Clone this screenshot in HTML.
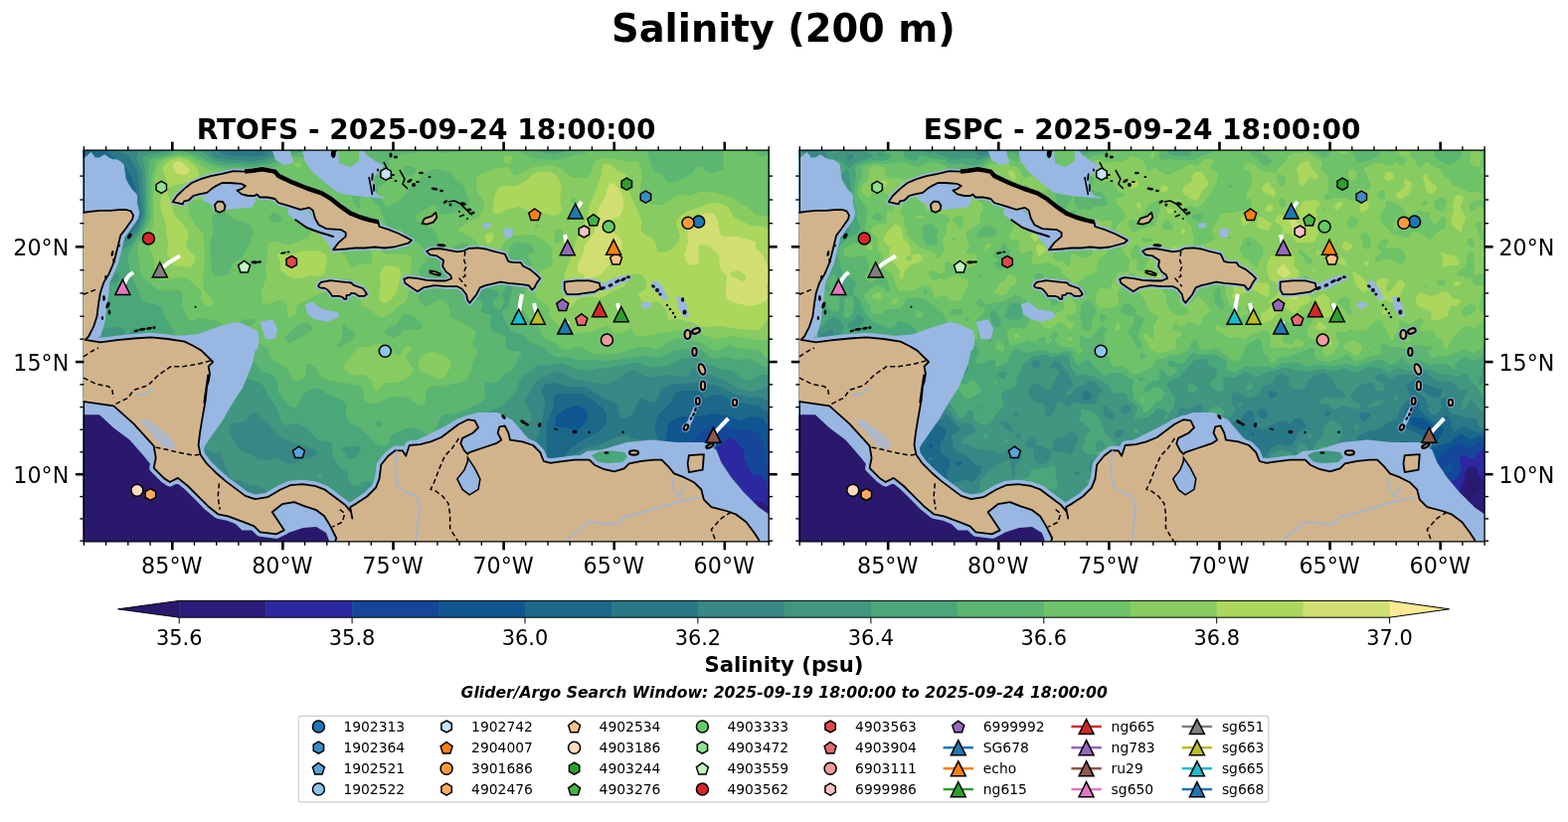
<!DOCTYPE html><html><head><meta charset="utf-8"><title>Salinity (200 m)</title><style>html,body{margin:0;padding:0;background:#fff;}svg{display:block;}</style></head><body>
<svg width="1577" height="827" viewBox="0 0 1577 827" font-family="DejaVu Sans, Liberation Sans, sans-serif">
<rect width="1577" height="827" fill="#fff"/>
<text x="787.9" y="41.8" text-anchor="middle" font-size="38.4" font-weight="bold">Salinity (200 m)</text>
<text x="428.6" y="139.5" text-anchor="middle" font-size="28.0" font-weight="bold">RTOFS - 2025-09-24 18:00:00</text>
<text x="1148.6" y="139.5" text-anchor="middle" font-size="28.0" font-weight="bold">ESPC - 2025-09-24 18:00:00</text>
<clipPath id="cl"><rect x="83.6" y="151.2" width="689.6" height="393.6"/></clipPath>
<g clip-path="url(#cl)">
<rect x="84.4" y="151.2" width="688.8" height="393.6" fill="#98b7e2"/>
<rect x="80.4" y="147.2" width="698.0" height="402.0" fill="#2a186c"/>
<path fill="#2b1c7a" d="M82 147l696 0 0 374-6 1-2 1-2 4-1 6 2 8-2 8-668 0-3-4-4-2-12 1 0-397z"/>
<path fill="#2b28a0" d="M82 147l696 0 0 365-12-7-6-1-2 1-2 3-1 11-2 2-3 1-4-2-2-2-4-11-4-3-4 0-14 6-7 11-1 4 1 4 1 1 6-3 4-1 6 4 3 3 1 8 4 8-630 0-2-9-2-4-2-3-4-1-4 1-12 3 0-389zM707 535l-3 2-1 4 0 2 1 2 4-4 1-2-1-5z"/>
<path fill="#15469a" d="M82 147l696 0 0 354-4-2-2-3-2-11-4-5-2-2-8-1-1-2-6-12-1-10-10-11-4-2-10 9-8 4-1 2 6 12 7 6 4 4 1 4 0 4-4 4-7 4-4 1-8 0-4 2-2 3-2 8-7 10-3 14-8 10 0 8-526 0-1-20-3-4-8-7-8-3-6-6-8-5-4-1-2 0-12 12-6 1-8 4-4 0-8-3 0-370z"/>
<path fill="#0f5690" d="M82 147l696 0 0 337-4-5-2-5-1-5-1-14-5-16-3-4-6-2-12 0-14-4-12-1-10 4-8 7-4 6 0 6 4 16 3 6 0 4-4 8-5 16-8 10-1 14-4 4-13 5-6 3-7 12-455 0-1-8-1-2-2-1-8 4-16-5-1-4-1-8-5-8 1-12-4-5-4-2-9-3-9-5-8-3-4-1-6 1-14 8-12 11-6 2-4-1-2-2-1-2 0-6-1-2-2-1 0-347zM101 477l0 2 1 2 2 1 2-2 1-1-1-2-4 0z"/>
<path fill="#1b6889" d="M82 147l696 0 0 299-2-3 1-8-1-2-9-12-5-2-8 1-10 3-12-5-16-2-14 3-16 0-5 2-7 4-2 2-2 12 0 6 2 4 4 5 10 4 2 4-1 15-3 16-4 5-9 3-2 8-3 4-10 4-2-1-2-3-2 0-1 0-1 2-1 8-2 10-9 12-1 4-396 0-2-8-5-4-4-1-10 0-6-7-10-5-10-2-2-2-1-3-2-10-4-6-2-8-1-2-12-3-10-1-4-2-10-8-10-5-14 1-14-6-10-5-8 1-8-2 0-314zM576 409l-8 3-8 6-1 3-1 4 2 4 2 1 8 0 8 4 3-1 3-3 6-7 1-4 0-2-2-4-5-4-4-1-4 1z"/>
<path fill="#297887" d="M104 147l674 0 0 272-14-10-26-5-14-7-5 0-11 4-3-6-5-2-14 0-6 2-2 2-3 8-13 12-3 8 0 8 3 8 2 10 4 10 1 8 4 8 0 6-3 3-10 3-8 8-6 3-12 15-3 10-3 4-6 4-6 3-6 1-14 0-12 4-20 0-4 1-8 5-9 0-3 2-251 0-3-8-4-3-20-2-7-3-3-4-2-14-2-4-8-4-16-2-10-5-4-4-6-11-10-7-10-3-12-7-4-1-10 0-22-9-6 0-8 4-6 0-4-2-4-7-4-2-14-8-10-3 0-275 14 4 4 3 8 11-2 10 2 3 8 4 10 3 4 3 2 5-4 10 1 4 2 2 3 1 2-2 4-7 2-6-4-24-4-12-8-13-12-7-6-6-2-4zM559 397l-2 4-1 10-6 16 0 32-2 4-7 10 1 4 2 4 4-2 16-14 10-14 12-8 10-5 10-7 2-3 2-5 0-6-3-6-9-7-11-7-7-1-8 1-8-1-4 0z"/>
<path fill="#388785" d="M112 147l666 0 0 260-8-5-4-2-10 0-18-4-16-8-20-3-22 1-8 2-6 3-2 2-2 8-4 3-4 1-6-3-4-1-3 4-5 12-4 3-4 1-4-2-1-2-2-8-3-4-12-5-16-10-6-1-14 0-12-4-8 1-4 3-1 2 0 4 3 8 0 6-6 28-2 4-6 6-2 4 5 8 0 2-9 12 0 4 3 8 0 4-3 8-6 8-1 6 0 4 1 2 2-1 7-11 17-14 28-32 12-8 14-3 10-5 14-5 4 0 8 4 14 2 3 1 2 4 0 10-10 22-4 2-11 0-12 4-9 4-4 4 1 4 10 10 0 2-2 4-4 4-4 2-10 0-10 5-6 2-2-1-8-5-6 0-5 3-4 6-5 4-4 2-8 1-4 1-11 10-217 0-2-4-4-4-4-6-6-4-8-5-10-1-8-3-4-5-3-8-3-3-34-17-2-4-2-10-4-5-8-1-6-4-4-1-8 1-4 0-18-9-12-1-8-7-4-2-4 0-10 0-12-7-10 0-8-3-18-3 0-241 6 3 6 10 1 4-2 8 1 4 4 4 8 3 6 7 2 1 14 0 6-1 6-7 5-13-1-9-4-35-10-15-12-4-3-3-1-2zM245 151l-17 0-6 2 2 2 8 2 10 0 12 1 8-1 5-2 1-2-6-2-16 0zM82 175l6 4 1 4-3 2-6 1 0-11z"/>
<path fill="#40967f" d="M122 147l95 0-5 4 0 2 1 2 3 3 14 3 12 0 12 1 12-2 10-5 2-2 1-2-3-4 502 0 0 240-18 6-6 1-14-4-10-7-34-13-1 1-2 6-3 2-4 0-16-2-12 2-8 0-4-2-6-4-4-1-7 3-7 6-4 3-12 3-32-7-12-6-4 1-10 3-8 5-11 18-1 4 4 7 2 7 0 4-2 3-24 11-2 0-6-5-4-1-8-1-8 4-2 3-2 4-1 10-3 6 1 4 1 2 7 6 6 8 11 8 6 1 10-2 2 1 2 2-1 4-4 8 0 10-1 4-13 18-3 4-10 6-4 1-14-7-2 3-1 11-48 0 0-8-3-1-10 3-4 0-4-1-8-6-24-1-9-10 0-4 2-6-1-1-2 0-6 3-2 2 0 2 4 4 1 2-1 4 1 2 9 5 1 3-4 8-7 0-4-8 0-8-1-2-11-4-8-5-11-5-13-3-4-5-6-3-4 0-2 1-8 5-4-1-2-4-3-12-3-3-4-2-13-3-7-4-6 0-4-2-8-18-2-8-8 0-10-5-18 1-3-2-5-7-2-1-8-1-6-4-1-3 1-2 4-12 2-2 4-1 4 2 4 3 2 6 2 2 2 0 4-3 9-9 2-6-1-4-4-6-8-7-4-1-2 0-11 8-7 3-9 3-11 5-6 15-4 4-6 2-4 0-5-2-15-9-4-1-10 1-10-4 0-44 4-1 3-2 1-4-4-12-4-3 0-49 5-2 2-2 0-2-3-2-4-1 0-62 10 3 17 8 5 1 12 0 6-3 8-8 4-8 3-8 0-8-3-38-5-12 2-6 0-2-7-3-8 0-3-1zM255 415l-3 2-5 6-3 2-8 0-4 2-1 2-1 2 1 4 7 14 2 3 10 4 10 6 6 1 12-2 12 6 6-1 12-5 6-1 4-2 1-3-1-2-4-2-14-4-16-6-6-4-8-10-8-6-4-5-2-1zM470 519l-2 2 0 2 2 3 2-3 1-2-3-2zM618 449l12-1 10 2 5 3-1 6-4 6-12 9-6 2-10 0-16 11-16 18-10 4-28 16-8 2-4-1 0-1 1-4 6-12 21-20 13-16 7-8 6-4 8-4 14-3 12-5zM384 546l4 1 1 2-7 0 0-2z"/>
<path fill="#4aa77a" d="M148 147l60 0-4 4 0 2 5 4 7 4 12 3 14 0 12 1 12-2 10-4 10-6 1-2-2-4 493 0 0 230-14 0-3 2-5 4-4 0-6-2-9-8-13-2-10-3-5-3-7-5-4-1-13 2-9 5-6 2-16 2-11-5-7 0-22 5-14 1-8 2-14-2-12-5-6 0-10 2-8-1-2 0-6 6-6 3-3 3-3 5-3 11-9 8-5 6-9 3-8 5-20 5-14 7-2 2-1 8 2 20 1 3 7 7 1 12 0 2-2 3-10 1-4 2-4 5-2 0-2-3-1-8-3-6 0-10-2-4-4-2-10-2-6 2-6 5-10 1-4 2-14 17-12-2-6 4-6 0-3-3-2-10-2-2-7-4-4-8-2-6 0-8-1-2-3-1-8-1-4-2-8-8-8-6-4-1-10 2-4-2-2-3-4-14-9-12-3-8-4-3-10-4-14-2-2 1-6 8-10 8-4 1-6-1-8-5-4-4-6-10-6-2-6-1-10 2-10-1-2 1-6 9-4 1-3-2-3-4-2-6 5-8 9-6 3-4-1-4-6-4-3-10-3-4-6-5-2 0-3 1-3 4-2 8-2 3-2 1-2-1 0-3 4-10-1-2-3-1-6-1-12 2-4-2-10-9 0-3 0-2 8-3 2-3 2-20 2-4 2-1 8 1 4-2 2-2 0-4-2-2-10-3-2-2-1-9-5-8 1-2 3-1 18 1 4-1 4-3 10-14 5-10 2-10-1-30 0-12-2-12 1-2 3-1 16-3 2-2-4-1-10 0-5-3zM166 355l-1 4 1 4 2 1 4-1 1-2-1-4-2-2-2-1-2 1zM352 449l-6 1-2 1 2 4 4 6 2 1 2 0 4-3 4-4 1-2 0-2-3-2-6 0zM106 368l4 0 3 1 2 4 6 2 2 2 0 8-4 8-11 11-6 3-8 3-4 0-10-5 0-22 10-1 15-13zM622 456l4 0 3 1 0 2-1 2-4 1-4-3 1-2zM584 469l4 0 1 2-1 6-3 6-7 5-6 2-1-1 1-4 4-8 4-6 3-2zM320 477l4 2 0 2-4 1-1-3zM556 501l4-1 0 3-5 4-5 1 1-3 4-4zM452 548l2 1-2 0z"/>
<path fill="#5cb571" d="M172 147l19 0-6 4 3 2 14 5 10 5 8 3 8 1 14 0 12 1 18-3 18-9 18-4 10 2 10 0 10 1 12 1 6-1 3-2-1-2-9-4 207 0-6 3-5 1-1 2 14 2 8-2 1-2-3-4 214 0 0 221-6 1-4 0-12-7-4-1-12 1-10-3-10 2-4-1-10-7-8-2-22 2-10 6-4 1-14-2-40 5-12-1-12 1-10-3-16-1-3-2-9-8-12-4-9-8-11-4-8-14-1-4 0-2 6-4 3-12 1-10 3-4 4-2 3-4-1-3-2-2-6-2-5 3-3 6 1 8-1 4-3 4 2 8-3 8-2 1-2-1-4-6 0-2 6-6 0-2-4-3-16-4-5 3-3 4 0 3 2 2 9 3 1 2-2 6 0 3 8 2 2 1-1 8 1 6 2 2 10 4 2 2 1 2 0 8 1 2 4 2 8 0 2 2 0 2-8 14-2 2-8 5-6 7-4 1-6-2-2 2-1 3 2 10-5 6-24 11-12 1-4 2-2 4-4 9-4 4-6 1-6-5-4-2-10 1-14 6-3 8-1 2-4 2-6-1-2-1-6-7-9-9-3-2-6-2-4-3-2-5 0-12-2-3-2-1-12-5-11-7-5 0-6 2-4 2-3 4-4 10-3 1-2 0-4-2-10-13-1-10-3-6-2-2-10-3-8-9-10-8-12-4-10-6-2 0-6 2-8 0-4 0-8 6-2 0-10-5-3-3-3-4-3-10-8-12-5-12-4-2-12-3-4-3-1-2-3-10-6-10-4-20 8-16 8-12 4-10 1-8-1-30 2-22 2-2 14-3 8-3 2-2-5-4zM380 423l-3 2 0 2 5 2 2-1 0-3-4-2zM296 147l35 0-3 1-10 0-10 3-8-1-4-3z"/>
<path fill="#6ec268" d="M464 147l67 0-6 4-1 2 2 2 14 5 18 1 6-1 16-5 8 0 2-2-10-2-4-4 78 0-3 6 4 14 3 5 8 3 4 7 4 2 8-2 14-7 4-7 2-1 4 1 6 5 4 1 11-3 1-2-1-6 1-6-4-10 20 0 2 3 3-1 1-2 11 0-3 4 1 2 5 4 4 0 10-4 0 46-1 2 1 3 0 154-6 2-2 0-4-6-4-2-18-1-10-4-4 2-8 4-4 0-12-8-22-5-10 3-12 8-4 0-6-2-10 0-18 6-22 2-8-2-10-6-4 0-8 3-6 0-6-6-11-5-4-4-3-10-4-4-6-2-2-2-3-6-2-6 2-12 7-16 0-16 0-2-4-4 2-2 5 0 0-4-2-4-3-2-8-1-4-1-4 2-3 4-2 10-5 8-6 5-4 2-4-1-6-3-7-7-2-4-3-9-4-4-6-2-12 8-2 0-2 0-7-9-3-10-4-3-14-7-2-2 0-2 2-4 16-9 2 0 4 9 4 1 6-1 12-3 4-2 3-3 1-4-6-16-4-4-5-4-3-4-2-2-12-3-4 0-4 1-6 4-5 6-5 4-12 15-12 8-4-1-7-10-1-4 0-4 8-6 2-4 1-12 0-6 11-5 28-4 12 2 20-1 4-2-3-4zM407 167l-1 2 0 2 2 5 4 1 5-2 1-2 0-2-1-2-4-2-5 0zM180 155l12 2 24 11 14 3 12-1 12 1 20-2 6-2 10-8 6-1 16 0 30 4 9 13 1 4-2 8 4 8 1 8 5 6 3 0-2-6 1-4 4-2 6 2 10 10 6 16 4 6 4 1 6-2 7 7 11 7 4 3 6 12-1 4-5 4-2 4 0 4 3 6 1 4-5 14 2 6 2 2 3 1 4-1 10-6 4 1 4 4 2 3 1 10 13 6 12 8 1 2-3 8-1 4 5 6 0 2-4 8-3 12-3 6-6 4-8 1-8 3-12-1-3 1-3 2-2 4 0 9-2 3-2 1-4-1-10-7-12-1-8 1-12 6-6 0-4-2-2-3-1-10-3-3-34-6-4-3-6-8-6-5-2 0-2 1-1 10-2 4-5 2-4 0-2-1-5-11-13-8-5-4-1-8-20-12-2-2 0-4 0-2 9-8-3-2-8 0-8 5-8 3-4-2-6-3-14-4-6 0-6 3-4-1-7-13 0-4 1-8-2-4-4-1-16 0-4-1-4-3-10-9-3-4-1-12-2-8 0-4 1-6 8-14 4-10 1-6 0-34 3-16 1-3 4-2 19-5zM309 189l-1 6 2 3 5-1 3-2 3-4-3-2-8-1zM219 213l-4 4-2 4 2 10-4 16 2 26 2 4 3 1 8-1 4-2 4-11 6-3 4-3 7-13 4-12-1-4-6-5-4-1-8-2-10-8-4-1-2 0zM273 215l-2 4 0 2 1 1 4 2 6-1 2-2-2-4-4-3-4 0zM329 313l0 2 1 0 2-2-2 0zM405 317l-5 8-2 2-6 2-5 4 0 2 2 2 7 3 4-2 6-6 8-1 6 1 4-1 1-2 0-2-9-9-4-2-6 0zM303 325l-8 6-8 8 0 2 3 4 2 0 21-12 1-2 0-2-4-4-2-1-4 1zM345 327l-1 2 0 12-2 3-3 3 0 2 1 1 4-1 6-4 5-4 3-4-1-2-8-6-3-3z"/>
<path fill="#88cc61" d="M508 147l11 0-3 3-4 1-2-1-3-3zM600 147l43 0-5 5-8 1-6 0-8-3-12 0-5-3zM180 157l10 2 18 11 13 5 2 2 2 4 0 4-2 4-11 12-2 1-8-1-8 1-4-2-1 3 1 10 2 6 5 8 6 6 2 4 1 24-2 20 1 10 1 2 6 6 2 4 0 2-1 2-3 1-3-1-3-2-2-4 1-6-1-2-12-12-6-2-4 0-14 3-4-1-4-4-3-6 0-10-6-16 0-6 5-12 1-8-1-18 1-18 2-12 3-6 5-4 5-2 8-2zM508 157l4-1 3 1 1 2-1 2-3 4-2 0-2-1-2-3 0-2 2-2zM604 159l6 0 10 1 10 3 10-1 2 1 2 3 2 9 0 4-2 8 0 6 5 8 3 3 4 2 6 0 4 0 18-11 10 2 10-4 12 0 22 6 6 5 9 5 7 7 18 3 0 110-2 2-2 8-2 2-4 1-6 0-26-4-6 1-10 2-20-7-18-2-32 6-6 1-6-2-1-2-1-4-2-1-8 5-6 1-4-3-3-4-3-1-4 1-10 5-8 0-12 2-7-1-3-2-11-12-2-4-1-8-4-4-8-5-2-5 0-8 4-12 2-2 8-4 4-4 0-4-2-14-8-5-8-6-22 1-6 4-14 19-4 1-4-2-6-12-5-6-7-5-8-3-2-2 10-7 10-4 2-2 4-7 1-4-1-5-6-9-1-6 0-8 4-4 15-5 12-3 6 8 4 2 4-2 8-5 4-2 16-2 11 3 13 10 12 0 4-2 2-3 4-11 2-2 4-2zM575 199l-1 2 0 2 2 2 2 1 2-3 0-2-4-2zM538 227l0 3 2 0 3-3-3-1-2 1zM559 231l-1 4-1 8 1 2 2 0 5-2 1-3 1-5-2-4-3-1-2 1zM296 165l4-2 2 1 2 1 0 2-4 2-4-2 0-2zM776 175l2-2 0 12-3-2-2-2 1-4 2-2zM256 177l6-1 3 1 0 2-3 4-6 1-3-3 0-2 2-2zM242 178l2 1-2 2-1-2zM274 194l2 0 6 3 9 6 0 2-3 0-4-2-10-8zM328 211l2 0 2 2-1 2-3 0-1-2 0-2zM372 224l4 1 3 4 2 20 3 4 6 3 10-1 10 1 3 1 1 2-1 28-4 14-1 2-8 6-8 7-6 3-5 0-9-8-8-3-7-23-5-4-4-1-6 1-16 13-10 4-16 8-2 3 0 6-1 2-3 2-4 0-1-2 0-10-5-5-4 0-10 4-6-1-1-2 0-10 5-14-1-10 2-10 0-10 1-3 2-2 4-1 12 3 4 0 18-7 4-6 2-2 8-2 8 1 4 1 2 2 1 2-1 10 2 6 8 8 4 9 2 1 8-3 8 0 3-1 2-4-2-8 3-6-1-4-7-6-1-4 1-4 3-4zM378 347l4-1 4 1 8 8 6 3 3-1 3-6 2-2 2-1 3 1 1 2-1 2-5 6 2 4 6 8 0 2-3 4-7 5-6 3-10 0-4 1-4 5-4 2-2-2-2-8-6-5-4-1-6 1-4-1-3-2-5-4-1-2 1-2 13-16 3-2 10 0 5-2zM430 355l6-1 4 1 9 4 4 4 0 2 0 4-4 8-3 3-4 1-4-1-6-4-8-2-3-3 0-4 1-6 4-4 3-2z"/>
<path fill="#abd75d" d="M180 159l8 2 8 6 3 4 2 6-2 4-3 1-23 5-4 2 0 2 0 6 4 8 1 10 8 8 7 10 1 4-3 8 0 4 7 7 3 3-1 4-2 3-2 2-4 1-13-2-2-2-1-2-4-8 1-10-3-22-5-14 1-12 2-7 3-3 1-2-1-6-3-6 0-4 4-6 4-2 7-2zM610 165l6 2 6 6 6 2 2 2 1 8 2 8 12 28 0 12 2 2 7 4 4 2 4 13 4 0 6-1 6-5 4-4 2-7-4-12 1-4 4-4 5-4 12-4 12-5 8 0 8 3 3 2 5 9 6 4 12 5 12 1 10 5 0 13-3 3-1 4 2 8 2 4 0 48-2 2-10 15-2 1-4 1-18-1-16-3-14 1-8-1-8-4-14-3-10 1-2-11-6-6-4-2-8 3-2 0-4-3-3-4-1-2 1-2 6-4 1-2 0-4-2-6-4-3-4-1-4 1-2 1-6 11-10 4-12 7-4 1-8-2-8 1-5 2-7 8-2 1-2-1-2-4-1-6 5-6 0-2-4-8-1-6 9-22 3-12 12-26 2-12 6-12 6-18 1-8 2-2zM542 173l10 0 4 1 4 3 4 8 1 4-2 10 2 12-3 5-6 1-10-3-12 0-12-6-13 3-7 4-4 0-2-2 0-4 2-14 3-6 5-2 10 0 4 0 10-6 6-6 5-2zM490 235l4-1 3 3-2 6-3 2-2 0-2-4 0-4 2-2zM302 253l12-1 8 1 5 2 1 2 1 4-3 14-4 3-10-1-10 3-6 0-6-2-6-5-2-2 0-8-3-6 0-2 3 0 4 2 4 0 12-4zM386 268l6-1 6 1 4 3 2 4-4 15-3 7-5 5-6 3-4-2-1-8 2-12-1-8 2-4 1-2z"/>
<path fill="#d1df72" d="M176 163l4-1 4 2 7 7-1 3-2 2-4 0-6-1-4-8 0-2 2-2zM614 184l4 1 4 4 4 8 1 6 0 6-3 7-2 2-8 3-2 2-1 4 1 3 8 6 5 5 1 4-3 12-3 4-8 6-6 8-6 3-6 2-3 5-3 0-1-2-1-2 2-4-6-3-1-3 0-4 5-10 2-10 10-14 4-24 6-10 4-12 1-2zM708 215l6-1 2 0 4 3 2 6 2 11 2 3 2 1 8 0 6 0 18 5 0 7 6 5 2 3 6 15-1 6-2 10 1 10-2 4-2 1-4 2-10 2-18-4-4-3-1-2-1-4 1-18-5-4-2-4-1-12-1-2-10-8-6-1-3 1-1 2 1 12-1 4-2 1-6 1-4-4-2-6 4-12-1-20 2-4 3-2 11-4zM737 273l-3 2 1 2 9 5 4 1 2-2 0-4-4-3-4-2-4 1z"/>
<path fill="#98b7e2" d="M78 400 L114.3 405 L136 424 L157 446 L160 470 L172 482 L190 487 L210 505 L230 515 L256 524 L270 512 L282 502 L300 499 L320 504 L335 518 L345 552 L78 552Z"/>
<path fill="#2a186c" d="M78 417.3 L100.1 417.3 L114.3 430.5 L130.4 442.6 L144.6 458.7 L152.6 468.8 L160.7 476.9 L168.8 480.9 L178.9 485 L193 495.1 L203.1 505.1 L213.2 515.2 L225.3 521.3 L237.4 527.4 L243.5 533.4 L255.6 533.4 L265.7 535.4 L277.8 539.5 L290 536 L305 531 L318 530 L328 536 L334 552 L78 552Z"/>
<path fill="#2a186c" d="M305 510 L312 508 L318 512 L312 515 L306 514Z"/>
<path fill="#98b7e2" d="M78 159.3 L85.3 158.4 L91.5 153.1 L94.6 156.6 L95.5 158.4 L100 158.4 L105.3 155.3 L109.7 158.4 L113.3 160.2 L117.7 160.2 L122.2 162.9 L124.8 165.5 L125.7 172.6 L126.6 179.7 L129.3 185.1 L132.8 190.4 L136.4 193.9 L138.2 197.5 L137.8 203.6 L140.3 213.6 L139.1 219.8 L135.3 224.8 L130 232 L78 232Z"/>
<path fill="#98b7e2" d="M134 216 L133 221 L127 231 L122.5 237 L120.4 250.5 L117 264 L113.5 276 L110 285 L109.4 294.5 L108 305 L106.5 315 L106 321.6 L104 330 L101 338 L95 342 L88 341 L94.2 328.3 L97.5 318.2 L99.2 304.6 L100.9 294.5 L104.3 284.3 L109.4 275.9 L114.5 264 L117.9 250.5 L121.2 236.9 L126.3 230.2Z"/>
<path fill="#98b7e2" d="M100.5 331.7 L103 341.9 L115.7 340 L134.8 339.4 L153.8 336.8 L160.2 338.1 L172.9 338.1 L185.6 337.5 L198.3 336.2 L211 331.7 L223.7 327.3 L236.4 324.1 L244 325.4 L251.6 329.2 L259.2 333 L260.5 340.6 L259.2 350.8 L252.9 355.9 L249.1 359.7 L246.5 367.3 L242.7 376.2 L238.9 386.3 L236.4 396.5 L233.8 406.7 L205.9 406.7 L198.3 363.5 L160.2 350.8 L103 350.8Z"/>
<path fill="#98b7e2" d="M259.2 337.5 L254.2 365 L244.2 390.1 L234.2 405.1 L224.2 422.6 L206.7 447.6 L201.6 457.6 L194.1 415.1 L199.1 337.5Z"/>
<path fill="#98b7e2" d="M202.7 200.8 L212.6 190.1 L223.3 184.8 L246.1 187.1 L253.7 195.4 L257.5 200.8 L253.7 208.4 L230.9 210.7 L215.7 213.5 L212.6 206.1Z"/>
<path fill="#98b7e2" d="M289.7 208.9 L309 211.8 L316.8 220.5 L320.6 227.2 L338 231.1 L347.7 235 L342.9 242.7 L335.1 251.4 L323.5 236.9 L309 229.2 L296.4 221.4 L289.7 215.6Z"/>
<path fill="#98b7e2" d="M303.7 149 L363 149 L369 156 L377.7 162.2 L386 166.5 L383 170.5 L376 178.5 L375 186 L377.7 193 L382 197.7 L389 198 L385 199.5 L376 198.7 L367 198 L357.4 197 L347 195.6 L338.6 192.9 L326 183.1 L314.9 173.3 L306.5 162.2Z"/>
<path fill="#98b7e2" d="M273.9 151.8 L292 151.8 L295.3 164.2 L285.4 165.8 L277.2 160.9Z"/>
<path fill="#98b7e2" d="M306.8 306.2 L314.3 303.7 L324.3 311.2 L339.3 313.7 L341.8 318.7 L329.3 323.7 L316.8 321.2 L309.3 316.2Z"/>
<path fill="#98b7e2" d="M261.7 323.7 L274.2 321.2 L279.2 331.2 L276.7 341.2 L266.7 341.2Z"/>
<path fill="#98b7e2" d="M380 468.9 L390 455.6 L405 450.1 L430.1 437.6 L450.1 427.6 L460.1 421.4 L480.1 415.1 L500.2 415.1 L515.2 422.6 L530.2 440.1 L542.7 450.1 L550.2 462.7 L580.3 460.2 L590.3 453.9 L605.3 452.6 L630.3 445.1 L655.3 442.6 L680.4 445.1 L707.9 445.1 L720.4 452.6 L725.4 465.2 L735.4 480.2 L748 495.2 L763 510.2 L775.5 519 L775.5 552 L380 552Z"/>
<path fill="#98b7e2" d="M507 230 L516 230 L515 238 L510 240.5 L507 236Z"/>
<path fill="#98b7e2" d="M605 286 L615 281 L625 277.5 L634.5 276.5 L635 281 L626 285 L616 290 L607 293Z"/>
<path fill="#98b7e2" d="M655.7 283 L661 282.5 L667 290 L671.8 300 L668 303 L662 296 L656 290Z"/>
<path fill="#98b7e2" d="M680 299 L686 298.5 L690 305 L693 318 L688 319.5 L683 312Z"/>
<path fill="#98b7e2" d="M645 305 L652 303 L656 307 L650 311 L645 309Z"/>
<path fill="#98b7e2" d="M698 409 L702 410 L697 422 L692 433 L688 432 L692 422Z"/>
<path fill="#98b7e2" d="M485 225 L494 224 L493 229 L486 229.5Z"/>
<path fill="#6ec268" d="M340 151 L361 151 L361 162 L352 168 L341 164Z"/>
<path fill="#4aa77a" d="M595 458 L602 454.5 L615 453.5 L628 455 L631 460 L626 465 L612 466 L600 465Z"/>
<path fill="#98b7e2" stroke="#98b7e2" stroke-width="5" stroke-linejoin="round" d="M173.8 203.1 L178 197 L185.2 190.1 L192.8 184 L202 180.2 L211.9 177.2 L223.3 174.9 L234.7 172.2 L246.1 172.6 L253.7 171.8 L263.6 170.3 L276.5 172.6 L280 176.9 L294.5 183.7 L309 189.5 L323.5 194.3 L333.2 200.2 L342.9 207.9 L352.6 214.7 L362.2 218.5 L371.9 221.4 L380.6 223.4 L381.5 228 L391.3 231.1 L400.9 235 L408.7 238.9 L414 241.8 L410.6 244.7 L396.1 248.5 L386.4 249.5 L376.7 248.5 L367.1 249.5 L357.4 249.5 L347.7 250.5 L335.1 251.4 L340 244.7 L347.7 237.9 L347.7 234 L342.9 231.1 L328.4 230.1 L320.6 226.3 L316.8 219.5 L314.8 211.8 L311 208.9 L302.3 210.8 L289.7 206.9 L280 204 L276.5 200 L268.9 198.5 L261.3 198.5 L258.3 195.4 L256 197 L249.9 197 L243 195.4 L238.5 191.6 L243 190.1 L246.9 187.1 L242.3 184.8 L230.9 184 L223.3 184 L217.2 187.1 L212.6 190.1 L208.1 193.9 L200.4 195.4 L194.4 197 L189.8 201.5 L185.2 202.3 L183.7 205.3Z"/>
<path fill="#98b7e2" stroke="#98b7e2" stroke-width="5" stroke-linejoin="round" d="M429.1 252.8 L433.6 250.5 L441.6 250 L450.8 251.7 L459.9 253.4 L466.7 252.3 L471.3 250 L480.4 249.4 L488.4 250.5 L496.4 252.8 L503.3 254.5 L507.8 255.7 L511.3 263.1 L517 264.2 L523.8 264.2 L526.1 267.7 L533 271.1 L538.7 275.7 L543.2 280.2 L539.8 284.8 L537.5 289.4 L535.2 291.6 L531.8 287.1 L522.7 285.9 L511.3 284.8 L503.3 283.6 L494.1 285.9 L488.4 287.1 L482.7 289.4 L479.3 296.2 L474.7 301.9 L472.5 304.8 L470.2 301.9 L469 296.2 L464.5 290.5 L459.9 288.2 L448.5 288.2 L437.1 287.1 L425.7 289.4 L420 293.3 L414.2 289.4 L407.4 284.8 L406.3 280.8 L410.8 279.1 L420 280.2 L429.1 281.9 L440.5 282.5 L448.5 282.5 L454.2 280.2 L453.1 276.8 L448.5 273.4 L445.1 267.7 L446.2 262 L439.4 257.4 L432.5 256.3Z"/>
<path fill="#98b7e2" stroke="#98b7e2" stroke-width="5" stroke-linejoin="round" d="M320.6 286.3 L323 283.9 L330.2 282.7 L331.4 282.1 L336.3 282.7 L342.3 283.3 L347.2 283.9 L353.2 284.5 L355.6 286.9 L360.5 288.7 L364.7 290 L367.1 293 L368.9 296 L366.5 297.8 L360.5 297.8 L357.4 295.4 L353.2 294.8 L352 296.6 L348.4 297.2 L348.4 300.8 L345.9 300.8 L344.7 299 L341.1 297.8 L333.9 297.8 L332.6 295.4 L329 291.2 L326.6 290 L321.8 289.3 L320.3 288.1Z"/>
<path fill="#98b7e2" stroke="#98b7e2" stroke-width="5" stroke-linejoin="round" d="M567.7 283.7 L580.3 282.4 L592.8 282.4 L602.8 284.9 L604 289.9 L597.8 293.7 L580.3 296.2 L570.2 296.2 L567.7 291.2Z"/>
<path fill="#98b7e2" stroke="#98b7e2" stroke-width="5" stroke-linejoin="round" d="M692.9 458.1 L707.9 457.1 L706.7 472.7 L692.9 475.2 L691.6 466.4Z"/>
<path fill="#98b7e2" stroke="#98b7e2" stroke-width="9" stroke-linejoin="round" d="M78 214.8 L90.4 212.8 L100.8 211.8 L111.4 211.8 L121.5 210.9 L127 211 L131.5 212.3 L134.1 216.6 L133.1 220.5 L126.3 230.2 L121.2 236.9 L117.9 250.5 L114.5 264 L109.4 275.9 L104.3 284.3 L100.9 294.5 L99.2 304.6 L97.5 318.2 L94.2 328.3 L89.1 338.5 L85.7 341.9 L100.9 344.4 L117.9 342.2 L134.8 340.5 L151.7 339.3 L168.6 341 L185.6 343.6 L194.5 348 L202.5 352.6 L211 361 L214.2 364.1 L209.7 368.6 L211 376.2 L209.7 383.8 L207.2 391.4 L205.9 400.3 L205.3 405 L209.2 377.5 L206.7 402.6 L203.6 420.1 L201.1 435.1 L199.6 447.6 L201.6 457.6 L207.9 466.4 L216.7 475.2 L226.7 483.9 L236.7 491.4 L246.7 498.9 L256.7 502.2 L269.2 500.2 L281.7 492.7 L291.8 488.2 L304.3 487.2 L316.8 488.9 L326.8 492.7 L336.8 500.2 L346.8 507.7 L353.1 515.2 L354.3 521.5 L352.2 510.2 L358.4 506.6 L369.1 499.5 L378 490.6 L381.5 481.8 L383.3 467.5 L390.4 458.7 L397.5 453.3 L404.7 453.3 L408.2 458.7 L411.8 448 L422.4 447.1 L433.1 444.4 L443.8 440 L454.4 432 L461.5 426.7 L470.4 422.2 L477.5 423.1 L481.1 430.2 L475.8 435.5 L465.1 440.9 L463.3 446.2 L466.9 453.3 L470.4 456.9 L472.2 455.1 L482.9 451.5 L498.9 446.2 L504.2 442.7 L500.6 435.5 L502.4 429.3 L507.7 428.4 L511.3 435.5 L513.1 442.7 L525.5 444.4 L536.2 448 L543.3 455.1 L546.8 464 L553.9 465.8 L560 464.9 L577.7 462.7 L592.8 462.7 L597.8 467.7 L607.8 472.2 L617.8 474.4 L627.8 471.4 L632.8 466.4 L645.3 463.9 L657.8 462.7 L665.4 462.7 L667.9 465.2 L672.9 470.2 L677.9 476.4 L687.9 480.2 L697.9 485.2 L705.4 492.7 L707.9 502.7 L715.4 510.2 L730.4 514 L740.5 517.7 L750.5 525.2 L758 535.2 L763 542.8 L765.5 552 L334.3 552 L338.3 541.5 L332.3 529.4 L326.2 519.3 L318.2 513.2 L306 509.2 L295.9 505.1 L283.8 507.2 L273.7 515.2 L277.8 521.3 L285.9 533.4 L277.8 537.4 L261.6 535.4 L255.6 529.4 L245.5 525.3 L229.3 519.3 L219.2 517.3 L209.2 509.2 L201.1 501.1 L189 489 L178.9 480.9 L170.8 485 L164.7 480.9 L154.7 470.8 L156.7 460.7 L154.7 448.6 L134.5 426.4 L114.3 408.3 L78 403.2 L78 403Z"/>
<line x1="84.4" y1="151.2" x2="84.4" y2="544.8" stroke="#000" stroke-width="1.3"/>
<g fill="#d2b48c" stroke="#000" stroke-width="1.8" stroke-linejoin="round">
<path d="M78 214.8 L90.4 212.8 L100.8 211.8 L111.4 211.8 L121.5 210.9 L127 211 L131.5 212.3 L134.1 216.6 L133.1 220.5 L126.3 230.2 L121.2 236.9 L117.9 250.5 L114.5 264 L109.4 275.9 L104.3 284.3 L100.9 294.5 L99.2 304.6 L97.5 318.2 L94.2 328.3 L89.1 338.5 L85.7 341.9 L100.9 344.4 L117.9 342.2 L134.8 340.5 L151.7 339.3 L168.6 341 L185.6 343.6 L194.5 348 L202.5 352.6 L211 361 L214.2 364.1 L209.7 368.6 L211 376.2 L209.7 383.8 L207.2 391.4 L205.9 400.3 L205.3 405 L209.2 377.5 L206.7 402.6 L203.6 420.1 L201.1 435.1 L199.6 447.6 L201.6 457.6 L207.9 466.4 L216.7 475.2 L226.7 483.9 L236.7 491.4 L246.7 498.9 L256.7 502.2 L269.2 500.2 L281.7 492.7 L291.8 488.2 L304.3 487.2 L316.8 488.9 L326.8 492.7 L336.8 500.2 L346.8 507.7 L353.1 515.2 L354.3 521.5 L352.2 510.2 L358.4 506.6 L369.1 499.5 L378 490.6 L381.5 481.8 L383.3 467.5 L390.4 458.7 L397.5 453.3 L404.7 453.3 L408.2 458.7 L411.8 448 L422.4 447.1 L433.1 444.4 L443.8 440 L454.4 432 L461.5 426.7 L470.4 422.2 L477.5 423.1 L481.1 430.2 L475.8 435.5 L465.1 440.9 L463.3 446.2 L466.9 453.3 L470.4 456.9 L472.2 455.1 L482.9 451.5 L498.9 446.2 L504.2 442.7 L500.6 435.5 L502.4 429.3 L507.7 428.4 L511.3 435.5 L513.1 442.7 L525.5 444.4 L536.2 448 L543.3 455.1 L546.8 464 L553.9 465.8 L560 464.9 L577.7 462.7 L592.8 462.7 L597.8 467.7 L607.8 472.2 L617.8 474.4 L627.8 471.4 L632.8 466.4 L645.3 463.9 L657.8 462.7 L665.4 462.7 L667.9 465.2 L672.9 470.2 L677.9 476.4 L687.9 480.2 L697.9 485.2 L705.4 492.7 L707.9 502.7 L715.4 510.2 L730.4 514 L740.5 517.7 L750.5 525.2 L758 535.2 L763 542.8 L765.5 552 L334.3 552 L338.3 541.5 L332.3 529.4 L326.2 519.3 L318.2 513.2 L306 509.2 L295.9 505.1 L283.8 507.2 L273.7 515.2 L277.8 521.3 L285.9 533.4 L277.8 537.4 L261.6 535.4 L255.6 529.4 L245.5 525.3 L229.3 519.3 L219.2 517.3 L209.2 509.2 L201.1 501.1 L189 489 L178.9 480.9 L170.8 485 L164.7 480.9 L154.7 470.8 L156.7 460.7 L154.7 448.6 L134.5 426.4 L114.3 408.3 L78 403.2 L78 403Z"/>
<path d="M173.8 203.1 L178 197 L185.2 190.1 L192.8 184 L202 180.2 L211.9 177.2 L223.3 174.9 L234.7 172.2 L246.1 172.6 L253.7 171.8 L263.6 170.3 L276.5 172.6 L280 176.9 L294.5 183.7 L309 189.5 L323.5 194.3 L333.2 200.2 L342.9 207.9 L352.6 214.7 L362.2 218.5 L371.9 221.4 L380.6 223.4 L381.5 228 L391.3 231.1 L400.9 235 L408.7 238.9 L414 241.8 L410.6 244.7 L396.1 248.5 L386.4 249.5 L376.7 248.5 L367.1 249.5 L357.4 249.5 L347.7 250.5 L335.1 251.4 L340 244.7 L347.7 237.9 L347.7 234 L342.9 231.1 L328.4 230.1 L320.6 226.3 L316.8 219.5 L314.8 211.8 L311 208.9 L302.3 210.8 L289.7 206.9 L280 204 L276.5 200 L268.9 198.5 L261.3 198.5 L258.3 195.4 L256 197 L249.9 197 L243 195.4 L238.5 191.6 L243 190.1 L246.9 187.1 L242.3 184.8 L230.9 184 L223.3 184 L217.2 187.1 L212.6 190.1 L208.1 193.9 L200.4 195.4 L194.4 197 L189.8 201.5 L185.2 202.3 L183.7 205.3Z"/>
<path d="M429.1 252.8 L433.6 250.5 L441.6 250 L450.8 251.7 L459.9 253.4 L466.7 252.3 L471.3 250 L480.4 249.4 L488.4 250.5 L496.4 252.8 L503.3 254.5 L507.8 255.7 L511.3 263.1 L517 264.2 L523.8 264.2 L526.1 267.7 L533 271.1 L538.7 275.7 L543.2 280.2 L539.8 284.8 L537.5 289.4 L535.2 291.6 L531.8 287.1 L522.7 285.9 L511.3 284.8 L503.3 283.6 L494.1 285.9 L488.4 287.1 L482.7 289.4 L479.3 296.2 L474.7 301.9 L472.5 304.8 L470.2 301.9 L469 296.2 L464.5 290.5 L459.9 288.2 L448.5 288.2 L437.1 287.1 L425.7 289.4 L420 293.3 L414.2 289.4 L407.4 284.8 L406.3 280.8 L410.8 279.1 L420 280.2 L429.1 281.9 L440.5 282.5 L448.5 282.5 L454.2 280.2 L453.1 276.8 L448.5 273.4 L445.1 267.7 L446.2 262 L439.4 257.4 L432.5 256.3Z"/>
<path d="M320.6 286.3 L323 283.9 L330.2 282.7 L331.4 282.1 L336.3 282.7 L342.3 283.3 L347.2 283.9 L353.2 284.5 L355.6 286.9 L360.5 288.7 L364.7 290 L367.1 293 L368.9 296 L366.5 297.8 L360.5 297.8 L357.4 295.4 L353.2 294.8 L352 296.6 L348.4 297.2 L348.4 300.8 L345.9 300.8 L344.7 299 L341.1 297.8 L333.9 297.8 L332.6 295.4 L329 291.2 L326.6 290 L321.8 289.3 L320.3 288.1Z"/>
<path d="M567.7 283.7 L580.3 282.4 L592.8 282.4 L602.8 284.9 L604 289.9 L597.8 293.7 L580.3 296.2 L570.2 296.2 L567.7 291.2Z"/>
<path d="M692.9 458.1 L707.9 457.1 L706.7 472.7 L692.9 475.2 L691.6 466.4Z"/>
<path d="M216 206 L219 202.6 L224 203 L226.5 207 L225.5 211.5 L221 213.8 L217 212Z"/>
<path d="M424.4 224.8 L426.9 219.8 L434.4 217.3 L438.2 213.6 L439.4 218.6 L435.7 223.6 L429.4 225.6Z"/>
<path d="M432.5 272.5 L437.5 273.2 L443 275.5 L442.5 277 L437 276 L432.5 274.3Z"/>
</g>
<path fill="none" stroke="#000" stroke-width="4.5" stroke-linejoin="round" d="M246.1 172.6 L253.7 171.8 L263.6 170.3 L276.5 172.6 L280 176.9 L294.5 183.7 L309 189.5 L323.5 194.3 L333.2 200.2 L342.9 207.9 L352.6 214.7 L362.2 218.5 L371.9 221.4 L380.6 223.4"/>
<path fill="none" stroke="#000" stroke-width="2" stroke-linejoin="round" d="M296.7 220.8 L302 224.5 L308 228.7 L315 231.5 L322 234 L329 236 L335.8 238.2"/>
<path fill="#98b7e2" stroke="#000" stroke-width="1.5" d="M470.4 460.4 L477.5 471.1 L482.9 481.8 L481.1 492.4 L472.2 497.8 L465.1 492.4 L459.8 481.8 L466.9 472.9 L470.4 464Z"/>
<path fill="#aeb8c8" d="M139.1 422.6 L149.1 422.6 L159.1 430.1 L169.1 437.6 L176.6 447.6 L174.1 452.6 L164.1 450.1 L156.6 442.6 L151.6 435.1 L144.1 427.6Z"/>
<g fill="none" stroke="#98b7e2" stroke-width="1.5">
<path d="M570.2 542.8 L592.8 525.2 L620.3 527.7 L627.8 520.2 L655.3 512.7 L680.4 505.2 L702.9 500.2"/>
<path d="M675.4 480.2 L677.9 492.7 L682.9 500.2 L689.1 488.9"/>
<path d="M136.6 397.6 L146.6 396.3 L154.1 390.1"/>
<path d="M399.3 453.3 L397.5 471.1 L399.3 488.9 L410 496 L418.9 499.5 L422.4 510.2 L420.6 524.4 L418.9 546"/>
</g>
<g fill="none" stroke="#000" stroke-width="1.5" stroke-dasharray="5,3">
<path d="M84 296.2 L91.5 293.2 L96.5 291.2"/>
<path d="M84 358.8 L91.5 353.8 L99 350"/>
<path d="M84 380.1 L96.5 386.3 L109 388.8 L112.8 391.3 L114 400.1"/>
<path d="M116.5 406.3 L129.1 400.1 L134.1 392.6 L149.1 387.6 L159.1 377.5 L171.6 368.8 L184.1 368.8 L199.1 366.3 L212.9 362.5"/>
<path d="M156.6 450.1 L166.6 452.1 L179.1 455.1 L194.1 458.1 L201.6 457.1"/>
<path d="M220.4 486.4 L219.2 500.2 L221.2 512.7"/>
<path d="M341.8 512.7 L346.8 516.5 L344.3 525.2 L334.3 530.2"/>
<path d="M735.4 515.2 L725.4 521.5 L715.4 532.7 L719.2 542.8"/>
<path d="M467.9 252.8 L466.7 262 L469 267.7 L466.7 273.4 L467.9 277.9 L462.2 280.2 L465.6 284.8 L469 288.2"/>
<path d="M461.5 440.9 L454.4 451.5 L447.3 458.7 L442 471.1 L436.6 485.3 L433.1 492.4 L438.4 494.2 L445.5 499.5 L450.9 506.6 L452.6 517.3 L452.6 531.5 L458 540.4 L461.5 546"/>
</g>
<ellipse cx="691.5" cy="336.5" rx="3" ry="4.5" transform="rotate(0 691.5 336.5)" fill="#98b7e2" stroke="#98b7e2" stroke-width="4"/>
<ellipse cx="700.0" cy="333.0" rx="4" ry="2.5" transform="rotate(-20 700.0 333.0)" fill="#98b7e2" stroke="#98b7e2" stroke-width="4"/>
<ellipse cx="698.5" cy="354.0" rx="2.2" ry="4" transform="rotate(0 698.5 354.0)" fill="#98b7e2" stroke="#98b7e2" stroke-width="4"/>
<ellipse cx="706.0" cy="371.5" rx="3" ry="5.5" transform="rotate(-20 706.0 371.5)" fill="#98b7e2" stroke="#98b7e2" stroke-width="4"/>
<ellipse cx="707.0" cy="388.0" rx="2.2" ry="4.5" transform="rotate(0 707.0 388.0)" fill="#98b7e2" stroke="#98b7e2" stroke-width="4"/>
<ellipse cx="701.8" cy="403.5" rx="2" ry="3.5" transform="rotate(0 701.8 403.5)" fill="#98b7e2" stroke="#98b7e2" stroke-width="4"/>
<ellipse cx="690.0" cy="430.0" rx="2" ry="3" transform="rotate(30 690.0 430.0)" fill="#98b7e2" stroke="#98b7e2" stroke-width="4"/>
<ellipse cx="739.0" cy="405.0" rx="2.2" ry="3.2" transform="rotate(0 739.0 405.0)" fill="#98b7e2" stroke="#98b7e2" stroke-width="4"/>
<ellipse cx="714.0" cy="448.5" rx="4" ry="1.6" transform="rotate(-25 714.0 448.5)" fill="#98b7e2" stroke="#98b7e2" stroke-width="4"/>
<ellipse cx="637.5" cy="455.5" rx="4.5" ry="2.2" transform="rotate(0 637.5 455.5)" fill="#98b7e2" stroke="#98b7e2" stroke-width="4"/>
<ellipse cx="691.5" cy="336.5" rx="3" ry="4.5" transform="rotate(0 691.5 336.5)" fill="#d2b48c" stroke="#000" stroke-width="2.1"/>
<ellipse cx="700.0" cy="333.0" rx="4" ry="2.5" transform="rotate(-20 700.0 333.0)" fill="#d2b48c" stroke="#000" stroke-width="2.1"/>
<ellipse cx="698.5" cy="354.0" rx="2.2" ry="4" transform="rotate(0 698.5 354.0)" fill="#d2b48c" stroke="#000" stroke-width="2.1"/>
<ellipse cx="706.0" cy="371.5" rx="3" ry="5.5" transform="rotate(-20 706.0 371.5)" fill="#d2b48c" stroke="#000" stroke-width="2.1"/>
<ellipse cx="707.0" cy="388.0" rx="2.2" ry="4.5" transform="rotate(0 707.0 388.0)" fill="#d2b48c" stroke="#000" stroke-width="2.1"/>
<ellipse cx="701.8" cy="403.5" rx="2" ry="3.5" transform="rotate(0 701.8 403.5)" fill="#d2b48c" stroke="#000" stroke-width="2.1"/>
<ellipse cx="690.0" cy="430.0" rx="2" ry="3" transform="rotate(30 690.0 430.0)" fill="#d2b48c" stroke="#000" stroke-width="2.1"/>
<ellipse cx="739.0" cy="405.0" rx="2.2" ry="3.2" transform="rotate(0 739.0 405.0)" fill="#d2b48c" stroke="#000" stroke-width="2.1"/>
<ellipse cx="714.0" cy="448.5" rx="4" ry="1.6" transform="rotate(-25 714.0 448.5)" fill="#d2b48c" stroke="#000" stroke-width="2.1"/>
<ellipse cx="637.5" cy="455.5" rx="4.5" ry="2.2" transform="rotate(0 637.5 455.5)" fill="#d2b48c" stroke="#000" stroke-width="2.1"/>
<g fill="#000">
<ellipse cx="606.0" cy="290.0" rx="3" ry="1.6" transform="rotate(-20 606.0 290.0)"/>
<ellipse cx="614.0" cy="287.0" rx="2.5" ry="1.5" transform="rotate(-20 614.0 287.0)"/>
<ellipse cx="621.0" cy="283.0" rx="3" ry="1.5" transform="rotate(-25 621.0 283.0)"/>
<ellipse cx="627.0" cy="281.0" rx="3" ry="1.5" transform="rotate(-30 627.0 281.0)"/>
<ellipse cx="632.0" cy="278.7" rx="2" ry="1.5" transform="rotate(0 632.0 278.7)"/>
<ellipse cx="657.0" cy="288.0" rx="2" ry="1.5" transform="rotate(30 657.0 288.0)"/>
<ellipse cx="661.0" cy="292.0" rx="2" ry="2" transform="rotate(0 661.0 292.0)"/>
<ellipse cx="664.0" cy="296.0" rx="1.5" ry="1.5" transform="rotate(0 664.0 296.0)"/>
<ellipse cx="686.6" cy="301.5" rx="1.6" ry="2.2" transform="rotate(0 686.6 301.5)"/>
<ellipse cx="688.5" cy="314.0" rx="2" ry="2.5" transform="rotate(0 688.5 314.0)"/>
<ellipse cx="671.0" cy="307.0" rx="1.2" ry="1.2" transform="rotate(0 671.0 307.0)"/>
<ellipse cx="674.0" cy="311.0" rx="1.2" ry="1.2" transform="rotate(0 674.0 311.0)"/>
<ellipse cx="677.0" cy="315.0" rx="1.2" ry="1.2" transform="rotate(0 677.0 315.0)"/>
<ellipse cx="679.0" cy="319.0" rx="1.2" ry="1.2" transform="rotate(0 679.0 319.0)"/>
<ellipse cx="699.5" cy="412.0" rx="1.2" ry="2.2" transform="rotate(20 699.5 412.0)"/>
<ellipse cx="697.5" cy="417.0" rx="1.2" ry="2.2" transform="rotate(25 697.5 417.0)"/>
<ellipse cx="695.0" cy="421.0" rx="1.1" ry="2" transform="rotate(30 695.0 421.0)"/>
<ellipse cx="506.5" cy="419.5" rx="1.5" ry="2.8" transform="rotate(-40 506.5 419.5)"/>
<ellipse cx="526.0" cy="424.5" rx="3" ry="1.6" transform="rotate(30 526.0 424.5)"/>
<ellipse cx="530.0" cy="427.0" rx="2" ry="1.5" transform="rotate(30 530.0 427.0)"/>
<ellipse cx="542.7" cy="427.5" rx="1.5" ry="2.6" transform="rotate(10 542.7 427.5)"/>
<ellipse cx="558.0" cy="431.5" rx="1" ry="1" transform="rotate(0 558.0 431.5)"/>
<ellipse cx="560.0" cy="432.0" rx="1" ry="1" transform="rotate(0 560.0 432.0)"/>
<ellipse cx="578.0" cy="434.6" rx="2.5" ry="1.8" transform="rotate(0 578.0 434.6)"/>
<ellipse cx="592.5" cy="435.0" rx="1.2" ry="1.2" transform="rotate(0 592.5 435.0)"/>
<ellipse cx="626.6" cy="434.8" rx="1.4" ry="1.4" transform="rotate(0 626.6 434.8)"/>
<ellipse cx="610.0" cy="455.5" rx="2.6" ry="1.3" transform="rotate(0 610.0 455.5)"/>
<ellipse cx="285.0" cy="254.5" rx="3" ry="1" transform="rotate(-10 285.0 254.5)"/>
<ellipse cx="290.0" cy="253.6" rx="1.4" ry="1" transform="rotate(0 290.0 253.6)"/>
<ellipse cx="256.0" cy="263.8" rx="3.5" ry="1.6" transform="rotate(0 256.0 263.8)"/>
<ellipse cx="261.0" cy="263.5" rx="2" ry="1.3" transform="rotate(0 261.0 263.5)"/>
<ellipse cx="196.6" cy="308.7" rx="1" ry="1" transform="rotate(0 196.6 308.7)"/>
<ellipse cx="137.0" cy="332.8" rx="2.5" ry="1.2" transform="rotate(-15 137.0 332.8)"/>
<ellipse cx="143.0" cy="331.3" rx="3.5" ry="1.4" transform="rotate(-10 143.0 331.3)"/>
<ellipse cx="150.0" cy="330.3" rx="3" ry="1.4" transform="rotate(-10 150.0 330.3)"/>
<ellipse cx="155.0" cy="329.6" rx="1.5" ry="1.5" transform="rotate(0 155.0 329.6)"/>
<ellipse cx="334.5" cy="154.0" rx="1.5" ry="3" transform="rotate(15 334.5 154.0)"/>
<ellipse cx="374.5" cy="178.0" rx="1" ry="4" transform="rotate(5 374.5 178.0)"/>
<ellipse cx="376.0" cy="189.0" rx="1" ry="4" transform="rotate(0 376.0 189.0)"/>
<ellipse cx="380.0" cy="171.0" rx="1" ry="1.5" transform="rotate(0 380.0 171.0)"/>
<ellipse cx="395.0" cy="176.0" rx="2" ry="1" transform="rotate(0 395.0 176.0)"/>
<ellipse cx="398.0" cy="182.0" rx="1.5" ry="1" transform="rotate(0 398.0 182.0)"/>
<ellipse cx="412.0" cy="182.0" rx="3" ry="1.5" transform="rotate(-30 412.0 182.0)"/>
<ellipse cx="416.0" cy="186.0" rx="2" ry="2" transform="rotate(0 416.0 186.0)"/>
<ellipse cx="420.0" cy="183.0" rx="2" ry="1" transform="rotate(0 420.0 183.0)"/>
<ellipse cx="432.0" cy="178.0" rx="1.5" ry="1" transform="rotate(0 432.0 178.0)"/>
<ellipse cx="437.0" cy="190.0" rx="3.5" ry="1.3" transform="rotate(10 437.0 190.0)"/>
<ellipse cx="444.0" cy="192.0" rx="2" ry="1.2" transform="rotate(10 444.0 192.0)"/>
<ellipse cx="448.0" cy="203.0" rx="2.5" ry="1.3" transform="rotate(-30 448.0 203.0)"/>
<ellipse cx="453.0" cy="206.0" rx="1.5" ry="1.5" transform="rotate(0 453.0 206.0)"/>
<ellipse cx="466.0" cy="205.0" rx="3" ry="1.5" transform="rotate(20 466.0 205.0)"/>
<ellipse cx="472.0" cy="211.0" rx="2.5" ry="1.5" transform="rotate(0 472.0 211.0)"/>
<ellipse cx="476.0" cy="214.0" rx="1.5" ry="1.5" transform="rotate(0 476.0 214.0)"/>
<ellipse cx="462.0" cy="213.0" rx="1" ry="1" transform="rotate(0 462.0 213.0)"/>
<ellipse cx="470.0" cy="220.0" rx="1" ry="1" transform="rotate(0 470.0 220.0)"/>
<ellipse cx="474.0" cy="215.0" rx="1.5" ry="1.5" transform="rotate(0 474.0 215.0)"/>
<ellipse cx="335.5" cy="155.0" rx="2.2" ry="4" transform="rotate(10 335.5 155.0)"/>
<ellipse cx="393.0" cy="156.0" rx="1.5" ry="2.5" transform="rotate(0 393.0 156.0)"/>
<ellipse cx="398.0" cy="158.0" rx="2" ry="1.5" transform="rotate(0 398.0 158.0)"/>
<ellipse cx="423.5" cy="174.0" rx="2.5" ry="1.2" transform="rotate(0 423.5 174.0)"/>
<ellipse cx="336.0" cy="150.5" rx="3" ry="3" transform="rotate(0 336.0 150.5)"/>
<ellipse cx="444.0" cy="246.8" rx="4.5" ry="1.5" transform="rotate(5 444.0 246.8)"/>
<ellipse cx="113.0" cy="255.0" rx="1.3" ry="3" transform="rotate(10 113.0 255.0)"/>
<ellipse cx="114.5" cy="262.0" rx="1.3" ry="2.5" transform="rotate(0 114.5 262.0)"/>
<ellipse cx="106.5" cy="279.0" rx="1.5" ry="2" transform="rotate(0 106.5 279.0)"/>
<ellipse cx="104.5" cy="300.0" rx="1.4" ry="3" transform="rotate(0 104.5 300.0)"/>
<ellipse cx="108.5" cy="307.0" rx="1.8" ry="3.5" transform="rotate(20 108.5 307.0)"/>
<ellipse cx="110.0" cy="314.0" rx="1.4" ry="2.5" transform="rotate(0 110.0 314.0)"/>
<ellipse cx="103.0" cy="320.0" rx="1.2" ry="2" transform="rotate(0 103.0 320.0)"/>
<ellipse cx="120.0" cy="247.0" rx="1" ry="1.5" transform="rotate(0 120.0 247.0)"/>
<ellipse cx="130.3" cy="237.5" rx="1.8" ry="3.2" transform="rotate(30 130.3 237.5)"/>
</g>
<g fill="none" stroke="#000" stroke-width="1.6">
<path d="M371 178 L374.5 196"/>
<path d="M386 163 L392 175 L394 180"/>
<path d="M402 171 L407 180 L405 185 L410 190"/>
<path d="M451 203 L457 202 L463 205 L468 210 L473 215"/>
<path d="M462 218 L467 216"/>
</g>
<g fill="none" stroke="#fff" stroke-width="4" stroke-linecap="butt">
<path d="M578.7 212.4 L582 207 L585 203"/>
<path d="M624.8 316.1 L622 309 L621 305"/>
<path d="M603 311.1 L606 318"/>
<path d="M570.8 249.1 L569 240 L568 236"/>
<path d="M717.5 437.7 L722 432 L732.5 421"/>
<path d="M123.4 288.8 L127 281 L130 277 L134 274"/>
<path d="M160.8 271.4 L170 264 L181 257.5"/>
<path d="M540.8 318.6 L538 309 L537 305"/>
<path d="M521.7 318.6 L523 306 L525 296"/>
<path d="M568.3 328.5 L571 323"/>
</g>
<circle cx="702.7" cy="223.1" r="6.00" fill="#1f77b4" stroke="#000" stroke-width="1.5"/>
<path d="M649.4 192.1 L654.6 195.1 L654.6 201.1 L649.4 204.1 L644.2 201.1 L644.2 195.1Z" fill="#3a8cc8" stroke="#000" stroke-width="1.5" stroke-linejoin="miter"/>
<path d="M300.5 449.1 L306.5 453.5 L304.2 460.5 L296.8 460.5 L294.5 453.5Z" fill="#5ba3d9" stroke="#000" stroke-width="1.5" stroke-linejoin="miter"/>
<circle cx="387.3" cy="353.2" r="6.00" fill="#8ec5ec" stroke="#000" stroke-width="1.5"/>
<path d="M388.1 169.2 L393.3 172.2 L393.3 178.2 L388.1 181.2 L382.9 178.2 L382.9 172.2Z" fill="#c5e3fa" stroke="#000" stroke-width="1.5" stroke-linejoin="miter"/>
<path d="M537.8 210 L543.8 214.4 L541.5 221.4 L534.1 221.4 L531.8 214.4Z" fill="#ff7f0e" stroke="#000" stroke-width="1.5" stroke-linejoin="miter"/>
<circle cx="692.0" cy="224.3" r="6.00" fill="#ff9a3c" stroke="#000" stroke-width="1.5"/>
<path d="M151.4 491.5 L156.6 494.5 L156.6 500.5 L151.4 503.5 L146.2 500.5 L146.2 494.5Z" fill="#ffaa5e" stroke="#000" stroke-width="1.5" stroke-linejoin="miter"/>
<path d="M619.6 254.6 L625.6 259 L623.3 266 L615.9 266 L613.6 259Z" fill="#ffc48a" stroke="#000" stroke-width="1.5" stroke-linejoin="miter"/>
<circle cx="137.9" cy="493.2" r="6.00" fill="#ffdcbf" stroke="#000" stroke-width="1.5"/>
<path d="M630.3 179.2 L635.5 182.2 L635.5 188.2 L630.3 191.2 L625.1 188.2 L625.1 182.2Z" fill="#2ca02c" stroke="#000" stroke-width="1.5" stroke-linejoin="miter"/>
<path d="M596.8 215.7 L602.8 220.1 L600.5 227.1 L593.1 227.1 L590.8 220.1Z" fill="#44b444" stroke="#000" stroke-width="1.5" stroke-linejoin="miter"/>
<circle cx="612.2" cy="228.1" r="6.00" fill="#66c866" stroke="#000" stroke-width="1.5"/>
<path d="M162.3 182.4 L167.5 185.4 L167.5 191.4 L162.3 194.4 L157.1 191.4 L157.1 185.4Z" fill="#8fe08f" stroke="#000" stroke-width="1.5" stroke-linejoin="miter"/>
<path d="M245.6 262.5 L251.6 266.9 L249.3 273.9 L241.9 273.9 L239.6 266.9Z" fill="#c0f5c0" stroke="#000" stroke-width="1.5" stroke-linejoin="miter"/>
<circle cx="149.4" cy="239.9" r="6.00" fill="#d62728" stroke="#000" stroke-width="1.5"/>
<path d="M293.2 257.5 L298.4 260.5 L298.4 266.5 L293.2 269.5 L288 266.5 L288 260.5Z" fill="#e04848" stroke="#000" stroke-width="1.5" stroke-linejoin="miter"/>
<path d="M584.9 315.8 L590.9 320.2 L588.6 327.2 L581.2 327.2 L578.9 320.2Z" fill="#e86a6e" stroke="#000" stroke-width="1.5" stroke-linejoin="miter"/>
<circle cx="610.4" cy="342.1" r="6.00" fill="#f09a9c" stroke="#000" stroke-width="1.5"/>
<path d="M587.4 227 L592.6 230 L592.6 236 L587.4 239 L582.2 236 L582.2 230Z" fill="#fdc0c4" stroke="#000" stroke-width="1.5" stroke-linejoin="miter"/>
<path d="M565.8 301 L571.8 305.4 L569.5 312.4 L562.1 312.4 L559.8 305.4Z" fill="#9467bd" stroke="#000" stroke-width="1.5" stroke-linejoin="miter"/>
<path d="M578.7 205 L571.2 220 L586.2 220Z" fill="#1f77b4" stroke="#000" stroke-width="1.5" stroke-linejoin="miter"/>
<path d="M617.1 241.2 L609.6 256.2 L624.6 256.2Z" fill="#ff7f0e" stroke="#000" stroke-width="1.5" stroke-linejoin="miter"/>
<path d="M624.8 308.7 L617.3 323.7 L632.3 323.7Z" fill="#2ca02c" stroke="#000" stroke-width="1.5" stroke-linejoin="miter"/>
<path d="M603 303.7 L595.5 318.7 L610.5 318.7Z" fill="#d62728" stroke="#000" stroke-width="1.5" stroke-linejoin="miter"/>
<path d="M570.8 241.7 L563.3 256.7 L578.3 256.7Z" fill="#9467bd" stroke="#000" stroke-width="1.5" stroke-linejoin="miter"/>
<path d="M717.5 430.3 L710 445.3 L725 445.3Z" fill="#8c564b" stroke="#000" stroke-width="1.5" stroke-linejoin="miter"/>
<path d="M123.4 281.4 L115.9 296.4 L130.9 296.4Z" fill="#e377c2" stroke="#000" stroke-width="1.5" stroke-linejoin="miter"/>
<path d="M160.8 264 L153.3 279 L168.3 279Z" fill="#7f7f7f" stroke="#000" stroke-width="1.5" stroke-linejoin="miter"/>
<path d="M540.8 311.2 L533.3 326.2 L548.3 326.2Z" fill="#bcbd22" stroke="#000" stroke-width="1.5" stroke-linejoin="miter"/>
<path d="M521.7 311.2 L514.2 326.2 L529.2 326.2Z" fill="#17becf" stroke="#000" stroke-width="1.5" stroke-linejoin="miter"/>
<path d="M568.3 321.1 L560.8 336.1 L575.8 336.1Z" fill="#1f77b4" stroke="#000" stroke-width="1.5" stroke-linejoin="miter"/>
</g>
<path fill="none" stroke="#000" stroke-width="1.3" d="M83.8 151.2L773.2 151.2L773.2 544.8L83.8 544.8"/>
<g stroke="#000"><line x1="84.4" y1="151.2" x2="84.4" y2="147.2" stroke-width="1.4"/><line x1="84.4" y1="544.8" x2="84.4" y2="548.8" stroke-width="1.4"/><line x1="106.6" y1="151.2" x2="106.6" y2="147.2" stroke-width="1.4"/><line x1="106.6" y1="544.8" x2="106.6" y2="548.8" stroke-width="1.4"/><line x1="128.8" y1="151.2" x2="128.8" y2="147.2" stroke-width="1.4"/><line x1="128.8" y1="544.8" x2="128.8" y2="548.8" stroke-width="1.4"/><line x1="151.1" y1="151.2" x2="151.1" y2="147.2" stroke-width="1.4"/><line x1="151.1" y1="544.8" x2="151.1" y2="548.8" stroke-width="1.4"/><line x1="173.3" y1="151.2" x2="173.3" y2="142.7" stroke-width="2.6"/><line x1="173.3" y1="544.8" x2="173.3" y2="553.3" stroke-width="2.6"/><line x1="195.5" y1="151.2" x2="195.5" y2="147.2" stroke-width="1.4"/><line x1="195.5" y1="544.8" x2="195.5" y2="548.8" stroke-width="1.4"/><line x1="217.7" y1="151.2" x2="217.7" y2="147.2" stroke-width="1.4"/><line x1="217.7" y1="544.8" x2="217.7" y2="548.8" stroke-width="1.4"/><line x1="239.9" y1="151.2" x2="239.9" y2="147.2" stroke-width="1.4"/><line x1="239.9" y1="544.8" x2="239.9" y2="548.8" stroke-width="1.4"/><line x1="262.2" y1="151.2" x2="262.2" y2="147.2" stroke-width="1.4"/><line x1="262.2" y1="544.8" x2="262.2" y2="548.8" stroke-width="1.4"/><line x1="284.4" y1="151.2" x2="284.4" y2="142.7" stroke-width="2.6"/><line x1="284.4" y1="544.8" x2="284.4" y2="553.3" stroke-width="2.6"/><line x1="306.6" y1="151.2" x2="306.6" y2="147.2" stroke-width="1.4"/><line x1="306.6" y1="544.8" x2="306.6" y2="548.8" stroke-width="1.4"/><line x1="328.8" y1="151.2" x2="328.8" y2="147.2" stroke-width="1.4"/><line x1="328.8" y1="544.8" x2="328.8" y2="548.8" stroke-width="1.4"/><line x1="351.0" y1="151.2" x2="351.0" y2="147.2" stroke-width="1.4"/><line x1="351.0" y1="544.8" x2="351.0" y2="548.8" stroke-width="1.4"/><line x1="373.3" y1="151.2" x2="373.3" y2="147.2" stroke-width="1.4"/><line x1="373.3" y1="544.8" x2="373.3" y2="548.8" stroke-width="1.4"/><line x1="395.5" y1="151.2" x2="395.5" y2="142.7" stroke-width="2.6"/><line x1="395.5" y1="544.8" x2="395.5" y2="553.3" stroke-width="2.6"/><line x1="417.7" y1="151.2" x2="417.7" y2="147.2" stroke-width="1.4"/><line x1="417.7" y1="544.8" x2="417.7" y2="548.8" stroke-width="1.4"/><line x1="439.9" y1="151.2" x2="439.9" y2="147.2" stroke-width="1.4"/><line x1="439.9" y1="544.8" x2="439.9" y2="548.8" stroke-width="1.4"/><line x1="462.1" y1="151.2" x2="462.1" y2="147.2" stroke-width="1.4"/><line x1="462.1" y1="544.8" x2="462.1" y2="548.8" stroke-width="1.4"/><line x1="484.3" y1="151.2" x2="484.3" y2="147.2" stroke-width="1.4"/><line x1="484.3" y1="544.8" x2="484.3" y2="548.8" stroke-width="1.4"/><line x1="506.6" y1="151.2" x2="506.6" y2="142.7" stroke-width="2.6"/><line x1="506.6" y1="544.8" x2="506.6" y2="553.3" stroke-width="2.6"/><line x1="528.8" y1="151.2" x2="528.8" y2="147.2" stroke-width="1.4"/><line x1="528.8" y1="544.8" x2="528.8" y2="548.8" stroke-width="1.4"/><line x1="551.0" y1="151.2" x2="551.0" y2="147.2" stroke-width="1.4"/><line x1="551.0" y1="544.8" x2="551.0" y2="548.8" stroke-width="1.4"/><line x1="573.2" y1="151.2" x2="573.2" y2="147.2" stroke-width="1.4"/><line x1="573.2" y1="544.8" x2="573.2" y2="548.8" stroke-width="1.4"/><line x1="595.4" y1="151.2" x2="595.4" y2="147.2" stroke-width="1.4"/><line x1="595.4" y1="544.8" x2="595.4" y2="548.8" stroke-width="1.4"/><line x1="617.7" y1="151.2" x2="617.7" y2="142.7" stroke-width="2.6"/><line x1="617.7" y1="544.8" x2="617.7" y2="553.3" stroke-width="2.6"/><line x1="639.9" y1="151.2" x2="639.9" y2="147.2" stroke-width="1.4"/><line x1="639.9" y1="544.8" x2="639.9" y2="548.8" stroke-width="1.4"/><line x1="662.1" y1="151.2" x2="662.1" y2="147.2" stroke-width="1.4"/><line x1="662.1" y1="544.8" x2="662.1" y2="548.8" stroke-width="1.4"/><line x1="684.3" y1="151.2" x2="684.3" y2="147.2" stroke-width="1.4"/><line x1="684.3" y1="544.8" x2="684.3" y2="548.8" stroke-width="1.4"/><line x1="706.5" y1="151.2" x2="706.5" y2="147.2" stroke-width="1.4"/><line x1="706.5" y1="544.8" x2="706.5" y2="548.8" stroke-width="1.4"/><line x1="728.8" y1="151.2" x2="728.8" y2="142.7" stroke-width="2.6"/><line x1="728.8" y1="544.8" x2="728.8" y2="553.3" stroke-width="2.6"/><line x1="751.0" y1="151.2" x2="751.0" y2="147.2" stroke-width="1.4"/><line x1="751.0" y1="544.8" x2="751.0" y2="548.8" stroke-width="1.4"/><line x1="773.2" y1="151.2" x2="773.2" y2="147.2" stroke-width="1.4"/><line x1="773.2" y1="544.8" x2="773.2" y2="548.8" stroke-width="1.4"/><line x1="84.4" y1="544.2" x2="80.4" y2="544.2" stroke-width="1.4"/><line x1="773.2" y1="544.2" x2="777.2" y2="544.2" stroke-width="1.4"/><line x1="84.4" y1="521.9" x2="80.4" y2="521.9" stroke-width="1.4"/><line x1="773.2" y1="521.9" x2="777.2" y2="521.9" stroke-width="1.4"/><line x1="84.4" y1="499.6" x2="80.4" y2="499.6" stroke-width="1.4"/><line x1="773.2" y1="499.6" x2="777.2" y2="499.6" stroke-width="1.4"/><line x1="84.4" y1="477.2" x2="75.9" y2="477.2" stroke-width="2.6"/><line x1="773.2" y1="477.2" x2="781.7" y2="477.2" stroke-width="2.6"/><line x1="84.4" y1="454.8" x2="80.4" y2="454.8" stroke-width="1.4"/><line x1="773.2" y1="454.8" x2="777.2" y2="454.8" stroke-width="1.4"/><line x1="84.4" y1="432.3" x2="80.4" y2="432.3" stroke-width="1.4"/><line x1="773.2" y1="432.3" x2="777.2" y2="432.3" stroke-width="1.4"/><line x1="84.4" y1="409.6" x2="80.4" y2="409.6" stroke-width="1.4"/><line x1="773.2" y1="409.6" x2="777.2" y2="409.6" stroke-width="1.4"/><line x1="84.4" y1="386.9" x2="80.4" y2="386.9" stroke-width="1.4"/><line x1="773.2" y1="386.9" x2="777.2" y2="386.9" stroke-width="1.4"/><line x1="84.4" y1="364.1" x2="75.9" y2="364.1" stroke-width="2.6"/><line x1="773.2" y1="364.1" x2="781.7" y2="364.1" stroke-width="2.6"/><line x1="84.4" y1="341.2" x2="80.4" y2="341.2" stroke-width="1.4"/><line x1="773.2" y1="341.2" x2="777.2" y2="341.2" stroke-width="1.4"/><line x1="84.4" y1="318.2" x2="80.4" y2="318.2" stroke-width="1.4"/><line x1="773.2" y1="318.2" x2="777.2" y2="318.2" stroke-width="1.4"/><line x1="84.4" y1="295.0" x2="80.4" y2="295.0" stroke-width="1.4"/><line x1="773.2" y1="295.0" x2="777.2" y2="295.0" stroke-width="1.4"/><line x1="84.4" y1="271.7" x2="80.4" y2="271.7" stroke-width="1.4"/><line x1="773.2" y1="271.7" x2="777.2" y2="271.7" stroke-width="1.4"/><line x1="84.4" y1="248.3" x2="75.9" y2="248.3" stroke-width="2.6"/><line x1="773.2" y1="248.3" x2="781.7" y2="248.3" stroke-width="2.6"/><line x1="84.4" y1="224.7" x2="80.4" y2="224.7" stroke-width="1.4"/><line x1="773.2" y1="224.7" x2="777.2" y2="224.7" stroke-width="1.4"/><line x1="84.4" y1="201.0" x2="80.4" y2="201.0" stroke-width="1.4"/><line x1="773.2" y1="201.0" x2="777.2" y2="201.0" stroke-width="1.4"/><line x1="84.4" y1="177.1" x2="80.4" y2="177.1" stroke-width="1.4"/><line x1="773.2" y1="177.1" x2="777.2" y2="177.1" stroke-width="1.4"/></g>
<g font-size="22.22"><text x="172.8" y="576.5" text-anchor="middle">85°W</text><text x="283.9" y="576.5" text-anchor="middle">80°W</text><text x="395.0" y="576.5" text-anchor="middle">75°W</text><text x="506.1" y="576.5" text-anchor="middle">70°W</text><text x="617.2" y="576.5" text-anchor="middle">65°W</text><text x="728.3" y="576.5" text-anchor="middle">60°W</text><text x="69.3" y="486.1" text-anchor="end">10°N</text><text x="69.3" y="373.0" text-anchor="end">15°N</text><text x="69.3" y="257.2" text-anchor="end">20°N</text></g>
<clipPath id="cr"><rect x="803.5" y="151.2" width="689.6" height="393.6"/></clipPath>
<g clip-path="url(#cr)">
<rect x="804.3" y="151.2" width="688.8" height="393.6" fill="#98b7e2"/>
<rect x="800.3" y="147.2" width="698.0" height="402.0" fill="#2a186c"/>
<path fill="#2b1c7a" d="M802 147l696 0 0 368-5-2-5-5-8 0-2-3 3-6 3-3 5-3 1-2-1-4-3-3-4-2-2 0-4 4-4 11-5 4-1 2 2 8-2 2-4 2-2 6 0 2 2 2 8 3 3-1 5-5 4-1 2 1 1 1-1 4-7 6-1 4 0 4 3 2 0 2-3 1-2 1-5-6-10-6-1-2-2-4-2-1-4 1-4 4 0 2 4 4 2 2-1 4-3 4-15 0 0-4 1-4-1-2-1 0-2 1-4 9-581 0 2-4 5-6 0-2-4-10-5-6-3-5-4 3-6 20 4 6 1 4-15 0 5-10-3-3-2-1-4 2-6 6-8 6-2 0 0-402zM1438 517l0 2 2 3 2 1 3-2 0-2-1-2-4-1-2 1z"/>
<path fill="#2b28a0" d="M802 147l696 0 0 352-2-2-1-8-8-12-1-6-2-1-6-1-2 2-3 6-1 8-4 9-8 4-6 5-12 5-12 7-1 2 5 6 1 6-2 2-6 4-5 7-6 5-1 2-535 0-1-2-3-1-10 0-4-3-2-6-4-6 0-8-6-4-2-10-2-4-4-2-8 2-2 2-4 8 0 10-2 4-12 2-6 6-2 0-6-1 0-389zM870 497l-3 4 5 1 3-1 1-2 0-2-2-1-4 1zM860 503l0 1 3-1-1-1-2 1z"/>
<path fill="#15469a" d="M802 147l696 0 0 306-6-1-4 2-6 7-2 0-8-3-3 1-1 4 2 10-2 4-2 4-2 2-6 1-4 11-2 2-2-1-2-5-12-10-4-2-1 2 0 6 3 4 2 4-2 11-2 3-6-1-4 1-2 2 1 22-2 4-3 2-6 1-3 1-1 2 3 6-10 0 0-4-1-2-4-3-2 0-2 1 0 8-500 0-2-4-4-3-14-1-2-2 0-6-5-6 0-2 0-6 4-4 1-6 2-2 9-4 2-4-1-8-2-2-6 0-4-5-2-1-4 2-4 7-6 8-2-1-1-2 2-4-1-2-2-1-6 1-8-1-3 1-1 2-2 6-2 2-2-1-6-4-4 1-4 6-2 4 0 4 2 1 6-1 4 3 3 3 1 4-1 2-3 2-2 0-6-1-8 0-4-1 1-4-1-2 0-370zM1375 529l-6 8-1 4 2 2 3 0 3-4 2-1 4 2 5-1-1-4-4-5-2-2-4 1zM1498 454l0 27-5-4-1-8 1-6 5-8z"/>
<path fill="#0f5690" d="M802 147l696 0 0 297-10 1-8 5-2 1-8-5-6 1-12 8-8 11-2 0-6-4-4 1-1 2 0 2 3 4-4 2-6 0-4 7-8 1-2 2-2 6-2 2-6 1-3 3-2 4 0 2 1 2 10 4 2 3 3 5 0 6 1 5 3 3 0 4-3 1-10 1-6-10-7-4-3-5-2 0-4 3-6 1-2 1-4 7-3 3-1 12 1 6-25 0 0-8-2-3-2-1-6 2-6 0-1 2 2 8-403 0-3-4-7-2-2 0 0 6-9 0 1-3 6-4-1-3-7-2-10 2-10-4-4-4-2-8 0-10 1-2 3-2 4 0 6 7 4 0 4-3 1-2-1-2-6-8 0-4 2-4 5-2 1-2-2-4-6 0-4-2-4-5-12-2-6 2-8 7-2 0-8-2-8 3-8 0-8 2-6-1-4 0 0-2 3-2 0-2-5-5-2 0-4 2-4 1 0-332zM1406 465l0 2 0 1 2-1-2-2zM1460 465l1 2-1 7-4 2-5-1-1-2 2-2 8-6zM1498 465l0 9-2-3 0-2 2-4zM1410 492l6 1 4 2 1 2-1 2-6-1-2-1-2-4z"/>
<path fill="#1b6889" d="M802 147l696 0 0 292-12 0-8 3-8-5-2 0-10 8-10 3-4 2-6 1-10 7-12 1-10-1-4 1-2 8 2 8-1 4-6 4-2 8-3 4-2 1-4 0-6-3-3 0-1 2 2 2 6 2 2 2 1 2-1 2-4 2-14 4-1 2-1 6-7 6-1 10-2 4-2 3-2 1-4-2-1-2-2-4 0-6-6-8-3-1-4 5-2 7-2 0-8-2-2 1-2 2 0 4 2 12-122 0 0-4-2-1-2-1-4 2-2 4-248 0 1-8-4-6-1-6-2-1-6 1-5-2-2-2-1-7-2-4-4-3-10-4-4-6 1-2 1-1 8-3 3-6 5-4 2-2-1-2-3-5-2-1-6 6-2-6-2-6-4 0-2 2-2 4-2 1-2-3 1-6-3-3-4 1-4 3-2 1-8-4-2 1-10 12-2 1-10-4-6 2-2-1-2-4-2-1-2 0-3 2 0 6-3 2-6-6-12-16-2-1-4-1 0-310zM1418 421l0 6 2 2 14 4 10 9 2 0 2-2 4-7 0-2-2-1-8-2-10-7-12-1-2 1zM935 447l-1 2 2 2 2-2 0-2-2-1zM921 459l-1 2 0 2 2 1 2 0 2-2 0-4-2 0-2 1zM932 471l-2 4 1 4 5 5 2 0 4-1 2-2-1-6-2-2-5-2-4 0z"/>
<path fill="#297887" d="M802 147l696 0 0 287-10 1-8-2-6-4-2 0-8 5-2 0-2-5-1-6-3-4-2-1-2 1-4 4-2 1-6-1-10-8-3-4 1-6-2-2-2 0-11 10-1 4 1 12 1 2 2 1 8 3 7 6-3 10-2 0-3-4-3-2-10-2-2 1-3 5-3 2-11 4-5 6-4 7-4 3-1 4 2 4 9 6 0 2-1 2-3 1-10-2-3 1-4 6-1 6-7 8-3 7-2 1-2-2 0-2 2-4-2-1-2 0-2 3-4 3-2 0-4-3-4 0-3 2-5 6-6-3-4 0-2 1-1 2-1 8-3 8-1 14-11 0 1-4-2-2-2 1-1 1 0 4-8 0-3-2-6 0-2-1-2-4-2-1-6 3-2 5-56 0-1-4-2-2-11-6-10 5-2 7-156 0-2-2-2 0-6 1-1 1-37 0 3-6-7-4-5 4-5 2-3 4-20 0 3-6 0-2-1-6-3-5 0-3 5-6 0-2-1-10-3-2-3 0-8 3-1 3 0 8-3 1-2-1-5-12-4-6-1-2 1-8 3-2 12 2 4-4 6 2 6-1 4 3 2-1 2-2 1-5-1-8 4-12-1-4-8-4-2-4 1-8 4-6 1-2 0-4-4-4-7-4-10 0-12 6-1 2 1 6-4 6 0 6-2 1-6-2-2 1-4 8-4 2-7-4-3-7-2-2-2 0-1 1-3 6-4 4-6-3-8 2-2-5-2-2-4-2-2 1-2 1 0 2 6 6 4 1 1 1-1 5-4 3-6-1-8 1-10-5-2 0-6 4-2 0-1-3-1-4-7-6-1-6-1-4-3-1-6-1 0-296zM1260 435l-2 2 2 2 2-2-2-2zM854 439l-1 2 1 3 2 0 2-3 0-2-2-1zM961 465l-1 2 2 2 2 0 4-2 0-2-2-1-4 0zM1264 473l-4 3-5 1-1 2 2 5 6 3 2-2 6-4 2-4-1-4-3-2-4 2zM1262 489l0 6 2 1 3-3 1-2-4-3-2 0zM934 460l2 0 3 1-2 2-3 1-1-1 0-2z"/>
<path fill="#388785" d="M802 147l696 0 0 283-6 1-4-1-2-3 0-4-2-2-4-1-6 1-8-4-6 0-3-4 0-2 3-4 1-2-3-4-2-1-6 1-1 2 1 8-6 6-4 0-2-2-1-2-1-6-2-6-4-3-5-3 0-2 1-2 2 0 8 6 4 2 6 2 2-2 3-6-1-2-6-1-12-4-4-6-2-1-11 8 0 2 3 8-1 4-3 4-7 8-1 8-2 1-8 3-6 5-8 3-6 0-4 3-7 3-1 2 2 3 4 0 6-2 2 1 1 2 0 10 0 2-3 3-9 1-3 2-2 8-4 4 0 2 0 10 2-1 2 1-2 9-2 3-4 0-10-6-6 0-8-5-6-1-2 2-2 5 10 5 2 2 1 4-3 2-2 0-8-2-4 4-7 4-2 4 1 8-2 3-6 0-3 7-5 2-6-1-8-6-6 0-11 9-5 6-4 0-2 2 0 2-29 0-3-4-4-3-4-1-20-12-4-4-4-2-21 4 0 2 1 1 8 0 6 3 2 2-1 14-149 0-2-4-6-3-16 1-10-1-4-5-3-10-3-2-8 0-6 4-8 0-4 1-2-1-5-6-2-6 0-2 5-8 0-3-1-5 1-4 4-8 2-2 6 0 2-2 2 0 3 0 3 2 2 0 8-8 1-8-1-1-4 0-2-1-8-9-10-4-3-3-2-12 0-2 7-3 1-3-8-8-5-6-2 0-2 5-2 1-8-3-10 0-2 1-6 5-8 3-4 6-4 3-12-2-8 2-6 0-4 2-4 1-4-1-8-9 1-2 5-4 0-2-2-6-2-2-6 11-10-2-2 0-1 1-2 10-13 12-10 1-8-9-8 0 0-292zM1089 395l-1 4 2 3 4 1 4-2 0-4-2-2-2-2-4 1zM1276 395l0 4 2 2 4-1 3-3-1-2-4-2-2 0-2 1zM812 399l-2 2 0 8-3 6 13 4 6-5 1-3-1-2-6-3-6-7-2 0zM864 407l-2 1 0 2 3-1-1-2zM1268 411l-3 2-1 2 2 4 2 2 4 0 2-2 1-4-3-4-4 0zM1255 413l-4 4-3 6-8 2-5 4-2 4 0 4 3 8 0 2-8 8-2 1-10-2-2 13 4 8 4 0 4-3 6-1 4-3 1-3-2-6 1-4 2-3 8 1 2-2-2-6 0-2 2-1 2 0 12 5-1 4-7 6 0 2 2 5 6 0 1 1-3 4-4 0-2-1-7 3-2 2-1 2 4 8 6 8 1 2-1 4-3 4 0 6 1 2 10 2 4-6 8-4 6-5 2-5 0-2-5-6 1-8-1-4-7-7-6-1 6 0 8-12 8-4 2 0 8 2 2 0 4-6 4-8 8-6-1-2-5-6-4-1-2 1-4 5-2 0-4-2-6 0-14 7-4 1-6-7 0-8-1-2-2-2-3 0zM1332 415l0 4 2 0 4-2 0-2-4-2zM1370 415l-3 2-1 2 4 4 2 1 2-1 4-4 0-2-4-2-4 0zM1173 453l1 6 2 1 3-1 2-2-2-2-3-2-2-1zM1154 455l-3 8 1 2 2 0 4-2 1-2-1-6-2-2zM1358 459l-1 2 1 1 2-1-2-2zM1172 473l-1 4 1 3 2 0 2-2 0-3-2-3-2 1zM1222 489l0 3 2 0 1-1 1-2-2-2-2 2zM1166 491l-2 4 0 2 4 2 6 7 2 1 2-1 2-3-1-2-3-5-6-3-2-3-2 1zM1116 497l0 2 2 2 2 0 2-1 0-3-2-1-4 1zM990 505l-1 2 1 2 2 3 2 0 1-3-1-3-2-1-2 0zM1275 505l0 4 1 2 2-1 1-3-1-3-2-1zM1130 509l-2 2-2 8-7 4 0 2 4 4 11 8 2-1 3-3-1-8 1-14-4-2-5 0zM1056 517l-4 3-1 5 1 2 4 8 2 1 2-1 5-4 0-4-5-9-4-1zM1084 519l-12 2-1 2 1 4 2 5 2 1 10-2 2 1 1 3-2 6 0 4 3 3 2 1 2-1 8-9 1-4-5-7-10-8-4-1zM1114 523l2 0-2 0zM1285 525l1 2 3-2-3-1zM1229 531l-2 2 1 1 4-1 0-2-2 0zM842 460l1 1-1 1 0-1zM1362 485l0 1 0-1zM942 499l0 1-1-1zM950 535l4 1 6-1 2 0 1 2-5 4-5 8-3 0-4-8 0-4 2-2 2 0zM1256 548l1 1-1 0z"/>
<path fill="#40967f" d="M832 147l153 0-5 4 0 2 4 3 4 1 12-6 1-4 497 0 0 218-2 2 0 2 0 3 2 3 0 40-4 0-4-1-3-3-5-7-2-1-3 2-2 6-3 1-1-1-1-2 1-6 2-4 3-4 0-2-8-1-6-7-2-1-12 0-4-1-4-2-4-6-6-2-4 1-8 3-12 0-6 4-2 0-2-1-6-4-4 0-2 3 0 4 6 2 2 2 1 4-1 2-4 1-3-1-2-2-1-5-2-1-4 0-4 1-8 4-6 9 3 4 7 4 1 2-3 2-2 0-14-3-6 4-4-1-4-4-2-1-4 1-2-2 0-2 2-3 14 0 6 1 4-2-4-6-6-3-4-9-5-4-3-2-4 0-12 7-4 8-8 2-4-1-4-4 0-6-1-2-5-3-2 0-5 3-2 6-9 3-8 9-4 3-8 0-8-6-4 1-1 2-1 6 4 10-4 6-7 6-3 8-2 2-6-1-4-5-3-6-3-4-1-4 1-6-2-2-4 0-8 5-8-2-2 1-3 10 7 5 6 9 8 6 1 2 0 2-3 3-6 2-4 4-8-3-4-3-7-7 0-12-3 0-2 0-6 5-8 3-4 6-4 4-5 16-1 2-4 2 0 6 0 2-5 4 1 2 6 3 1 3 0 6-7 5-2 1-8-8-8-1 0-1 0-2 4-4-2-2-4 0-6 4-1 2-1 6-2 4-4 5-2 1-6 0-8 3-2 2-3 5-5 2-2-1-5-5-3-5-8-2-2 0-3 3 1 1 1 3 0 4-10 10-7 4-8 2-2 5-2 1-12 2-6 0-4-2 0-2 1-4-4-6 0-2 3-2 4 0 2-2 3-6 7-3 2 1 2 2 0 6 2 5 2 0 4-1 6-1 2-3-1-2-7-12-5-4-3-4-2-1-2 1-4 4-2 0-4 0-4-3-2 1-4 2-12 1-8-1-2-2 2-1 6 0 3-3 0-8 7-9 10-8 10-5 2-1 2 1 0 6 2 4-1 6 1 2 3-2 1-3-2-5 4-4 4-6-1-6-3-3-4-1-4 0-6 5-6 1-4-3-6 0-6-2-8-1-6-4-6 0-1-2 1-4 12-6 1-2-1-4-4-3-2-1-6 1-4-1-4-4-7-10-3-1-4 0-10-6-2-7-4-3-2 0-4 3-3 6-4 4-3 9-10 6-6 6-10 2-8 3-4 0-4-1-3-5 0-10 2-2 6-2 2-4-3-8-1-4-3-2-4 0-6 5-8 2-3 5-3 8-2 0-2 0-7-8-13-6-2-2 3-8-1-4-4 1-12 8-4 4-4 1 0-249 4 1 4 1 10 6 6-2 4 2 2 0 1-5-1-8zM854 155l-3 2 0 2 3 2 4-2 1-2-2-2-3 0zM803 185l-2 4 1 4 2 2 4-1 2-3 0-4-2-3-2-1-2 1zM819 187l-1 4 1 4-2 4 1 2 2-4 6-4 0-2-2-4-4-1zM847 189l1 3 2-1-2-2zM827 207l-5 2-4-1-1 1-1 4 4 5 2 1 2-1 6-3 2-2 2-4-1-2-3-1-2 1zM815 265l0 2 1 1 2-1 0-2-2-1zM834 333l-8 3-1 5 1 6 2 4 0 7 2 2 4 0 5-1 2-2-6-12 3-7 0-5-2-2-2 2zM1039 363l-2 4 1 2 4 2 2 0 3-4-1-4-2-1-4 1zM1062 363l-4 2-1 2-1 2 2 2 4 0 2 2 1 2-1 2-4 6-2 7-2 2-2 0-12-7-6 4-2 4 0 4 6 7 2 1 6 0 2 2 2 4-1 6 0 2 3 1 6-5 2-8 2-3 2 0 6 4 2 1 8-4 12 2 9-2 2-8 3-4 1-2-3 0-2-2-2-4-4-2-4 1-6 5-7 2-3 5-4 2-2 0 0-1 0-2 7-6 0-4-6-12-6-6-1-3-4-1zM1129 409l-2 4 0 2 3 1 4 0 3-3 1-2-1-2-3-1-4 0zM1110 411l0 6 2 4 4 1 4-1 1-4-9-8-2 0zM1019 415l1 3 3 1 1-2 0-2-4-1zM1007 423l-1 0 0 3 8 7 4 2 1-2-3-6-2-2-6-2zM1123 433l-2 2 0 4 3 2 2-1 4-3 1-4-3-1-4 1zM1022 435l-1 2 1 3 2 2 2-1 1-2-1-3-4-1zM1075 435l-5 4-8 2-2 2-2 10 2 1 8 0 8 3 2 0 2-2 1-6 4-8-1-2-4-4-4-1zM1038 439l-6 6-1 2 1 2 2 1 5 1 1 10 2 4 6 2 4-1 3-3 3-10-2 0-8-4-6-1 0-7-2-2-2 0zM1097 465l-2 6 3 3 2 0 3-3 1-4-2-2-4-1zM1080 475l2 3 2 0 2-1-1-2-1 0-2-1-2 0zM1004 485l0 1 1-1-1 0zM1046 505l0 1 2-1-2 0zM1404 396l2 3 0 2-2 2-1-2 0-4zM1386 403l4-1 2 1 0 2-2 2-10 3-4-1 0-2 9-4zM1246 405l2-1 2 1-2 4-2 0 0-4zM828 422l2-1 2 2 0 2-2 3-2 1-1 8-3 2-6 2-2-1-3-5 0-2 2-4 3-2 8-1 2-3zM1338 423l4 0 3 2 4 4 1 4 0 4-4 8 1 2 4 2 2 2-4 12 4 16-1 3-2 2-12 2-8-3-3-2-7-10 1-2 7-1 4 1 4 7 4 0 3-3-10-12-2-2-7-2-3-4 1-6 6-6 4-6-1-4 1-2 6-6zM1206 427l2 2-2 3-2 0 0-3 1-2zM1364 427l2 0 1 2 0 2-3 2-2-2 1-4zM1214 437l4 1 3 3 5 4 1 2-1 3-2 1-2 0-6-6-4-2-2-2 1-2 2-2zM1316 436l2 0 2 1 1 2-3 2-2-1 0-3zM1306 447l2-1 2 0 2 1 4 6-1 4-3 5-4-1-3-4-1-4 2-6zM1370 450l2 0 1 1-1 2-2 1-1-1 0-2zM1286 453l4 0 6 1 5 3 0 2-3 4-2 2-4-1-2 0-1 3 0 2 3 1 6-4 8 1 4 1 3 13 2 4-1 2-3 4-2 4 0 10-9 8-12 3-3-1 0-2 1-1 6 1 2-2 1-6 4-6 1-2-1-6 0-2 6-4 0-2-3-4-4-1-6 2-4 4-1 1-5-2-1-4 1-8-4-6-1-4 1-4 7-4zM1244 460l3 1 1 2-2 2-2-1-2-3zM1192 465l2 1 2 1 1 4-1 6 3 4 2 4-3 8 1 4 5 7 6 3 2 4 6 1-1 13 0 2-3 2-12 1-6-2-4-5-2-8-6-4-1-2 3-9 4-3 2-2 2-14 0-2-9-6-3-4 1-2 8-2zM1208 475l2 1 1 1-3 0zM1148 479l2-1 6 2 3 3 0 2-1 2-2 1-4-1-4-4 0-4zM1212 493l2 0 1 2-1 2-2-4zM1240 493l4-1 2 2 0 3-2 4-2 2-6 3-1-3 2-8 3-2zM960 497l7 2 1 2 1 8 1 2 5 4 0 2-2 2-3 2-2 0-4-7-6-2 0-13 2-2zM1156 507l2-2 6 2 2 4 7 4 1 2-2 2-4 1-6-4-2 0-6 3 2-12zM1096 508l2 2 4 7 0 2-2 2-2-1-2-2-2-7 0-2zM1148 523l2-1 2 1 1 10-3 3-3-3-1-4 0-4 1-2zM1248 523l2-2 2 1 8 2 3 1 0 4-5 4-4 1-2 0-5-5 1-6zM1116 532l2 0 2 0 4 3 3 8 5 6-6 0-2-1-1 1-21 0 1-4 3-3 9-3 0-6zM1044 536l4 1 4 3 4 1 4 0 6-3 6 1 6 0 3 2 0 8-51 0 1-4 1-1 6-1 5-6zM1166 539l4 1 2 2 1 3 0 4-19 0 0-2 2-2 10-6zM1228 541l5 0 2 8-8 0-2-6 2-2z"/>
<path fill="#4aa77a" d="M836 147l92 0 1 4 1 2 6 2 4-2-4-6 26 0-1 2-3 2-2 0-6-2-8 4 0 2 10 3 8 3 8-2 10 0 6 2 4-1 18-7 2-2 0-4 490 0 0 213-4 2-2 3-1 10-3 6-1 4 1 2 6-2 4 0 0 15-4 0-4-3-5-8-5-4-4-8-4-1-4 3-4 0-4-1-4-2-8 1-8-5-12-2-10 3-12-3-3 1-5 4-2 0-8-5-10-1-4 1-8 4-4 1-8-4-4 0-8 3-12-3-14 3-12-1-10-3-4 0-8 3-8 1-6 4-6 2-5-5-5-1-10 6-2 0-6-1-2 1-2 3 1 8-2 2-3 1-6-3-2-2-1-2 0-2 6-6 1-8-6-2-2-2-3-6-3 0-10 2-6 8-8 8-11 6-1 2 0 2 8 12 0 2-2 8-5 6-1 4-3 0 0-2 3-2 0-2-4-3-4-1-4 1-3 5-3 2-14 3-1-3 3-8-1-2-9-8-2-5-4-1-8 1-2-1-1-4-3-4-12-8-8-1-4-2-6 2-2-1-6-10 0-6-2-3-4-1-14 3-4-3-4 0-10 2-8 6-7 14-1 8-4 4-8 3-3 3 0 4 3 4 0 2-1 2-9 10-4 7-6 2-6-2-4-3-1-4 0-4-3-2-2 0-2 2-4 6-2 0-10-14-2-2-7-2-3-2 0-2 5-6-11-2-3-2-1-4 6-2 2-2 1-4-3-1-4 0-2 2-2 4-4 1-2 1-2 5-2 3-8 0-6-3-3 2-3 6-8 6-4 1-4-2-2-9 8-4-9-14-3-9-2-2-6 2-2-1-2-2-1-4-3-4-4-7-4-1-8 3-3-5 0-4 2-8 1-3 2-1-6-8-2-1-4-1-4 2-4 5-7 5-2 12-5 4 0 2 7 8 2 12 1 3 2 0 2-1 1-4 3-2 8 0 6 2 8 1 8 7-2 2-6 1-2 1 2 3 4 2 2 2-2 1-4-2-2 0-6 4-4 2-1 2 2 8-1 4-2 0-4-2-4-4-3-8-1-8-2-2-6 1-8 6-8 2-6 4 0-188 4 1 2 2 1 8-1 6 2 6 2 0 4-3 8 7 14 9 10-2 7-7 1-2-1-2-5-2-2-2-2-11-2-1 12 1 2-1 1-2-3-12 2-10-3-18-1-1-1 1-5 3-2 1-2 4-4 4-4 1-4-3-8-10-1-2 2-2 3 0 8 4 4 1 2-1 0-8 2-2 6 2 4 4 0 2 2 0 6-5 14-5 3-2-1-2-2-1-20-6-16 7-2-3-1-5zM882 155l2 2 5 0-2-2-3-1zM805 243l-1 2 1 2 1 1 2 0 2-5-2-2-2 1zM805 257l2 6-1 8 2 4 6 1 6 4 2 0 8-5 1-4-1-10-2-1-6-1-10-3-4 0-2 1zM863 317l-7 7-4 3 0 2 6 2 10-5 1-3 0-2-3-3-2-1zM876 339l-3 2-1 4 3 6 3 9 2 1 6-4 3-6-1-2-6-3-4-6-2-1zM889 339l0 4 1 1 5-3-1-2-4-2zM905 347l-2 2-1 2 2 4 2 0 3-2 1-4-2-2-2 0zM966 365l-4 10 0 2 4 2 4-2 4-4 0-2-2-6-2-1-4 0zM839 373l-1 2 2 8 2 3 2 0 3-3 1-4-3-4-5-2zM1005 375l-1 2 1 2 3 2 2 0 3-6-1-1-2-1-4 2zM986 409l-1 2 1 1 3-3-1 0zM802 163l6-1 4 1 3 4 0 2-1 2-6 5-4 0-2-1 0-6-2-2 0-4zM868 387l4-1 2 0 2 1 0 2-6 1-2-3zM1196 386l2 0 5 3 1 2-1 2-3 2-4-1-2-3 0-2 1-2zM1256 387l2-1 2 0 0 3-2 3-4 1-1-2 3-4zM1192 403l3 0-1 2-2-2zM1222 409l2 0 5 2 2 2 0 2-1 2-8 7-2-1-5-8 1-3 6-3zM1088 412l4 0 6 1 6 5 3 5 4 12 7 8 4 4 0 2-2 5-6 8-2 1-8-5-12-2-3-3 0-4 2-4 1-7 5-5-3-4-4-3-4-3-1-2 3-4-1-2 0-2zM1105 443l-3 2 0 2 0 5 2 3 4-2 4-4-2-5-2-1-2 0zM894 416l2 0 2 1 0 2-2 2-3 0 0-2 1-2zM876 421l6 1 2 1-1 2-3 2-4 0-2-2 0-2 2-2zM1142 431l3 2 0 2-3 1-2-1 0-2 2-2zM1182 431l3 0 2 2 1 3-2 1-4-1-2-3 1-2zM990 436l4 1 0 2-4 2-1-2 1-2zM1012 441l2 1 0 2-2 1-1-2zM1328 449l2-1 2 1 1 2-1 2-4 1-2 0 0-3 1-2zM1058 468l2 0 2 3 0 10 2 6-1 4-2 2-9-2-2 1-4 3-2 0-1-2 0-4-3-1-4 1-5 4-3 1-2-1-4-4 0-2 2-2 12-6 1-2-1-4 16-2 5-2zM1092 483l2-1 2 1 0 2-4 0 0-2zM1200 514l4 0 2 1 2 2 2 6-4 2-6-1-2-3 0-2 1-4zM1066 543l4 0 4 1 2 3 1 2-16 0 1-4 3-2zM1044 547l4-1 3 1 1 2-14 0 6-2zM1112 547l4 0 1 2-8 0 2-2zM1162 548l2 0 1 1-4 0z"/>
<path fill="#5cb571" d="M886 147l30 0-6 3-2 5 3 4 7 3 4-1 2-4 2-1 10 3 14 2 8 4 8-1 12 3 6-1 10-6 20-6 4-1 6 3 6-1 4-2 1-2-3-4 35 0-5 6 1 2 3 1 8-2 14 3 8-4 8 0 3-2 1-4 69 0-3 6 4 3 6 1 10 0 4-2-1-4-4-4 305 0 0 207-4 1-6 6-4 2-4-1-6-3-2 0-7 6-2 2 1 4-2 1-2-3-6-3-16 1-4-2-6-3-4 1-4 4-2 0-8-8-2 1-1 3-2 2-5 2-2 0-4-3-4-2-4 0-22 7-10-3-14 3-10-2-14 2-12-5-4 1-10 0-6 4-4 1-8-1-4-1-8 2-8-2-10 7-4-1-4-3-1-8-5-3-5-3-7-1-10 1-6-2-3 2-5 7-4 2-4 0-4-3-4 0-2 2 0 2 2 2 6 0 2 2 0 2-2 3-4 3-4-1-1-1-3-5-2-1-2 2 0 7-1 3-5 0-8 6-1 2 0 2 1 2 2 0 6-5 4-1 2 1 4 3 1 4-3 6-6 2-6 8-4 2-2 0-1-6-9-8 0-6-2-6 2-4 0-2-10-6-4-2-8 0-6 3-4-1-4-5-5-5-3-4-2-1-4 1-4 4-2 0-3-2-3-9-4-3-16 3-8-4-18 3-6-3-4-1-3 2-2 2-2 4-1 5-10 5-2 0-1-2 0-4-3-1-6 1-6 3-4 0-1-3 0-2 5-8-2-3-2-2-2 0-6 2-2-1-4-4-4-2-3 2-2 4 0 2 3 6 0 2-2 3-2 2-6 0-8 5-6-1-8 0-6-4-4-1 0-2 4-3 2-5-6-3-6-9 1-2 7-4 0-2-1-2-11-7-6-1-2 2-2 4-6 1-14-5-6-5-5-7-5-12-6-5 1-5 3-6-10-8-4-2-2-4-1-6-3-10 1-4 2-4 9-8 8-3 3-5 0-4-3-6 0-8-4-16 2-16 1-4-1-8 2-3 6-2 12-3 10 1 5-3 1-2-2-2-6-4-3-4zM864 285l2 1 1-1-1 0zM1018 305l-3 2-1 2-3 10 7 3 8-1 2-2 1-2-1-10-4-2-6 0zM997 313l-1 4 1 8 5 4 2 0 3-2-1-6-5-8-3 0zM995 341l0 2 1 1 2-3-2-1zM934 343l-2 2-3 6 3 2 7 0 3-2-3-6-3-2-2 0zM948 349l-5 2 0 2 4 4 5 1 4-3 2-4-4-2-4 0zM1145 381l1 2 2 0 3-2-3-1-2 0zM818 241l2-2 2 0 6 3 3 3-2 4-5 3-2 0-4-2-2-3 2-6zM838 276l2 1 3 6-1 10 3 8-1 3 0 7-1 2-3 1-3-1-5-5-8-3-2-4-1-4 1-4 4-6 4-3 6-7zM830 287l0 2 1 2 1 2 2-1 1-1-1-2-2-2-2 0zM801 281l0 2-1 1 0-4zM852 299l4-1 2 1 1 6 0 4-3 8-2 2-2 1-3-1-1-4 1-8 0-6 3-2zM801 315l2 2 5 12 2 2 6 2 2 4 0 2-6 5-1 3 0 4 3 6 0 2-4 5 0 3 2 2 4 1 2 2 1 3 0 2-2 4-5 3-12-2 0-67zM888 363l4 0 2 2 1 2-1 10 2 2 7 0 1 2-2 2-2 1-3-1-9-8-2-8 2-4zM954 381l4 1 12 5 2-1 6-4 2 1 4 4 2 4 0 4-10 6-4 0-3-2-4-6-14-8 0-2 3-2zM998 383l2 0 2 1 1 3-3-1-2-3zM1098 423l1 0-1 1 0-1z"/>
<path fill="#6ec268" d="M890 147l16 0-2 4-4 2-8-2-3-4zM1052 147l8 0-4 2-2 0-2-2zM1116 147l55 0-3 4-2 4 0 4 2 2 6-1 20 1 8 0 6-4 8-2 3-2 0-2-3-2-5-2 106 0 1 3 2 2 12 7 2-1 2-1 1-2-1-8 25 0 0 8 4 8 3 1 16-5 3-2 1-2 0-2-2-2-10-2-4 0-3-2 25 0 1 4 1 2 2 1 2-1 1-6 32 0 7 2 2 2 1 2-1 4 2 2 10 6 4 1 8-5 2-2 2-4 0-2-2-2-4-1-3-3 31 0 2 1 4-1 0 180-1 2 1 3 0 18-6 0-10 5-2 0-8-4-5 4-7 1-6 3-8-1-4 2-3-1-3-4 1-2 3-2 0-2-8-1-6-1-4 0-6 4-4 0-6-2-6 0-8-3-2 0-2 3 0 2 2 3 0 2-12 2-10 5-6 0-6-6-2 0-6 3-12 4-8-1-4-2-2-4 0-6-2-1-2 0-8 4-8 2-6 3-10 1-4 5-2 1-2-1-3-6-4-4-3-13-2-1-2 0-10 6-1 2-3 8-6 6-2 1-4-2-14-12-8 2-8 0-2-3-2-6-2-1-2 1-2 1-2 7-10 6-10 0-6 4-6 0-4 6-2 2-8 5-10 3-3-2-7-7-8 1-4-2-1-2-1-6-8 0-4-2-1-2 0-4 1-2 7-4 1-2-2-6 2-2 1-4-3-3-2 0-4 3-6 8-2 2-2 0-6-3-2 0 0 11 3 4-1 2-2 1-2 0-3-5-3-1-4-1-6 0-3-2-4-4 0-2 3-4 0-2-2-1-3 1-2 2-1 2 2 2 0 2-4 3-2-1 0-6-4 0-4 2-2 3-2 1-6-3-6 3-8 2-4 0-1-2-2-10 0-2 1-2 10-2 6 2 2-1 5-11-2-12-3-4-8-6-4 0-6 4-4 2-16 3-2 0-6-5-2 0-2 4 2 4 6 0 1 2-3 6-6 4-1 2 2 4 1 12-1 2-5 1-6-1-2-2 0-4-2-2-4-1-4 0-2-3-6-5-2-7-2-2-9-8-11-7-14 0-2 1-5 8-3 2-12 0-6 5-8-1-2-1-1-7-5-6-1-4 1-2 10-8 9 2 3 5 2 1 1-6-3-8-2-3-4-1-4 2-4 5-6-2-2-3 0-2 4-6-2-12-3-2-3 0-8 2-6 0-3-2-1-4 2-4 2-1 4-2 8-2 2-2 2-3 3-14 1-12 0-4-8-10-2-6 1-8 5-7-2-9 2-2 12-3 12 1 10-2 10 1 10 4 2 0 8-4 8-1 10 3 3 3 0 4 1 2 5-4 3-1 12 2 12-2 8-7 18-4 4 0 4 3 4 1 10-5 6-2 8 1 12 5 6 0 8-3 4 0 5 2 3 6 0 2-2 6 2 4 2 3 8 4 3-1 1-4-2-5-7-7 3-8 1-2 3-2 10-1 8-4-1-5zM1258 151l-1 2 0 2 9 5 4 6 2 0 4 0 3-3 0-2-7-5-6-6-4-1-4 2zM1076 187l-13 4-2 2 2 10-6 6 1 3 6-3 8 0 5-8 1-5 2-1 1 2-1 4 4 10 6-1 6 1 4-3 8-1 4 0 2-2-1-4-5-7-19-5-5-2-6 0zM1235 187l1 3 2-1 2-2-4-1zM994 191l-3 4 0 2 3 1 6 1 2-2-2-4-2-2-4 0zM1114 191l1 0-1 0zM1035 201l3 2 2 2-2 6 1 2 3 4 2 0 2-2 2-10-1-2-4-2-5-1-2 0zM1017 203l-6 2-1 2 0 2 16 5 5-1 1-4-2-4-6-2-6 0zM1078 213l-2 2 0 2 4-1 2-3 0-2-2 1zM880 215l-3 4 2 2 5 1 3-1 1-2-2-2-2-2-4 0zM1204 215l-6 2 1 2 7 4 2-1 1-5-1-2-4 0zM929 227l-1 2 1 4-1 6 2 4 4 4 8 0 1-2-1-8 1-4 0-2-5-5-2-1-6 2zM992 227l-4 2-4 4-1 4 1 2 14-1 5-3 0-2-1-3-10-3zM1009 245l-3 6-6 3-1 1 0 2 1 2 4 1 1 1-3 3-4 1 2 2 6 4 6-2 3-2 0-2 1-12-6-9zM1254 245l0 3 2 0 2-1 0-2-2-1-2 1zM1084 247l0 3 2 2 2 0 2-1 1-2-1-2-2-2-4 2zM1200 267l-3 2-1 6-1 4 1 2 4 3 12 1 2-4-4-7-4-4-6-3zM984 275l-1 2 3 2 1-2-3-2zM1042 275l-2 2 1 4 3 2 5 0 1-4-2-4-2 0-4 0zM1055 285l-2 2-5 10 1 2 5 2 3 2 1 6 4-2 2-2 1-14-1-4-2-1-6-1zM1225 289l-4 4 1 12 6 7 2-1 1-4-3-8-1-8-1-2zM929 293l0 2 1 2 2-1 0-3-2-1zM1089 293l0 2 1 1 2 0 1-1 0-2-3-1zM1092 303l-4 3-2 11 2 6 1 8 3 2 4-1 2-3 0-8 5-6-1-4-6-9-2 0-2 1zM1130 307l-3 4 0 2 2 2 3 2 6 1 3 1 0 6-5 6-1 2 0 2 5 6 2 7 4 3 2-2 1-2-4-6-1-2 6-18-1-2-6-2-1-6-4-4-4-2-4 2zM958 311l-4 4 1 2 3 0 6-1 4 1 0-6-10 0zM1106 317l0 2 2 5 2 0 3-5-1-2-4-1-2 1zM970 319l0 3 2 1 4-2-6-3zM1146 357l0 2 2 2 2 0 3-2-1-2-2-1-2-1-2 2zM1204 147l4 0-4 1-1-1zM1448 147l9 0-3 3-4 1-2-1-1-3zM924 313l4 2 0 2-2 3-2 0-3-1 0-4 2-2zM1004 343l2 0 4 6 0 3-2 2-7-3 0-4 3-4zM932 359l2 0 0 2-2 0 0-2zM1148 400l5 3-3 1-3-3z"/>
<path fill="#88cc61" d="M894 147l4 0-2 1-3-1zM1126 147l13 0-3 3-2 1-9-4zM1158 147l7 0-4 6 0 4-1 3-3-1 0-2 2-4-1-6zM1226 147l2 0-2 1-1-1zM1244 147l10 0-2 2-4 1-6-3zM1270 147l9 0-3 3-2 1-4-1-2-3zM1288 147l3 0-1 1-2-1zM1304 147l3 0-3 1-1-1zM1342 147l13 0-1 7-2 1-6-2-4-6zM1404 147l11 0 3 6 0 4 5 4 3 7 2 1 2-1 4-5 2 0 6 5 6 2 4 7 6 4 2 4 2 2 6 1 8 5 10 0 6 3 6 1 0 3-14 2-4 1-1 2-1 4 0 3 2 1 2-1 6-5 6 4 4 1 0 70-2-5-2-2-4 0-6 1-2 0 1-9-1-12-2-3-2 1-2 3-2 11-9 8 1 2 2 1 12 2 1 3 1 3 4 1 4 0 2 2-3 14-2 6 6 10 0 2-3 4-4 2-1 2-3 1-6-2-5 1-12 14-3 7-2 1-2-2-1-6-6-4-3-6-4-1-9 1-1-2 4-8-2-3-4 1-8 5-2 0-4-3-4 0-1 2 0 6-4 6-1 4-2 1-2-2-3-7-3-4-1-6-5-1-6 3-4 6-2 1-8 1-8-2-6 4-6-2-2 1-1 3 3 4 1 2-1 4-5 8-5 3-2 0-2-1-2-4 1-10-1-2-2-1-8 1-5-4 0-6 5-8 1-4-1-2-4-2-2 1-2 3-2 2-12 4-6-3-2 0-2 1-1 2 0 4 4 6-1 8 2 2 6 1 2 0 4-5 2 0 5 4 0 2-3 2-6 0-6 2-4-2-8 1-6-1-1-12-2-4-3-1-12 4-8 5-2 0-4-2-10 1-12-7-2-2 0-2 2-2 8 3 12-4 8 0 3-3 2-4 5-2 1-2-1-3-6-5-3 2 0 2 3 4-1 2-5 1-6 4-2-1-1-2 0-2 7-6 0-2-4-2-6 1-2-2-3-11-1-12-2-2-8 1-4-3-9-16 1-8-3-6 0-2 1-1 8-2 5-3 1-2-3-6 0-4 5-5 3-7 1-2 4-1 8 0 14-3 2-1 2-2 1-7-1-1-4 0-1-1 1-6 5-8 0-8-1-2-1-2-5-2-1-2 1-4 2-1 4 0 4 1 3 4 5 3 12 2 2-1 2-4 6-6 4-6 6-3 6 0 4-1 2 0 14 8 2 2 0 2-2 4 0 2 8 6 0 16-5 4 1 3 2 1 2 0 6-2 10 0 8 4 2-1 3-11 1-2 2 0 8 3 2-1 0-6-3-8-3-6 0-2 12-5 4 0 10 3 2-1 4-3 3 2 3 1 4-3 1-2-1-2-6-3-3-5-1-4zM1284 175l0 4 1 4 3 4 2 1 2-2 1-3 0-4-2-2-7-3zM1386 193l-1 2 1 4 4 2 3 0 0-6-1-3-2-1-4 2zM1289 199l-2 2-1 4 1 2 3 2 3-2-1-6-2-2zM1447 199l-5 4 0 4 2 4 6 2 2-1 3-9 0-2-3-2-4 0zM1394 203l-1 6-5 5 0 7 2 4 4 3 4 5 2 2 14 4 2 0 4-5 4-1 6 2 6 5 2 1 4-3 4-5 6-2 2-2 0-8-2-3-2 0-4 6-2 1-2 0-3-4-1-6-2-2-6 0-2-2-2 0-6 5-4 2-4-7-4-4-10-5-4 0zM1431 203l-1 2 0 3 4-2 2-1 0-2-4-1zM1331 211l1 2 2-2-2-2zM1346 219l0 2 3-2-3 0zM1357 219l-2 4 0 4 3 3 2 0 4-3 2-2 0-4-4-3-4 0zM1488 223l-4 2 0 2 3 6 1 6 2 2 2 0 2-2 2-4-6-4 0-2 1-4-1-2-2 0zM1371 233l-2 2-1 4 2 5 1 5 3 2 4-2 1-2-1-8-2-4-4-2zM1234 239l2 2 3-2-1-1-2 0-2 1zM1252 239l-5 10 0 4 4 6 5 3 8 9 2-8 4-6 1-4-1-4-8-9-6-2-4 1zM1390 241l-5 6 0 2 1 2 4 2-1 2-6 4 0 2 0 2 3 1 6-3 6 0 10 4 2 0 2-1 2-5-2-6-4-3-4-1-10 1-1-1 3-4 0-4-2-1-4 1zM1476 241l-1 2 0 2 5 4 2-1 1-3-1-3-2-2-2 0-2 1zM1308 251l-2 1 0 2 5 5 3 6 2 1 3-1 2-2-1-2-12-10zM1310 279l-2 4 2 3 4 0 5-3-1-2-4-4-2 0-2 2zM1448 281l-2 2 0 2 0 2 2 1 4-1 2-2-1-2-1-2-4 0zM1433 287l0 2 3 0 0-2-2-1zM1350 299l-4 2-1 2 0 2 7 6 2 4 4 2 2-1 1-1-3-6 0-8-4-3-4 1zM1475 307l-3 2-2 4 0 2 2 2 2 1 8-3 4-6-6-3-4 0zM1478 147l8 0 1 4 4 4-3 13-4 0-5-3-1-2 1-6-2-10zM1138 157l2 0 10 5 4 9 2 1 4-3 2-1 6 5 6 3 4-1 6-4 4 0 6-5 4-1 6 2 8-7 6 0 3 1-3 6 0 3 6 3 1 2-1 6-1 4-13 20-4 3-4 1-6-2-3 0 0 2-1 10 2 4 4 5 3 13-3 12 0 6-4 3-5 1-2 2 0 6-3 4 4 8-1 2-3 1-8-2-2 1-5 6 0 2 4 4 0 8 2 4 3 4 4 3 6 2 4-1 2-1 2-3-2-3-5-3-2-2-1-2 0-2 2 0 8 4 4-2 4-5 2 0 11 13 1 2-8 6-1 6-3 2-2 0-8-4-8 6-4-3-2-1-2 3-1 3 3 2 4 0 2 1 1 3-7 4 1 10-15 4-8-2-4-2-2-6-4-6 0-3 2-1 4 4 4 2 0-14 6-8-2-1-4-2-5-5-7-15-2-1-4-1-1-1 2-10-1-6-2-2-4-1-4 9-8 10 0 4 1 6-1 4-4 2-10 1-4-1-3-4-1-6 2-5 2-3 2-1 6 1 3-2 6-12 3-3 8 0 1-1 1-8 0-4-4-4-8-13-2-2-5 5-4 8-8 6-1 2-1 8-1 2-4 3-6 1-3 4-3 2-6 5-2 0-1-1-1-6-8-6-1-4-3-3-12-4-6 2-8 0-1-1 2-8-1-4-2-1-8 3-2-1-1-11-1-1-2-1-4 1-3-3 0-2 4-6 1-6 1-2 3-2 8-1 3 1 3 6 2 2 10 1 3-1 1-2 0-4 2-2 6-1 2-3 2-1 2 1 1 6 3 2 8-1 8-5 2-1 6 2 6 0 8 3 6-2 2 1 1 3-4 8 1 2 2 2 2 1 1-1 1-1 1-9 7-6 2-4-1-4-8-8-1-4 2-2 7-2 0-2-7-3-4-10-2 0-6 1-2 0-1-2-6-12-2-6 1-2 2 0 12 3 6-2 6 1 4-2 6-4zM1161 203l-7 4-4 8-6 7-6-1-2 0-1 2 0 4 3 6 2 1 8-4 10-2 4-1 4-14 2-10-2-2-4 2zM1172 221l-3 4-1 4 3 2 5 1 3-1 1-2 0-2-3-4-3-2zM1072 231l-4 2 0 2 4 4-1 4-4 4-3 5-5 3-1 2 0 2 4 3 8 2 4 4 2 0 1-9 1-4 12 5 4-1 3-2 2-4-1-10 2-4-1-2-3-1-4-1-6 2-6-4-4-2-4 0zM1149 239l-1 2 2 3 8-1 2-2-10-2zM1141 247l-4 6 0 4 1 3 6 1-1 10 1 2 5 0 2-2 2-6 5-8-1-2-7-4-6-5-2 0zM1164 251l-2 4 2 2 4 0 2-4-1-2-3-2-2 2zM1036 161l6-1 7 1 3 4 0 6-4 0-10-3-3-3 0-2 1-2zM1008 165l6 0 10 4 2 2 2 6 4 2 2 0 4-5 6 4 2 0 4-3 2-3 8-2 6 3 6-1 2 5 0 2-4 4-4 2-4 0-5 2-8 6-13-1-2-5-2-1-2 0-6 6-16-12-2 1 2 6-2 3-6-5-6-5-5-3 0-2 7-9 11-1zM878 167l6 0 6 2 0 6 6 5 6-1 8 2 8-2 2 8 2 2 8 1 4 0 2-1 4-6 8-2 6 2 8-5 4 1 6 5 8 0 1 1 1 5-3 3-1 2 1 2 9 8 1 4-3 6 0 8-2 2-12 8-1 2 4 14-3 3 0 3 2 1 4-1 2 0 2 4 0 6-1 2-3 1-10 2-6-1-6-5-4-1-2 2 0 8-4 3-8-4-3 1-1 2 2 5 2 2 2 0 6-2 6 1 6-3 4-1 12 4 0 2-2 8-6 11-4 1-6-1-4-4-2-1-8 2-2 0-4-10-2-1-4-1-7 2-6 4-7-1-6 1-7-18-8-4-1-12-2-4-3-4-1-12-5-4-1-4 3-4 3-1 6 0 4-3 0-8 0-2 4 0 3-2-1-10 0-2-4-3-12-5-4 1-2 5-2 3-8-7 0-5 6-5 2-4 0-4-1-4 1-2 4-2zM911 193l-3 2 2 8-5 10 5 6-1 6 4 12 5 5 4 5 10 5 7 1 2 2 1 4 2 1 2-2 4-5-2-12 4-8 0-8 4-4-3-4-3-1-4-1-6-2-7 0-6-10-6-4-3-7-6 1zM964 217l-5 2-2 2 9 9 2-2 1-7-1-3-4-1zM958 239l0 2 2 1 2-1-1-2-3 0zM1498 167l0 14-9-8 1-3 7-3zM942 169l2 0-3 0zM1358 170l4 0 3 3-1 6-2 2-2 1-2-1-2-4 0-4 1-2zM1216 209l2-1 1 1-3 1 0-1zM924 217l5 0 0 2-5 1-3-1 2-2zM1406 220l4 0 2 1-4 6-6 5-1-3 3-8zM874 244l2 0 2 3-1 4-1 1-4-1-1-2 2-4zM992 245l4 0 1 2-5 6-2 0 0-4 2-4zM1014 276l4 0 4 3 1 2-1 4-6 4-3 6-2 2-5 0-7-2 7-10 5-4 2-4zM1038 285l5 2 1 2-2 3-2-1-2-4 0-2zM880 295l4-1 2 1 1 4-1 1-4 2-5-3 0-2 3-2zM1070 294l2-1 4 4 7 12-1 4-2 3-8 1-1 2 2 2 7 4 0 2-1 2-3 3-8-8-2 0-8 6-6 1-8-9 0-3 0-4 5 4 5 1 8-5 8-3 1-5-2-8 1-4zM900 300l3 1 0 2-1 2-2 1-3-1 0-2 2-2zM1498 301l0 1 0-1zM1124 325l2 1 1 1-1 4-2 2-2 0 0-2 0-4 2-2zM1022 335l3 2 0 2-3 2-2-2 0-2 2-2zM1076 338l3 3-2 2-1 0-2-2 1-2zM1492 339l2-1 4-1 0 9-3-1-3-2 0-4zM1356 343l4-1 4 1 5 4 1 2 0 2-4 6-2 1-2-1-4-3-6-3-1-2 1-2 4-4zM1414 343l2-2 2 1 1 1-3 2-2-2zM1376 349l2 0 0 1-2 1 0-2z"/>
<path fill="#abd75d" d="M1310 163l4-1 3 1 2 6 7 8 0 2-2 1-6-2-2 1-4 8-4-1-2-3 0-6-2-6 2-5 4-3zM1014 172l2-1 4 2 2 6-2 2-4-2-2-6zM1204 173l5 0 2 4 5 6-2 5-6 5-2 6-4 3-4-2-8-5-1-4 2-4 7-4 2-8 3-2zM1396 173l4 1 2 3-1 2-3 3-4-1-2-2 1-4 1-2zM1432 175l3 0 2 6 7 6 1 4-5 4-2 0-3-2-4-16 1-2zM1186 181l1 0-1 2 0-2zM1412 181l2-1 5 3 1 2-1 6-2 4-5 4-4 1-3-1-1-2 0-2 8-6 1-2-1-6zM886 182l2-1 2 1 2 1 0 3-2 2-2 0-3-3 1-2zM1138 182l4-1 2 2 1 2-3 4-4 1-2-2 0-3 1-2zM1274 184l2 0 7 9-1 4-2 2-1-2-8-4-2-2 0-2 3-4zM962 187l4 1 1 3-7 7-2 1-6-3-2 0-4 2-2 0-3-3 4-4 5 0 11-4zM1168 187l5 0 2 2-1 3-2 1-4 0-1-2 1-4zM936 197l3 0-3 1-1-1zM1464 197l4-1 2 1 2 2-3 10 5 10-1 4-2 4-1 6-2 0-6-5-2-2-1-3 1-4 2-8-1-4 3-10zM942 200l4 0 4 3 2 4-1 2-5 1-6-3-1-4 2-2zM1322 201l4 1 2 3-5 6 2 12-1 6 2 4 0 2-4 8-4 1-14 0-3-5-5-4-2 0-2 0 0 2-1 6 7 8 4 10-1 6 6 6 0 2-1 2-5 6 0 2 5 4 4 5 7 3 2 4-3 4-8 3-3 5-3 2-4-1-4-4-2-1-4 5-5 3-5 6-10 2-1-2 2-8 7-4 2-2-1-6 5-4 6-8 0-2-3-2-3-4-4-1-2-2-1-5-1-8 4-9 8-2 4-9-1-4-2-4 3-4 0-6-2-3-6-3 1-2 1-4 2-1 6 1 2 0 10-5 8-10 9-1zM1372 200l2 1 2 2 1 4-2 4-5 3-2-2 0-5 1-4 2-2zM1348 203l3 2-1 2-4 4-2 1-1-1-1-2 1-2 1-2 3-2zM1144 204l2-1 1 2 1 2-2 3-2-1-1-4zM1278 205l2 2 0 4-2 2-4 0-2-2 1-2 1-2 3-2zM1174 209l6 2 1 2-3 2-2 0-3-2 0-2zM1250 218l4 1 2 2 1 2-3 3-2 1-2-1-2-5 1-2zM1266 218l2 0 11 7-3 6-2 1-10-3 0-6 1-4zM900 226l2 0 4 3 2 4 0 6 6 6 2 4 0 7-5 3 0 2 5 2 1-6 5-2 4 1 2 3 0 2-2 2-4 2-4 0-6 5-2 3-2 8-2 0-2-4 1-4-2-4-4-4-4-6-1-2 1-6 0-2-6-6 0-4 1-2 6-8 3-2zM1232 227l1 0-1 1 0-1zM1188 230l3 1 1 2-2 3-2-1 0-4zM1038 235l6-1 2 1 1 2-3 4-2 2-2-1-3-3 0-4zM1352 243l2 0 5 2 1 2 0 2-2 2-4 1-4-2 0-3 2-4zM1044 245l6 2 2 4-2 3-4 3-2 0-1-2-1-4 0-4zM1180 248l6 1 1 4-2 6-5 4-2 0-3-2 0-2 4-10zM1324 252l3 1 1 2-4 1 0-3zM1496 253l2 0 0 13-3-1-2-2-2-6 0-2 1-1 4-1zM1336 255l6-1 4 5 4 0 4 4 0 4-2 0-4-1-4-5-6-2-3-2 0-2zM1450 254l4 2 8 1 2 1 4 7-2 2-8 0-6 2-2-2 1-8-2-4zM1220 257l6-1 4 1 1 2-7 8 6 6 2 0 4-5 4-2 5 1 1 2-1 4 1 2 4 0 3-2 0-2-2-2-1-2 3 0 3 4 5 4 3 9 11 1 2 4 0 6-1 2-2 2-2-1-8-5-4-1-12 4-6 4-2 0-1-3 2-4 0-2-7-14-2-3-8 3-2-2-2-2 2-6-6-4 0-2 3-4zM1164 263l3 0 0 2-3 2-2 0 0-2 2-2zM1374 262l3 3-1 3-2 0-1-1-1-2 1-2zM1322 271l0 3-2-1 1-2zM1362 273l8 6 7 8 0 4-3 2-2 1-4-2-4-5-4-12 1-2zM1166 274l2 1 0 8-2 3-4 1-3-2 1-2 6-8zM928 281l1 0-1 0zM1340 281l3 0-1 2-2 0 0-2zM1386 281l4-2 6 2 1 2-3 6 0 2 0 2 2 1 6-5 4-7 2-1 4 3 1 3-6 12-3 4-4 1-2 0-4-2-2 0-4 2-2-1-2-6 1-6-1-6 2-4zM1464 283l4 0 1 2-3 3-4-1 0-2 1-2zM1332 289l1 2-1 4 2 2 3 4 0 8 4 6 0 2-5 2-4 0-2-2-2-6-5-6-2-4 11-6 0-6zM1450 294l4-1 2 1 6 7 6 0 1 2-3 4-2 1-4-1-2 2-2 8-1 2-13 4-2-2-1-2 1-4-2-2-12-5-2-5 0-4 2-3 2-1 12 3 8-3zM1366 305l4 2 0 2 3 0-1 1-6-1-2-2 1-2zM1392 310l4 1 2 2-1 2-3 2-2-1-2-1 0-2 1-2zM1326 324l2 0 2 2 4 3 0 2-4 1-6-1-1-2 2-4zM1168 332l1 1-1 1-1-1zM1338 343l2 2-2 3-1-3 1-2z"/>
<path fill="#d1df72" d="M1300 219l2 0 3 6 6 4 0 2-2 2-5 1-2 0-2-3-3-8 1-2 2-2zM1290 266l2 1 5 6 1 2-2 2-4 3-2-1-5-4-1-2 2-3 3-3zM1298 293l2-1 3 1 2 6-1 2-4 0-3-2-1-2 2-4z"/>
<path fill="#98b7e2" d="M797.9 400 L834.2 405 L855.9 424 L876.9 446 L879.9 470 L891.9 482 L909.9 487 L929.9 505 L949.9 515 L975.9 524 L989.9 512 L1001.9 502 L1019.9 499 L1039.9 504 L1054.9 518 L1064.9 552 L797.9 552Z"/>
<path fill="#2a186c" d="M797.9 417.3 L820 417.3 L834.2 430.5 L850.3 442.6 L864.5 458.7 L872.5 468.8 L880.6 476.9 L888.7 480.9 L898.8 485 L912.9 495.1 L923 505.1 L933.1 515.2 L945.2 521.3 L957.3 527.4 L963.4 533.4 L975.5 533.4 L985.6 535.4 L997.7 539.5 L1009.9 536 L1024.9 531 L1037.9 530 L1047.9 536 L1053.9 552 L797.9 552Z"/>
<path fill="#2a186c" d="M1024.9 510 L1031.9 508 L1037.9 512 L1031.9 515 L1025.9 514Z"/>
<path fill="#98b7e2" d="M797.9 159.3 L805.2 158.4 L811.4 153.1 L814.5 156.6 L815.4 158.4 L819.9 158.4 L825.2 155.3 L829.6 158.4 L833.2 160.2 L837.6 160.2 L842.1 162.9 L844.7 165.5 L845.6 172.6 L846.5 179.7 L849.2 185.1 L852.7 190.4 L856.3 193.9 L858.1 197.5 L857.7 203.6 L860.2 213.6 L859 219.8 L855.2 224.8 L849.9 232 L797.9 232Z"/>
<path fill="#98b7e2" d="M853.9 216 L852.9 221 L846.9 231 L842.4 237 L840.3 250.5 L836.9 264 L833.4 276 L829.9 285 L829.3 294.5 L827.9 305 L826.4 315 L825.9 321.6 L823.9 330 L820.9 338 L814.9 342 L807.9 341 L814.1 328.3 L817.4 318.2 L819.1 304.6 L820.8 294.5 L824.2 284.3 L829.3 275.9 L834.4 264 L837.8 250.5 L841.1 236.9 L846.2 230.2Z"/>
<path fill="#98b7e2" d="M820.4 331.7 L822.9 341.9 L835.6 340 L854.7 339.4 L873.7 336.8 L880.1 338.1 L892.8 338.1 L905.5 337.5 L918.2 336.2 L930.9 331.7 L943.6 327.3 L956.3 324.1 L963.9 325.4 L971.5 329.2 L979.1 333 L980.4 340.6 L979.1 350.8 L972.8 355.9 L969 359.7 L966.4 367.3 L962.6 376.2 L958.8 386.3 L956.3 396.5 L953.7 406.7 L925.8 406.7 L918.2 363.5 L880.1 350.8 L822.9 350.8Z"/>
<path fill="#98b7e2" d="M979.1 337.5 L974.1 365 L964.1 390.1 L954.1 405.1 L944.1 422.6 L926.6 447.6 L921.5 457.6 L914 415.1 L919 337.5Z"/>
<path fill="#98b7e2" d="M922.6 200.8 L932.5 190.1 L943.2 184.8 L966 187.1 L973.6 195.4 L977.4 200.8 L973.6 208.4 L950.8 210.7 L935.6 213.5 L932.5 206.1Z"/>
<path fill="#98b7e2" d="M1009.6 208.9 L1028.9 211.8 L1036.7 220.5 L1040.5 227.2 L1057.9 231.1 L1067.6 235 L1062.8 242.7 L1055 251.4 L1043.4 236.9 L1028.9 229.2 L1016.3 221.4 L1009.6 215.6Z"/>
<path fill="#98b7e2" d="M1023.6 149 L1082.9 149 L1088.9 156 L1097.6 162.2 L1105.9 166.5 L1102.9 170.5 L1095.9 178.5 L1094.9 186 L1097.6 193 L1101.9 197.7 L1108.9 198 L1104.9 199.5 L1095.9 198.7 L1086.9 198 L1077.3 197 L1066.9 195.6 L1058.5 192.9 L1045.9 183.1 L1034.8 173.3 L1026.4 162.2Z"/>
<path fill="#98b7e2" d="M993.8 151.8 L1011.9 151.8 L1015.2 164.2 L1005.3 165.8 L997.1 160.9Z"/>
<path fill="#98b7e2" d="M1026.7 306.2 L1034.2 303.7 L1044.2 311.2 L1059.2 313.7 L1061.7 318.7 L1049.2 323.7 L1036.7 321.2 L1029.2 316.2Z"/>
<path fill="#98b7e2" d="M981.6 323.7 L994.1 321.2 L999.1 331.2 L996.6 341.2 L986.6 341.2Z"/>
<path fill="#98b7e2" d="M1099.9 468.9 L1109.9 455.6 L1124.9 450.1 L1150 437.6 L1170 427.6 L1180 421.4 L1200 415.1 L1220.1 415.1 L1235.1 422.6 L1250.1 440.1 L1262.6 450.1 L1270.1 462.7 L1300.2 460.2 L1310.2 453.9 L1325.2 452.6 L1350.2 445.1 L1375.2 442.6 L1400.3 445.1 L1427.8 445.1 L1440.3 452.6 L1445.3 465.2 L1455.3 480.2 L1467.9 495.2 L1482.9 510.2 L1495.4 519 L1495.4 552 L1099.9 552Z"/>
<path fill="#98b7e2" d="M1226.9 230 L1235.9 230 L1234.9 238 L1229.9 240.5 L1226.9 236Z"/>
<path fill="#98b7e2" d="M1324.9 286 L1334.9 281 L1344.9 277.5 L1354.4 276.5 L1354.9 281 L1345.9 285 L1335.9 290 L1326.9 293Z"/>
<path fill="#98b7e2" d="M1375.6 283 L1380.9 282.5 L1386.9 290 L1391.7 300 L1387.9 303 L1381.9 296 L1375.9 290Z"/>
<path fill="#98b7e2" d="M1399.9 299 L1405.9 298.5 L1409.9 305 L1412.9 318 L1407.9 319.5 L1402.9 312Z"/>
<path fill="#98b7e2" d="M1364.9 305 L1371.9 303 L1375.9 307 L1369.9 311 L1364.9 309Z"/>
<path fill="#98b7e2" d="M1417.9 409 L1421.9 410 L1416.9 422 L1411.9 433 L1407.9 432 L1411.9 422Z"/>
<path fill="#98b7e2" d="M1204.9 225 L1213.9 224 L1212.9 229 L1205.9 229.5Z"/>
<path fill="#6ec268" d="M1059.9 151 L1080.9 151 L1080.9 162 L1071.9 168 L1060.9 164Z"/>
<path fill="#40967f" d="M1314.9 458 L1321.9 454.5 L1334.9 453.5 L1347.9 455 L1350.9 460 L1345.9 465 L1331.9 466 L1319.9 465Z"/>
<path fill="#98b7e2" stroke="#98b7e2" stroke-width="5" stroke-linejoin="round" d="M893.7 203.1 L897.9 197 L905.1 190.1 L912.7 184 L921.9 180.2 L931.8 177.2 L943.2 174.9 L954.6 172.2 L966 172.6 L973.6 171.8 L983.5 170.3 L996.4 172.6 L999.9 176.9 L1014.4 183.7 L1028.9 189.5 L1043.4 194.3 L1053.1 200.2 L1062.8 207.9 L1072.5 214.7 L1082.1 218.5 L1091.8 221.4 L1100.5 223.4 L1101.4 228 L1111.2 231.1 L1120.8 235 L1128.6 238.9 L1133.9 241.8 L1130.5 244.7 L1116 248.5 L1106.3 249.5 L1096.6 248.5 L1087 249.5 L1077.3 249.5 L1067.6 250.5 L1055 251.4 L1059.9 244.7 L1067.6 237.9 L1067.6 234 L1062.8 231.1 L1048.3 230.1 L1040.5 226.3 L1036.7 219.5 L1034.7 211.8 L1030.9 208.9 L1022.2 210.8 L1009.6 206.9 L999.9 204 L996.4 200 L988.8 198.5 L981.2 198.5 L978.2 195.4 L975.9 197 L969.8 197 L962.9 195.4 L958.4 191.6 L962.9 190.1 L966.8 187.1 L962.2 184.8 L950.8 184 L943.2 184 L937.1 187.1 L932.5 190.1 L928 193.9 L920.3 195.4 L914.3 197 L909.7 201.5 L905.1 202.3 L903.6 205.3Z"/>
<path fill="#98b7e2" stroke="#98b7e2" stroke-width="5" stroke-linejoin="round" d="M1149 252.8 L1153.5 250.5 L1161.5 250 L1170.7 251.7 L1179.8 253.4 L1186.6 252.3 L1191.2 250 L1200.3 249.4 L1208.3 250.5 L1216.3 252.8 L1223.2 254.5 L1227.7 255.7 L1231.2 263.1 L1236.9 264.2 L1243.7 264.2 L1246 267.7 L1252.9 271.1 L1258.6 275.7 L1263.1 280.2 L1259.7 284.8 L1257.4 289.4 L1255.1 291.6 L1251.7 287.1 L1242.6 285.9 L1231.2 284.8 L1223.2 283.6 L1214 285.9 L1208.3 287.1 L1202.6 289.4 L1199.2 296.2 L1194.6 301.9 L1192.4 304.8 L1190.1 301.9 L1188.9 296.2 L1184.4 290.5 L1179.8 288.2 L1168.4 288.2 L1157 287.1 L1145.6 289.4 L1139.9 293.3 L1134.1 289.4 L1127.3 284.8 L1126.2 280.8 L1130.7 279.1 L1139.9 280.2 L1149 281.9 L1160.4 282.5 L1168.4 282.5 L1174.1 280.2 L1173 276.8 L1168.4 273.4 L1165 267.7 L1166.1 262 L1159.3 257.4 L1152.4 256.3Z"/>
<path fill="#98b7e2" stroke="#98b7e2" stroke-width="5" stroke-linejoin="round" d="M1040.5 286.3 L1042.9 283.9 L1050.1 282.7 L1051.3 282.1 L1056.2 282.7 L1062.2 283.3 L1067.1 283.9 L1073.1 284.5 L1075.5 286.9 L1080.4 288.7 L1084.6 290 L1087 293 L1088.8 296 L1086.4 297.8 L1080.4 297.8 L1077.3 295.4 L1073.1 294.8 L1071.9 296.6 L1068.3 297.2 L1068.3 300.8 L1065.8 300.8 L1064.6 299 L1061 297.8 L1053.8 297.8 L1052.5 295.4 L1048.9 291.2 L1046.5 290 L1041.7 289.3 L1040.2 288.1Z"/>
<path fill="#98b7e2" stroke="#98b7e2" stroke-width="5" stroke-linejoin="round" d="M1287.6 283.7 L1300.2 282.4 L1312.7 282.4 L1322.7 284.9 L1323.9 289.9 L1317.7 293.7 L1300.2 296.2 L1290.1 296.2 L1287.6 291.2Z"/>
<path fill="#98b7e2" stroke="#98b7e2" stroke-width="5" stroke-linejoin="round" d="M1412.8 458.1 L1427.8 457.1 L1426.6 472.7 L1412.8 475.2 L1411.5 466.4Z"/>
<path fill="#98b7e2" stroke="#98b7e2" stroke-width="9" stroke-linejoin="round" d="M797.9 214.8 L810.3 212.8 L820.7 211.8 L831.3 211.8 L841.4 210.9 L846.9 211 L851.4 212.3 L854 216.6 L853 220.5 L846.2 230.2 L841.1 236.9 L837.8 250.5 L834.4 264 L829.3 275.9 L824.2 284.3 L820.8 294.5 L819.1 304.6 L817.4 318.2 L814.1 328.3 L809 338.5 L805.6 341.9 L820.8 344.4 L837.8 342.2 L854.7 340.5 L871.6 339.3 L888.5 341 L905.5 343.6 L914.4 348 L922.4 352.6 L930.9 361 L934.1 364.1 L929.6 368.6 L930.9 376.2 L929.6 383.8 L927.1 391.4 L925.8 400.3 L925.2 405 L929.1 377.5 L926.6 402.6 L923.5 420.1 L921 435.1 L919.5 447.6 L921.5 457.6 L927.8 466.4 L936.6 475.2 L946.6 483.9 L956.6 491.4 L966.6 498.9 L976.6 502.2 L989.1 500.2 L1001.6 492.7 L1011.7 488.2 L1024.2 487.2 L1036.7 488.9 L1046.7 492.7 L1056.7 500.2 L1066.7 507.7 L1073 515.2 L1074.2 521.5 L1072.1 510.2 L1078.3 506.6 L1089 499.5 L1097.9 490.6 L1101.4 481.8 L1103.2 467.5 L1110.3 458.7 L1117.4 453.3 L1124.6 453.3 L1128.1 458.7 L1131.7 448 L1142.3 447.1 L1153 444.4 L1163.7 440 L1174.3 432 L1181.4 426.7 L1190.3 422.2 L1197.4 423.1 L1201 430.2 L1195.7 435.5 L1185 440.9 L1183.2 446.2 L1186.8 453.3 L1190.3 456.9 L1192.1 455.1 L1202.8 451.5 L1218.8 446.2 L1224.1 442.7 L1220.5 435.5 L1222.3 429.3 L1227.6 428.4 L1231.2 435.5 L1233 442.7 L1245.4 444.4 L1256.1 448 L1263.2 455.1 L1266.7 464 L1273.8 465.8 L1279.9 464.9 L1297.6 462.7 L1312.7 462.7 L1317.7 467.7 L1327.7 472.2 L1337.7 474.4 L1347.7 471.4 L1352.7 466.4 L1365.2 463.9 L1377.7 462.7 L1385.3 462.7 L1387.8 465.2 L1392.8 470.2 L1397.8 476.4 L1407.8 480.2 L1417.8 485.2 L1425.3 492.7 L1427.8 502.7 L1435.3 510.2 L1450.3 514 L1460.4 517.7 L1470.4 525.2 L1477.9 535.2 L1482.9 542.8 L1485.4 552 L1054.2 552 L1058.2 541.5 L1052.2 529.4 L1046.1 519.3 L1038.1 513.2 L1025.9 509.2 L1015.8 505.1 L1003.7 507.2 L993.6 515.2 L997.7 521.3 L1005.8 533.4 L997.7 537.4 L981.5 535.4 L975.5 529.4 L965.4 525.3 L949.2 519.3 L939.1 517.3 L929.1 509.2 L921 501.1 L908.9 489 L898.8 480.9 L890.7 485 L884.6 480.9 L874.6 470.8 L876.6 460.7 L874.6 448.6 L854.4 426.4 L834.2 408.3 L797.9 403.2 L797.9 403Z"/>
<line x1="804.3" y1="151.2" x2="804.3" y2="544.8" stroke="#000" stroke-width="1.3"/>
<g fill="#d2b48c" stroke="#000" stroke-width="1.8" stroke-linejoin="round">
<path d="M797.9 214.8 L810.3 212.8 L820.7 211.8 L831.3 211.8 L841.4 210.9 L846.9 211 L851.4 212.3 L854 216.6 L853 220.5 L846.2 230.2 L841.1 236.9 L837.8 250.5 L834.4 264 L829.3 275.9 L824.2 284.3 L820.8 294.5 L819.1 304.6 L817.4 318.2 L814.1 328.3 L809 338.5 L805.6 341.9 L820.8 344.4 L837.8 342.2 L854.7 340.5 L871.6 339.3 L888.5 341 L905.5 343.6 L914.4 348 L922.4 352.6 L930.9 361 L934.1 364.1 L929.6 368.6 L930.9 376.2 L929.6 383.8 L927.1 391.4 L925.8 400.3 L925.2 405 L929.1 377.5 L926.6 402.6 L923.5 420.1 L921 435.1 L919.5 447.6 L921.5 457.6 L927.8 466.4 L936.6 475.2 L946.6 483.9 L956.6 491.4 L966.6 498.9 L976.6 502.2 L989.1 500.2 L1001.6 492.7 L1011.7 488.2 L1024.2 487.2 L1036.7 488.9 L1046.7 492.7 L1056.7 500.2 L1066.7 507.7 L1073 515.2 L1074.2 521.5 L1072.1 510.2 L1078.3 506.6 L1089 499.5 L1097.9 490.6 L1101.4 481.8 L1103.2 467.5 L1110.3 458.7 L1117.4 453.3 L1124.6 453.3 L1128.1 458.7 L1131.7 448 L1142.3 447.1 L1153 444.4 L1163.7 440 L1174.3 432 L1181.4 426.7 L1190.3 422.2 L1197.4 423.1 L1201 430.2 L1195.7 435.5 L1185 440.9 L1183.2 446.2 L1186.8 453.3 L1190.3 456.9 L1192.1 455.1 L1202.8 451.5 L1218.8 446.2 L1224.1 442.7 L1220.5 435.5 L1222.3 429.3 L1227.6 428.4 L1231.2 435.5 L1233 442.7 L1245.4 444.4 L1256.1 448 L1263.2 455.1 L1266.7 464 L1273.8 465.8 L1279.9 464.9 L1297.6 462.7 L1312.7 462.7 L1317.7 467.7 L1327.7 472.2 L1337.7 474.4 L1347.7 471.4 L1352.7 466.4 L1365.2 463.9 L1377.7 462.7 L1385.3 462.7 L1387.8 465.2 L1392.8 470.2 L1397.8 476.4 L1407.8 480.2 L1417.8 485.2 L1425.3 492.7 L1427.8 502.7 L1435.3 510.2 L1450.3 514 L1460.4 517.7 L1470.4 525.2 L1477.9 535.2 L1482.9 542.8 L1485.4 552 L1054.2 552 L1058.2 541.5 L1052.2 529.4 L1046.1 519.3 L1038.1 513.2 L1025.9 509.2 L1015.8 505.1 L1003.7 507.2 L993.6 515.2 L997.7 521.3 L1005.8 533.4 L997.7 537.4 L981.5 535.4 L975.5 529.4 L965.4 525.3 L949.2 519.3 L939.1 517.3 L929.1 509.2 L921 501.1 L908.9 489 L898.8 480.9 L890.7 485 L884.6 480.9 L874.6 470.8 L876.6 460.7 L874.6 448.6 L854.4 426.4 L834.2 408.3 L797.9 403.2 L797.9 403Z"/>
<path d="M893.7 203.1 L897.9 197 L905.1 190.1 L912.7 184 L921.9 180.2 L931.8 177.2 L943.2 174.9 L954.6 172.2 L966 172.6 L973.6 171.8 L983.5 170.3 L996.4 172.6 L999.9 176.9 L1014.4 183.7 L1028.9 189.5 L1043.4 194.3 L1053.1 200.2 L1062.8 207.9 L1072.5 214.7 L1082.1 218.5 L1091.8 221.4 L1100.5 223.4 L1101.4 228 L1111.2 231.1 L1120.8 235 L1128.6 238.9 L1133.9 241.8 L1130.5 244.7 L1116 248.5 L1106.3 249.5 L1096.6 248.5 L1087 249.5 L1077.3 249.5 L1067.6 250.5 L1055 251.4 L1059.9 244.7 L1067.6 237.9 L1067.6 234 L1062.8 231.1 L1048.3 230.1 L1040.5 226.3 L1036.7 219.5 L1034.7 211.8 L1030.9 208.9 L1022.2 210.8 L1009.6 206.9 L999.9 204 L996.4 200 L988.8 198.5 L981.2 198.5 L978.2 195.4 L975.9 197 L969.8 197 L962.9 195.4 L958.4 191.6 L962.9 190.1 L966.8 187.1 L962.2 184.8 L950.8 184 L943.2 184 L937.1 187.1 L932.5 190.1 L928 193.9 L920.3 195.4 L914.3 197 L909.7 201.5 L905.1 202.3 L903.6 205.3Z"/>
<path d="M1149 252.8 L1153.5 250.5 L1161.5 250 L1170.7 251.7 L1179.8 253.4 L1186.6 252.3 L1191.2 250 L1200.3 249.4 L1208.3 250.5 L1216.3 252.8 L1223.2 254.5 L1227.7 255.7 L1231.2 263.1 L1236.9 264.2 L1243.7 264.2 L1246 267.7 L1252.9 271.1 L1258.6 275.7 L1263.1 280.2 L1259.7 284.8 L1257.4 289.4 L1255.1 291.6 L1251.7 287.1 L1242.6 285.9 L1231.2 284.8 L1223.2 283.6 L1214 285.9 L1208.3 287.1 L1202.6 289.4 L1199.2 296.2 L1194.6 301.9 L1192.4 304.8 L1190.1 301.9 L1188.9 296.2 L1184.4 290.5 L1179.8 288.2 L1168.4 288.2 L1157 287.1 L1145.6 289.4 L1139.9 293.3 L1134.1 289.4 L1127.3 284.8 L1126.2 280.8 L1130.7 279.1 L1139.9 280.2 L1149 281.9 L1160.4 282.5 L1168.4 282.5 L1174.1 280.2 L1173 276.8 L1168.4 273.4 L1165 267.7 L1166.1 262 L1159.3 257.4 L1152.4 256.3Z"/>
<path d="M1040.5 286.3 L1042.9 283.9 L1050.1 282.7 L1051.3 282.1 L1056.2 282.7 L1062.2 283.3 L1067.1 283.9 L1073.1 284.5 L1075.5 286.9 L1080.4 288.7 L1084.6 290 L1087 293 L1088.8 296 L1086.4 297.8 L1080.4 297.8 L1077.3 295.4 L1073.1 294.8 L1071.9 296.6 L1068.3 297.2 L1068.3 300.8 L1065.8 300.8 L1064.6 299 L1061 297.8 L1053.8 297.8 L1052.5 295.4 L1048.9 291.2 L1046.5 290 L1041.7 289.3 L1040.2 288.1Z"/>
<path d="M1287.6 283.7 L1300.2 282.4 L1312.7 282.4 L1322.7 284.9 L1323.9 289.9 L1317.7 293.7 L1300.2 296.2 L1290.1 296.2 L1287.6 291.2Z"/>
<path d="M1412.8 458.1 L1427.8 457.1 L1426.6 472.7 L1412.8 475.2 L1411.5 466.4Z"/>
<path d="M935.9 206 L938.9 202.6 L943.9 203 L946.4 207 L945.4 211.5 L940.9 213.8 L936.9 212Z"/>
<path d="M1144.3 224.8 L1146.8 219.8 L1154.3 217.3 L1158.1 213.6 L1159.3 218.6 L1155.6 223.6 L1149.3 225.6Z"/>
<path d="M1152.4 272.5 L1157.4 273.2 L1162.9 275.5 L1162.4 277 L1156.9 276 L1152.4 274.3Z"/>
</g>
<path fill="none" stroke="#000" stroke-width="4.5" stroke-linejoin="round" d="M966 172.6 L973.6 171.8 L983.5 170.3 L996.4 172.6 L999.9 176.9 L1014.4 183.7 L1028.9 189.5 L1043.4 194.3 L1053.1 200.2 L1062.8 207.9 L1072.5 214.7 L1082.1 218.5 L1091.8 221.4 L1100.5 223.4"/>
<path fill="none" stroke="#000" stroke-width="2" stroke-linejoin="round" d="M1016.6 220.8 L1021.9 224.5 L1027.9 228.7 L1034.9 231.5 L1041.9 234 L1048.9 236 L1055.7 238.2"/>
<path fill="#98b7e2" stroke="#000" stroke-width="1.5" d="M1190.3 460.4 L1197.4 471.1 L1202.8 481.8 L1201 492.4 L1192.1 497.8 L1185 492.4 L1179.7 481.8 L1186.8 472.9 L1190.3 464Z"/>
<path fill="#aeb8c8" d="M859 422.6 L869 422.6 L879 430.1 L889 437.6 L896.5 447.6 L894 452.6 L884 450.1 L876.5 442.6 L871.5 435.1 L864 427.6Z"/>
<g fill="none" stroke="#98b7e2" stroke-width="1.5">
<path d="M1290.1 542.8 L1312.7 525.2 L1340.2 527.7 L1347.7 520.2 L1375.2 512.7 L1400.3 505.2 L1422.8 500.2"/>
<path d="M1395.3 480.2 L1397.8 492.7 L1402.8 500.2 L1409 488.9"/>
<path d="M856.5 397.6 L866.5 396.3 L874 390.1"/>
<path d="M1119.2 453.3 L1117.4 471.1 L1119.2 488.9 L1129.9 496 L1138.8 499.5 L1142.3 510.2 L1140.5 524.4 L1138.8 546"/>
</g>
<g fill="none" stroke="#000" stroke-width="1.5" stroke-dasharray="5,3">
<path d="M803.9 296.2 L811.4 293.2 L816.4 291.2"/>
<path d="M803.9 358.8 L811.4 353.8 L818.9 350"/>
<path d="M803.9 380.1 L816.4 386.3 L828.9 388.8 L832.7 391.3 L833.9 400.1"/>
<path d="M836.4 406.3 L849 400.1 L854 392.6 L869 387.6 L879 377.5 L891.5 368.8 L904 368.8 L919 366.3 L932.8 362.5"/>
<path d="M876.5 450.1 L886.5 452.1 L899 455.1 L914 458.1 L921.5 457.1"/>
<path d="M940.3 486.4 L939.1 500.2 L941.1 512.7"/>
<path d="M1061.7 512.7 L1066.7 516.5 L1064.2 525.2 L1054.2 530.2"/>
<path d="M1455.3 515.2 L1445.3 521.5 L1435.3 532.7 L1439.1 542.8"/>
<path d="M1187.8 252.8 L1186.6 262 L1188.9 267.7 L1186.6 273.4 L1187.8 277.9 L1182.1 280.2 L1185.5 284.8 L1188.9 288.2"/>
<path d="M1181.4 440.9 L1174.3 451.5 L1167.2 458.7 L1161.9 471.1 L1156.5 485.3 L1153 492.4 L1158.3 494.2 L1165.4 499.5 L1170.8 506.6 L1172.5 517.3 L1172.5 531.5 L1177.9 540.4 L1181.4 546"/>
</g>
<ellipse cx="1411.4" cy="336.5" rx="3" ry="4.5" transform="rotate(0 1411.4 336.5)" fill="#98b7e2" stroke="#98b7e2" stroke-width="4"/>
<ellipse cx="1419.9" cy="333.0" rx="4" ry="2.5" transform="rotate(-20 1419.9 333.0)" fill="#98b7e2" stroke="#98b7e2" stroke-width="4"/>
<ellipse cx="1418.4" cy="354.0" rx="2.2" ry="4" transform="rotate(0 1418.4 354.0)" fill="#98b7e2" stroke="#98b7e2" stroke-width="4"/>
<ellipse cx="1425.9" cy="371.5" rx="3" ry="5.5" transform="rotate(-20 1425.9 371.5)" fill="#98b7e2" stroke="#98b7e2" stroke-width="4"/>
<ellipse cx="1426.9" cy="388.0" rx="2.2" ry="4.5" transform="rotate(0 1426.9 388.0)" fill="#98b7e2" stroke="#98b7e2" stroke-width="4"/>
<ellipse cx="1421.7" cy="403.5" rx="2" ry="3.5" transform="rotate(0 1421.7 403.5)" fill="#98b7e2" stroke="#98b7e2" stroke-width="4"/>
<ellipse cx="1409.9" cy="430.0" rx="2" ry="3" transform="rotate(30 1409.9 430.0)" fill="#98b7e2" stroke="#98b7e2" stroke-width="4"/>
<ellipse cx="1458.9" cy="405.0" rx="2.2" ry="3.2" transform="rotate(0 1458.9 405.0)" fill="#98b7e2" stroke="#98b7e2" stroke-width="4"/>
<ellipse cx="1433.9" cy="448.5" rx="4" ry="1.6" transform="rotate(-25 1433.9 448.5)" fill="#98b7e2" stroke="#98b7e2" stroke-width="4"/>
<ellipse cx="1357.4" cy="455.5" rx="4.5" ry="2.2" transform="rotate(0 1357.4 455.5)" fill="#98b7e2" stroke="#98b7e2" stroke-width="4"/>
<ellipse cx="1411.4" cy="336.5" rx="3" ry="4.5" transform="rotate(0 1411.4 336.5)" fill="#d2b48c" stroke="#000" stroke-width="2.1"/>
<ellipse cx="1419.9" cy="333.0" rx="4" ry="2.5" transform="rotate(-20 1419.9 333.0)" fill="#d2b48c" stroke="#000" stroke-width="2.1"/>
<ellipse cx="1418.4" cy="354.0" rx="2.2" ry="4" transform="rotate(0 1418.4 354.0)" fill="#d2b48c" stroke="#000" stroke-width="2.1"/>
<ellipse cx="1425.9" cy="371.5" rx="3" ry="5.5" transform="rotate(-20 1425.9 371.5)" fill="#d2b48c" stroke="#000" stroke-width="2.1"/>
<ellipse cx="1426.9" cy="388.0" rx="2.2" ry="4.5" transform="rotate(0 1426.9 388.0)" fill="#d2b48c" stroke="#000" stroke-width="2.1"/>
<ellipse cx="1421.7" cy="403.5" rx="2" ry="3.5" transform="rotate(0 1421.7 403.5)" fill="#d2b48c" stroke="#000" stroke-width="2.1"/>
<ellipse cx="1409.9" cy="430.0" rx="2" ry="3" transform="rotate(30 1409.9 430.0)" fill="#d2b48c" stroke="#000" stroke-width="2.1"/>
<ellipse cx="1458.9" cy="405.0" rx="2.2" ry="3.2" transform="rotate(0 1458.9 405.0)" fill="#d2b48c" stroke="#000" stroke-width="2.1"/>
<ellipse cx="1433.9" cy="448.5" rx="4" ry="1.6" transform="rotate(-25 1433.9 448.5)" fill="#d2b48c" stroke="#000" stroke-width="2.1"/>
<ellipse cx="1357.4" cy="455.5" rx="4.5" ry="2.2" transform="rotate(0 1357.4 455.5)" fill="#d2b48c" stroke="#000" stroke-width="2.1"/>
<g fill="#000">
<ellipse cx="1325.9" cy="290.0" rx="3" ry="1.6" transform="rotate(-20 1325.9 290.0)"/>
<ellipse cx="1333.9" cy="287.0" rx="2.5" ry="1.5" transform="rotate(-20 1333.9 287.0)"/>
<ellipse cx="1340.9" cy="283.0" rx="3" ry="1.5" transform="rotate(-25 1340.9 283.0)"/>
<ellipse cx="1346.9" cy="281.0" rx="3" ry="1.5" transform="rotate(-30 1346.9 281.0)"/>
<ellipse cx="1351.9" cy="278.7" rx="2" ry="1.5" transform="rotate(0 1351.9 278.7)"/>
<ellipse cx="1376.9" cy="288.0" rx="2" ry="1.5" transform="rotate(30 1376.9 288.0)"/>
<ellipse cx="1380.9" cy="292.0" rx="2" ry="2" transform="rotate(0 1380.9 292.0)"/>
<ellipse cx="1383.9" cy="296.0" rx="1.5" ry="1.5" transform="rotate(0 1383.9 296.0)"/>
<ellipse cx="1406.5" cy="301.5" rx="1.6" ry="2.2" transform="rotate(0 1406.5 301.5)"/>
<ellipse cx="1408.4" cy="314.0" rx="2" ry="2.5" transform="rotate(0 1408.4 314.0)"/>
<ellipse cx="1390.9" cy="307.0" rx="1.2" ry="1.2" transform="rotate(0 1390.9 307.0)"/>
<ellipse cx="1393.9" cy="311.0" rx="1.2" ry="1.2" transform="rotate(0 1393.9 311.0)"/>
<ellipse cx="1396.9" cy="315.0" rx="1.2" ry="1.2" transform="rotate(0 1396.9 315.0)"/>
<ellipse cx="1398.9" cy="319.0" rx="1.2" ry="1.2" transform="rotate(0 1398.9 319.0)"/>
<ellipse cx="1419.4" cy="412.0" rx="1.2" ry="2.2" transform="rotate(20 1419.4 412.0)"/>
<ellipse cx="1417.4" cy="417.0" rx="1.2" ry="2.2" transform="rotate(25 1417.4 417.0)"/>
<ellipse cx="1414.9" cy="421.0" rx="1.1" ry="2" transform="rotate(30 1414.9 421.0)"/>
<ellipse cx="1226.4" cy="419.5" rx="1.5" ry="2.8" transform="rotate(-40 1226.4 419.5)"/>
<ellipse cx="1245.9" cy="424.5" rx="3" ry="1.6" transform="rotate(30 1245.9 424.5)"/>
<ellipse cx="1249.9" cy="427.0" rx="2" ry="1.5" transform="rotate(30 1249.9 427.0)"/>
<ellipse cx="1262.6" cy="427.5" rx="1.5" ry="2.6" transform="rotate(10 1262.6 427.5)"/>
<ellipse cx="1277.9" cy="431.5" rx="1" ry="1" transform="rotate(0 1277.9 431.5)"/>
<ellipse cx="1279.9" cy="432.0" rx="1" ry="1" transform="rotate(0 1279.9 432.0)"/>
<ellipse cx="1297.9" cy="434.6" rx="2.5" ry="1.8" transform="rotate(0 1297.9 434.6)"/>
<ellipse cx="1312.4" cy="435.0" rx="1.2" ry="1.2" transform="rotate(0 1312.4 435.0)"/>
<ellipse cx="1346.5" cy="434.8" rx="1.4" ry="1.4" transform="rotate(0 1346.5 434.8)"/>
<ellipse cx="1329.9" cy="455.5" rx="2.6" ry="1.3" transform="rotate(0 1329.9 455.5)"/>
<ellipse cx="1004.9" cy="254.5" rx="3" ry="1" transform="rotate(-10 1004.9 254.5)"/>
<ellipse cx="1009.9" cy="253.6" rx="1.4" ry="1" transform="rotate(0 1009.9 253.6)"/>
<ellipse cx="975.9" cy="263.8" rx="3.5" ry="1.6" transform="rotate(0 975.9 263.8)"/>
<ellipse cx="980.9" cy="263.5" rx="2" ry="1.3" transform="rotate(0 980.9 263.5)"/>
<ellipse cx="916.5" cy="308.7" rx="1" ry="1" transform="rotate(0 916.5 308.7)"/>
<ellipse cx="856.9" cy="332.8" rx="2.5" ry="1.2" transform="rotate(-15 856.9 332.8)"/>
<ellipse cx="862.9" cy="331.3" rx="3.5" ry="1.4" transform="rotate(-10 862.9 331.3)"/>
<ellipse cx="869.9" cy="330.3" rx="3" ry="1.4" transform="rotate(-10 869.9 330.3)"/>
<ellipse cx="874.9" cy="329.6" rx="1.5" ry="1.5" transform="rotate(0 874.9 329.6)"/>
<ellipse cx="1054.4" cy="154.0" rx="1.5" ry="3" transform="rotate(15 1054.4 154.0)"/>
<ellipse cx="1094.4" cy="178.0" rx="1" ry="4" transform="rotate(5 1094.4 178.0)"/>
<ellipse cx="1095.9" cy="189.0" rx="1" ry="4" transform="rotate(0 1095.9 189.0)"/>
<ellipse cx="1099.9" cy="171.0" rx="1" ry="1.5" transform="rotate(0 1099.9 171.0)"/>
<ellipse cx="1114.9" cy="176.0" rx="2" ry="1" transform="rotate(0 1114.9 176.0)"/>
<ellipse cx="1117.9" cy="182.0" rx="1.5" ry="1" transform="rotate(0 1117.9 182.0)"/>
<ellipse cx="1131.9" cy="182.0" rx="3" ry="1.5" transform="rotate(-30 1131.9 182.0)"/>
<ellipse cx="1135.9" cy="186.0" rx="2" ry="2" transform="rotate(0 1135.9 186.0)"/>
<ellipse cx="1139.9" cy="183.0" rx="2" ry="1" transform="rotate(0 1139.9 183.0)"/>
<ellipse cx="1151.9" cy="178.0" rx="1.5" ry="1" transform="rotate(0 1151.9 178.0)"/>
<ellipse cx="1156.9" cy="190.0" rx="3.5" ry="1.3" transform="rotate(10 1156.9 190.0)"/>
<ellipse cx="1163.9" cy="192.0" rx="2" ry="1.2" transform="rotate(10 1163.9 192.0)"/>
<ellipse cx="1167.9" cy="203.0" rx="2.5" ry="1.3" transform="rotate(-30 1167.9 203.0)"/>
<ellipse cx="1172.9" cy="206.0" rx="1.5" ry="1.5" transform="rotate(0 1172.9 206.0)"/>
<ellipse cx="1185.9" cy="205.0" rx="3" ry="1.5" transform="rotate(20 1185.9 205.0)"/>
<ellipse cx="1191.9" cy="211.0" rx="2.5" ry="1.5" transform="rotate(0 1191.9 211.0)"/>
<ellipse cx="1195.9" cy="214.0" rx="1.5" ry="1.5" transform="rotate(0 1195.9 214.0)"/>
<ellipse cx="1181.9" cy="213.0" rx="1" ry="1" transform="rotate(0 1181.9 213.0)"/>
<ellipse cx="1189.9" cy="220.0" rx="1" ry="1" transform="rotate(0 1189.9 220.0)"/>
<ellipse cx="1193.9" cy="215.0" rx="1.5" ry="1.5" transform="rotate(0 1193.9 215.0)"/>
<ellipse cx="1055.4" cy="155.0" rx="2.2" ry="4" transform="rotate(10 1055.4 155.0)"/>
<ellipse cx="1112.9" cy="156.0" rx="1.5" ry="2.5" transform="rotate(0 1112.9 156.0)"/>
<ellipse cx="1117.9" cy="158.0" rx="2" ry="1.5" transform="rotate(0 1117.9 158.0)"/>
<ellipse cx="1143.4" cy="174.0" rx="2.5" ry="1.2" transform="rotate(0 1143.4 174.0)"/>
<ellipse cx="1055.9" cy="150.5" rx="3" ry="3" transform="rotate(0 1055.9 150.5)"/>
<ellipse cx="1163.9" cy="246.8" rx="4.5" ry="1.5" transform="rotate(5 1163.9 246.8)"/>
<ellipse cx="832.9" cy="255.0" rx="1.3" ry="3" transform="rotate(10 832.9 255.0)"/>
<ellipse cx="834.4" cy="262.0" rx="1.3" ry="2.5" transform="rotate(0 834.4 262.0)"/>
<ellipse cx="826.4" cy="279.0" rx="1.5" ry="2" transform="rotate(0 826.4 279.0)"/>
<ellipse cx="824.4" cy="300.0" rx="1.4" ry="3" transform="rotate(0 824.4 300.0)"/>
<ellipse cx="828.4" cy="307.0" rx="1.8" ry="3.5" transform="rotate(20 828.4 307.0)"/>
<ellipse cx="829.9" cy="314.0" rx="1.4" ry="2.5" transform="rotate(0 829.9 314.0)"/>
<ellipse cx="822.9" cy="320.0" rx="1.2" ry="2" transform="rotate(0 822.9 320.0)"/>
<ellipse cx="839.9" cy="247.0" rx="1" ry="1.5" transform="rotate(0 839.9 247.0)"/>
<ellipse cx="850.2" cy="237.5" rx="1.8" ry="3.2" transform="rotate(30 850.2 237.5)"/>
</g>
<g fill="none" stroke="#000" stroke-width="1.6">
<path d="M1090.9 178 L1094.4 196"/>
<path d="M1105.9 163 L1111.9 175 L1113.9 180"/>
<path d="M1121.9 171 L1126.9 180 L1124.9 185 L1129.9 190"/>
<path d="M1170.9 203 L1176.9 202 L1182.9 205 L1187.9 210 L1192.9 215"/>
<path d="M1181.9 218 L1186.9 216"/>
</g>
<g fill="none" stroke="#fff" stroke-width="4" stroke-linecap="butt">
<path d="M1298.6 212.4 L1301.9 207 L1304.9 203"/>
<path d="M1344.7 316.1 L1341.9 309 L1340.9 305"/>
<path d="M1322.9 311.1 L1325.9 318"/>
<path d="M1290.7 249.1 L1288.9 240 L1287.9 236"/>
<path d="M1437.4 437.7 L1441.9 432 L1452.4 421"/>
<path d="M843.3 288.8 L846.9 281 L849.9 277 L853.9 274"/>
<path d="M880.7 271.4 L889.9 264 L900.9 257.5"/>
<path d="M1260.7 318.6 L1257.9 309 L1256.9 305"/>
<path d="M1241.6 318.6 L1242.9 306 L1244.9 296"/>
<path d="M1288.2 328.5 L1290.9 323"/>
</g>
<circle cx="1422.6" cy="223.1" r="6.00" fill="#1f77b4" stroke="#000" stroke-width="1.5"/>
<path d="M1369.3 192.1 L1374.5 195.1 L1374.5 201.1 L1369.3 204.1 L1364.1 201.1 L1364.1 195.1Z" fill="#3a8cc8" stroke="#000" stroke-width="1.5" stroke-linejoin="miter"/>
<path d="M1020.4 449.1 L1026.4 453.5 L1024.1 460.5 L1016.7 460.5 L1014.4 453.5Z" fill="#5ba3d9" stroke="#000" stroke-width="1.5" stroke-linejoin="miter"/>
<circle cx="1107.2" cy="353.2" r="6.00" fill="#8ec5ec" stroke="#000" stroke-width="1.5"/>
<path d="M1108 169.2 L1113.2 172.2 L1113.2 178.2 L1108 181.2 L1102.8 178.2 L1102.8 172.2Z" fill="#c5e3fa" stroke="#000" stroke-width="1.5" stroke-linejoin="miter"/>
<path d="M1257.7 210 L1263.7 214.4 L1261.4 221.4 L1254 221.4 L1251.7 214.4Z" fill="#ff7f0e" stroke="#000" stroke-width="1.5" stroke-linejoin="miter"/>
<circle cx="1411.9" cy="224.3" r="6.00" fill="#ff9a3c" stroke="#000" stroke-width="1.5"/>
<path d="M871.3 491.5 L876.5 494.5 L876.5 500.5 L871.3 503.5 L866.1 500.5 L866.1 494.5Z" fill="#ffaa5e" stroke="#000" stroke-width="1.5" stroke-linejoin="miter"/>
<path d="M1339.5 254.6 L1345.5 259 L1343.2 266 L1335.8 266 L1333.5 259Z" fill="#ffc48a" stroke="#000" stroke-width="1.5" stroke-linejoin="miter"/>
<circle cx="857.8" cy="493.2" r="6.00" fill="#ffdcbf" stroke="#000" stroke-width="1.5"/>
<path d="M1350.2 179.2 L1355.4 182.2 L1355.4 188.2 L1350.2 191.2 L1345 188.2 L1345 182.2Z" fill="#2ca02c" stroke="#000" stroke-width="1.5" stroke-linejoin="miter"/>
<path d="M1316.7 215.7 L1322.7 220.1 L1320.4 227.1 L1313 227.1 L1310.7 220.1Z" fill="#44b444" stroke="#000" stroke-width="1.5" stroke-linejoin="miter"/>
<circle cx="1332.1" cy="228.1" r="6.00" fill="#66c866" stroke="#000" stroke-width="1.5"/>
<path d="M882.2 182.4 L887.4 185.4 L887.4 191.4 L882.2 194.4 L877 191.4 L877 185.4Z" fill="#8fe08f" stroke="#000" stroke-width="1.5" stroke-linejoin="miter"/>
<path d="M965.5 262.5 L971.5 266.9 L969.2 273.9 L961.8 273.9 L959.5 266.9Z" fill="#c0f5c0" stroke="#000" stroke-width="1.5" stroke-linejoin="miter"/>
<circle cx="869.3" cy="239.9" r="6.00" fill="#d62728" stroke="#000" stroke-width="1.5"/>
<path d="M1013.1 257.5 L1018.3 260.5 L1018.3 266.5 L1013.1 269.5 L1007.9 266.5 L1007.9 260.5Z" fill="#e04848" stroke="#000" stroke-width="1.5" stroke-linejoin="miter"/>
<path d="M1304.8 315.8 L1310.8 320.2 L1308.5 327.2 L1301.1 327.2 L1298.8 320.2Z" fill="#e86a6e" stroke="#000" stroke-width="1.5" stroke-linejoin="miter"/>
<circle cx="1330.3" cy="342.1" r="6.00" fill="#f09a9c" stroke="#000" stroke-width="1.5"/>
<path d="M1307.3 227 L1312.5 230 L1312.5 236 L1307.3 239 L1302.1 236 L1302.1 230Z" fill="#fdc0c4" stroke="#000" stroke-width="1.5" stroke-linejoin="miter"/>
<path d="M1285.7 301 L1291.7 305.4 L1289.4 312.4 L1282 312.4 L1279.7 305.4Z" fill="#9467bd" stroke="#000" stroke-width="1.5" stroke-linejoin="miter"/>
<path d="M1298.6 205 L1291.1 220 L1306.1 220Z" fill="#1f77b4" stroke="#000" stroke-width="1.5" stroke-linejoin="miter"/>
<path d="M1337 241.2 L1329.5 256.2 L1344.5 256.2Z" fill="#ff7f0e" stroke="#000" stroke-width="1.5" stroke-linejoin="miter"/>
<path d="M1344.7 308.7 L1337.2 323.7 L1352.2 323.7Z" fill="#2ca02c" stroke="#000" stroke-width="1.5" stroke-linejoin="miter"/>
<path d="M1322.9 303.7 L1315.4 318.7 L1330.4 318.7Z" fill="#d62728" stroke="#000" stroke-width="1.5" stroke-linejoin="miter"/>
<path d="M1290.7 241.7 L1283.2 256.7 L1298.2 256.7Z" fill="#9467bd" stroke="#000" stroke-width="1.5" stroke-linejoin="miter"/>
<path d="M1437.4 430.3 L1429.9 445.3 L1444.9 445.3Z" fill="#8c564b" stroke="#000" stroke-width="1.5" stroke-linejoin="miter"/>
<path d="M843.3 281.4 L835.8 296.4 L850.8 296.4Z" fill="#e377c2" stroke="#000" stroke-width="1.5" stroke-linejoin="miter"/>
<path d="M880.7 264 L873.2 279 L888.2 279Z" fill="#7f7f7f" stroke="#000" stroke-width="1.5" stroke-linejoin="miter"/>
<path d="M1260.7 311.2 L1253.2 326.2 L1268.2 326.2Z" fill="#bcbd22" stroke="#000" stroke-width="1.5" stroke-linejoin="miter"/>
<path d="M1241.6 311.2 L1234.1 326.2 L1249.1 326.2Z" fill="#17becf" stroke="#000" stroke-width="1.5" stroke-linejoin="miter"/>
<path d="M1288.2 321.1 L1280.7 336.1 L1295.7 336.1Z" fill="#1f77b4" stroke="#000" stroke-width="1.5" stroke-linejoin="miter"/>
</g>
<path fill="none" stroke="#000" stroke-width="1.3" d="M803.6 151.2L1493.1 151.2L1493.1 544.8L803.6 544.8"/>
<g stroke="#000"><line x1="804.3" y1="151.2" x2="804.3" y2="147.2" stroke-width="1.4"/><line x1="804.3" y1="544.8" x2="804.3" y2="548.8" stroke-width="1.4"/><line x1="826.5" y1="151.2" x2="826.5" y2="147.2" stroke-width="1.4"/><line x1="826.5" y1="544.8" x2="826.5" y2="548.8" stroke-width="1.4"/><line x1="848.7" y1="151.2" x2="848.7" y2="147.2" stroke-width="1.4"/><line x1="848.7" y1="544.8" x2="848.7" y2="548.8" stroke-width="1.4"/><line x1="871.0" y1="151.2" x2="871.0" y2="147.2" stroke-width="1.4"/><line x1="871.0" y1="544.8" x2="871.0" y2="548.8" stroke-width="1.4"/><line x1="893.2" y1="151.2" x2="893.2" y2="142.7" stroke-width="2.6"/><line x1="893.2" y1="544.8" x2="893.2" y2="553.3" stroke-width="2.6"/><line x1="915.4" y1="151.2" x2="915.4" y2="147.2" stroke-width="1.4"/><line x1="915.4" y1="544.8" x2="915.4" y2="548.8" stroke-width="1.4"/><line x1="937.6" y1="151.2" x2="937.6" y2="147.2" stroke-width="1.4"/><line x1="937.6" y1="544.8" x2="937.6" y2="548.8" stroke-width="1.4"/><line x1="959.8" y1="151.2" x2="959.8" y2="147.2" stroke-width="1.4"/><line x1="959.8" y1="544.8" x2="959.8" y2="548.8" stroke-width="1.4"/><line x1="982.1" y1="151.2" x2="982.1" y2="147.2" stroke-width="1.4"/><line x1="982.1" y1="544.8" x2="982.1" y2="548.8" stroke-width="1.4"/><line x1="1004.3" y1="151.2" x2="1004.3" y2="142.7" stroke-width="2.6"/><line x1="1004.3" y1="544.8" x2="1004.3" y2="553.3" stroke-width="2.6"/><line x1="1026.5" y1="151.2" x2="1026.5" y2="147.2" stroke-width="1.4"/><line x1="1026.5" y1="544.8" x2="1026.5" y2="548.8" stroke-width="1.4"/><line x1="1048.7" y1="151.2" x2="1048.7" y2="147.2" stroke-width="1.4"/><line x1="1048.7" y1="544.8" x2="1048.7" y2="548.8" stroke-width="1.4"/><line x1="1070.9" y1="151.2" x2="1070.9" y2="147.2" stroke-width="1.4"/><line x1="1070.9" y1="544.8" x2="1070.9" y2="548.8" stroke-width="1.4"/><line x1="1093.2" y1="151.2" x2="1093.2" y2="147.2" stroke-width="1.4"/><line x1="1093.2" y1="544.8" x2="1093.2" y2="548.8" stroke-width="1.4"/><line x1="1115.4" y1="151.2" x2="1115.4" y2="142.7" stroke-width="2.6"/><line x1="1115.4" y1="544.8" x2="1115.4" y2="553.3" stroke-width="2.6"/><line x1="1137.6" y1="151.2" x2="1137.6" y2="147.2" stroke-width="1.4"/><line x1="1137.6" y1="544.8" x2="1137.6" y2="548.8" stroke-width="1.4"/><line x1="1159.8" y1="151.2" x2="1159.8" y2="147.2" stroke-width="1.4"/><line x1="1159.8" y1="544.8" x2="1159.8" y2="548.8" stroke-width="1.4"/><line x1="1182.0" y1="151.2" x2="1182.0" y2="147.2" stroke-width="1.4"/><line x1="1182.0" y1="544.8" x2="1182.0" y2="548.8" stroke-width="1.4"/><line x1="1204.2" y1="151.2" x2="1204.2" y2="147.2" stroke-width="1.4"/><line x1="1204.2" y1="544.8" x2="1204.2" y2="548.8" stroke-width="1.4"/><line x1="1226.5" y1="151.2" x2="1226.5" y2="142.7" stroke-width="2.6"/><line x1="1226.5" y1="544.8" x2="1226.5" y2="553.3" stroke-width="2.6"/><line x1="1248.7" y1="151.2" x2="1248.7" y2="147.2" stroke-width="1.4"/><line x1="1248.7" y1="544.8" x2="1248.7" y2="548.8" stroke-width="1.4"/><line x1="1270.9" y1="151.2" x2="1270.9" y2="147.2" stroke-width="1.4"/><line x1="1270.9" y1="544.8" x2="1270.9" y2="548.8" stroke-width="1.4"/><line x1="1293.1" y1="151.2" x2="1293.1" y2="147.2" stroke-width="1.4"/><line x1="1293.1" y1="544.8" x2="1293.1" y2="548.8" stroke-width="1.4"/><line x1="1315.3" y1="151.2" x2="1315.3" y2="147.2" stroke-width="1.4"/><line x1="1315.3" y1="544.8" x2="1315.3" y2="548.8" stroke-width="1.4"/><line x1="1337.6" y1="151.2" x2="1337.6" y2="142.7" stroke-width="2.6"/><line x1="1337.6" y1="544.8" x2="1337.6" y2="553.3" stroke-width="2.6"/><line x1="1359.8" y1="151.2" x2="1359.8" y2="147.2" stroke-width="1.4"/><line x1="1359.8" y1="544.8" x2="1359.8" y2="548.8" stroke-width="1.4"/><line x1="1382.0" y1="151.2" x2="1382.0" y2="147.2" stroke-width="1.4"/><line x1="1382.0" y1="544.8" x2="1382.0" y2="548.8" stroke-width="1.4"/><line x1="1404.2" y1="151.2" x2="1404.2" y2="147.2" stroke-width="1.4"/><line x1="1404.2" y1="544.8" x2="1404.2" y2="548.8" stroke-width="1.4"/><line x1="1426.4" y1="151.2" x2="1426.4" y2="147.2" stroke-width="1.4"/><line x1="1426.4" y1="544.8" x2="1426.4" y2="548.8" stroke-width="1.4"/><line x1="1448.7" y1="151.2" x2="1448.7" y2="142.7" stroke-width="2.6"/><line x1="1448.7" y1="544.8" x2="1448.7" y2="553.3" stroke-width="2.6"/><line x1="1470.9" y1="151.2" x2="1470.9" y2="147.2" stroke-width="1.4"/><line x1="1470.9" y1="544.8" x2="1470.9" y2="548.8" stroke-width="1.4"/><line x1="1493.1" y1="151.2" x2="1493.1" y2="147.2" stroke-width="1.4"/><line x1="1493.1" y1="544.8" x2="1493.1" y2="548.8" stroke-width="1.4"/><line x1="804.3" y1="544.2" x2="800.3" y2="544.2" stroke-width="1.4"/><line x1="1493.1" y1="544.2" x2="1497.1" y2="544.2" stroke-width="1.4"/><line x1="804.3" y1="521.9" x2="800.3" y2="521.9" stroke-width="1.4"/><line x1="1493.1" y1="521.9" x2="1497.1" y2="521.9" stroke-width="1.4"/><line x1="804.3" y1="499.6" x2="800.3" y2="499.6" stroke-width="1.4"/><line x1="1493.1" y1="499.6" x2="1497.1" y2="499.6" stroke-width="1.4"/><line x1="804.3" y1="477.2" x2="795.8" y2="477.2" stroke-width="2.6"/><line x1="1493.1" y1="477.2" x2="1501.6" y2="477.2" stroke-width="2.6"/><line x1="804.3" y1="454.8" x2="800.3" y2="454.8" stroke-width="1.4"/><line x1="1493.1" y1="454.8" x2="1497.1" y2="454.8" stroke-width="1.4"/><line x1="804.3" y1="432.3" x2="800.3" y2="432.3" stroke-width="1.4"/><line x1="1493.1" y1="432.3" x2="1497.1" y2="432.3" stroke-width="1.4"/><line x1="804.3" y1="409.6" x2="800.3" y2="409.6" stroke-width="1.4"/><line x1="1493.1" y1="409.6" x2="1497.1" y2="409.6" stroke-width="1.4"/><line x1="804.3" y1="386.9" x2="800.3" y2="386.9" stroke-width="1.4"/><line x1="1493.1" y1="386.9" x2="1497.1" y2="386.9" stroke-width="1.4"/><line x1="804.3" y1="364.1" x2="795.8" y2="364.1" stroke-width="2.6"/><line x1="1493.1" y1="364.1" x2="1501.6" y2="364.1" stroke-width="2.6"/><line x1="804.3" y1="341.2" x2="800.3" y2="341.2" stroke-width="1.4"/><line x1="1493.1" y1="341.2" x2="1497.1" y2="341.2" stroke-width="1.4"/><line x1="804.3" y1="318.2" x2="800.3" y2="318.2" stroke-width="1.4"/><line x1="1493.1" y1="318.2" x2="1497.1" y2="318.2" stroke-width="1.4"/><line x1="804.3" y1="295.0" x2="800.3" y2="295.0" stroke-width="1.4"/><line x1="1493.1" y1="295.0" x2="1497.1" y2="295.0" stroke-width="1.4"/><line x1="804.3" y1="271.7" x2="800.3" y2="271.7" stroke-width="1.4"/><line x1="1493.1" y1="271.7" x2="1497.1" y2="271.7" stroke-width="1.4"/><line x1="804.3" y1="248.3" x2="795.8" y2="248.3" stroke-width="2.6"/><line x1="1493.1" y1="248.3" x2="1501.6" y2="248.3" stroke-width="2.6"/><line x1="804.3" y1="224.7" x2="800.3" y2="224.7" stroke-width="1.4"/><line x1="1493.1" y1="224.7" x2="1497.1" y2="224.7" stroke-width="1.4"/><line x1="804.3" y1="201.0" x2="800.3" y2="201.0" stroke-width="1.4"/><line x1="1493.1" y1="201.0" x2="1497.1" y2="201.0" stroke-width="1.4"/><line x1="804.3" y1="177.1" x2="800.3" y2="177.1" stroke-width="1.4"/><line x1="1493.1" y1="177.1" x2="1497.1" y2="177.1" stroke-width="1.4"/></g>
<g font-size="22.22"><text x="892.7" y="576.5" text-anchor="middle">85°W</text><text x="1003.8" y="576.5" text-anchor="middle">80°W</text><text x="1114.9" y="576.5" text-anchor="middle">75°W</text><text x="1226.0" y="576.5" text-anchor="middle">70°W</text><text x="1337.1" y="576.5" text-anchor="middle">65°W</text><text x="1448.2" y="576.5" text-anchor="middle">60°W</text><text x="1507.4" y="486.1">10°N</text><text x="1507.4" y="373.0">15°N</text><text x="1507.4" y="257.2">20°N</text></g>
<path fill="#2a186c" d="M180.7 604.4 L118.6 612.8 L180.7 621.2Z"/>
<path fill="#fde994" d="M1397.1 604.4 L1457.6 612.8 L1397.1 621.2Z"/>
<rect x="180.20" y="604.4" width="87.36" height="16.8" fill="#2b1c7a"/>
<rect x="267.16" y="604.4" width="87.36" height="16.8" fill="#2b28a0"/>
<rect x="354.11" y="604.4" width="87.36" height="16.8" fill="#15469a"/>
<rect x="441.07" y="604.4" width="87.36" height="16.8" fill="#0f5690"/>
<rect x="528.03" y="604.4" width="87.36" height="16.8" fill="#1b6889"/>
<rect x="614.99" y="604.4" width="87.36" height="16.8" fill="#297887"/>
<rect x="701.94" y="604.4" width="87.36" height="16.8" fill="#388785"/>
<rect x="788.90" y="604.4" width="87.36" height="16.8" fill="#40967f"/>
<rect x="875.86" y="604.4" width="87.36" height="16.8" fill="#4aa77a"/>
<rect x="962.81" y="604.4" width="87.36" height="16.8" fill="#5cb571"/>
<rect x="1049.77" y="604.4" width="87.36" height="16.8" fill="#6ec268"/>
<rect x="1136.73" y="604.4" width="87.36" height="16.8" fill="#88cc61"/>
<rect x="1223.69" y="604.4" width="87.36" height="16.8" fill="#abd75d"/>
<rect x="1310.64" y="604.4" width="87.36" height="16.8" fill="#d1df72"/>
<path fill="none" stroke="#000" stroke-width="1" d="M180.2 604.4 L1397.6 604.4 L1457.6 612.8 L1397.6 621.2 L180.2 621.2 L118.6 612.8Z"/>
<line x1="180.2" y1="621.2" x2="180.2" y2="627.4" stroke="#000" stroke-width="1"/>
<text x="180.2" y="648.6" text-anchor="middle" font-size="20.9">35.6</text>
<line x1="354.1" y1="621.2" x2="354.1" y2="627.4" stroke="#000" stroke-width="1"/>
<text x="354.1" y="648.6" text-anchor="middle" font-size="20.9">35.8</text>
<line x1="528.0" y1="621.2" x2="528.0" y2="627.4" stroke="#000" stroke-width="1"/>
<text x="528.0" y="648.6" text-anchor="middle" font-size="20.9">36.0</text>
<line x1="701.9" y1="621.2" x2="701.9" y2="627.4" stroke="#000" stroke-width="1"/>
<text x="701.9" y="648.6" text-anchor="middle" font-size="20.9">36.2</text>
<line x1="875.9" y1="621.2" x2="875.9" y2="627.4" stroke="#000" stroke-width="1"/>
<text x="875.9" y="648.6" text-anchor="middle" font-size="20.9">36.4</text>
<line x1="1049.8" y1="621.2" x2="1049.8" y2="627.4" stroke="#000" stroke-width="1"/>
<text x="1049.8" y="648.6" text-anchor="middle" font-size="20.9">36.6</text>
<line x1="1223.7" y1="621.2" x2="1223.7" y2="627.4" stroke="#000" stroke-width="1"/>
<text x="1223.7" y="648.6" text-anchor="middle" font-size="20.9">36.8</text>
<line x1="1397.6" y1="621.2" x2="1397.6" y2="627.4" stroke="#000" stroke-width="1"/>
<text x="1397.6" y="648.6" text-anchor="middle" font-size="20.9">37.0</text>
<text x="788.5" y="675.9" text-anchor="middle" font-size="21.2" font-weight="bold">Salinity (psu)</text>
<text x="788.7" y="701.8" text-anchor="middle" font-size="15.67" font-weight="bold" font-style="italic">Glider/Argo Search Window: 2025-09-19 18:00:00 to 2025-09-24 18:00:00</text>
<rect x="300.3" y="720.3" width="975.5" height="86.5" rx="2.5" fill="#fff" stroke="#cccccc" stroke-width="1.2"/>
<circle cx="320.4" cy="731.0" r="6.00" fill="#1f77b4" stroke="#000" stroke-width="1.5"/>
<text x="345.4" y="736.0" font-size="13.89">1902313</text>
<path d="M320.4 746.2 L325.6 749.2 L325.6 755.2 L320.4 758.2 L315.2 755.2 L315.2 749.2Z" fill="#3a8cc8" stroke="#000" stroke-width="1.5" stroke-linejoin="miter"/>
<text x="345.4" y="757.2" font-size="13.89">1902364</text>
<path d="M320.4 767.5 L326.4 771.9 L324.1 778.9 L316.7 778.9 L314.4 771.9Z" fill="#5ba3d9" stroke="#000" stroke-width="1.5" stroke-linejoin="miter"/>
<text x="345.4" y="778.2" font-size="13.89">1902521</text>
<circle cx="320.4" cy="794.1" r="6.00" fill="#8ec5ec" stroke="#000" stroke-width="1.5"/>
<text x="345.4" y="799.1" font-size="13.89">1902522</text>
<path d="M449.1 725 L454.3 728 L454.3 734 L449.1 737 L443.9 734 L443.9 728Z" fill="#c5e3fa" stroke="#000" stroke-width="1.5" stroke-linejoin="miter"/>
<text x="474.1" y="736.0" font-size="13.89">1902742</text>
<path d="M449.1 746.5 L455.1 750.9 L452.8 757.9 L445.4 757.9 L443.1 750.9Z" fill="#ff7f0e" stroke="#000" stroke-width="1.5" stroke-linejoin="miter"/>
<text x="474.1" y="757.2" font-size="13.89">2904007</text>
<circle cx="449.1" cy="773.2" r="6.00" fill="#ff9a3c" stroke="#000" stroke-width="1.5"/>
<text x="474.1" y="778.2" font-size="13.89">3901686</text>
<path d="M449.1 788.1 L454.3 791.1 L454.3 797.1 L449.1 800.1 L443.9 797.1 L443.9 791.1Z" fill="#ffaa5e" stroke="#000" stroke-width="1.5" stroke-linejoin="miter"/>
<text x="474.1" y="799.1" font-size="13.89">4902476</text>
<path d="M577.6 725.3 L583.6 729.7 L581.3 736.7 L573.9 736.7 L571.6 729.7Z" fill="#ffc48a" stroke="#000" stroke-width="1.5" stroke-linejoin="miter"/>
<text x="602.6" y="736.0" font-size="13.89">4902534</text>
<circle cx="577.6" cy="752.2" r="6.00" fill="#ffdcbf" stroke="#000" stroke-width="1.5"/>
<text x="602.6" y="757.2" font-size="13.89">4903186</text>
<path d="M577.6 767.2 L582.8 770.2 L582.8 776.2 L577.6 779.2 L572.4 776.2 L572.4 770.2Z" fill="#2ca02c" stroke="#000" stroke-width="1.5" stroke-linejoin="miter"/>
<text x="602.6" y="778.2" font-size="13.89">4903244</text>
<path d="M577.6 788.4 L583.6 792.8 L581.3 799.8 L573.9 799.8 L571.6 792.8Z" fill="#44b444" stroke="#000" stroke-width="1.5" stroke-linejoin="miter"/>
<text x="602.6" y="799.1" font-size="13.89">4903276</text>
<circle cx="706.4" cy="731.0" r="6.00" fill="#66c866" stroke="#000" stroke-width="1.5"/>
<text x="731.4" y="736.0" font-size="13.89">4903333</text>
<path d="M706.4 746.2 L711.6 749.2 L711.6 755.2 L706.4 758.2 L701.2 755.2 L701.2 749.2Z" fill="#8fe08f" stroke="#000" stroke-width="1.5" stroke-linejoin="miter"/>
<text x="731.4" y="757.2" font-size="13.89">4903472</text>
<path d="M706.4 767.5 L712.4 771.9 L710.1 778.9 L702.7 778.9 L700.4 771.9Z" fill="#c0f5c0" stroke="#000" stroke-width="1.5" stroke-linejoin="miter"/>
<text x="731.4" y="778.2" font-size="13.89">4903559</text>
<circle cx="706.4" cy="794.1" r="6.00" fill="#d62728" stroke="#000" stroke-width="1.5"/>
<text x="731.4" y="799.1" font-size="13.89">4903562</text>
<path d="M835.1 725 L840.3 728 L840.3 734 L835.1 737 L829.9 734 L829.9 728Z" fill="#e04848" stroke="#000" stroke-width="1.5" stroke-linejoin="miter"/>
<text x="860.1" y="736.0" font-size="13.89">4903563</text>
<path d="M835.1 746.5 L841.1 750.9 L838.8 757.9 L831.4 757.9 L829.1 750.9Z" fill="#e86a6e" stroke="#000" stroke-width="1.5" stroke-linejoin="miter"/>
<text x="860.1" y="757.2" font-size="13.89">4903904</text>
<circle cx="835.1" cy="773.2" r="6.00" fill="#f09a9c" stroke="#000" stroke-width="1.5"/>
<text x="860.1" y="778.2" font-size="13.89">6903111</text>
<path d="M835.1 788.1 L840.3 791.1 L840.3 797.1 L835.1 800.1 L829.9 797.1 L829.9 791.1Z" fill="#fdc0c4" stroke="#000" stroke-width="1.5" stroke-linejoin="miter"/>
<text x="860.1" y="799.1" font-size="13.89">6999986</text>
<path d="M963.8 725.3 L969.8 729.7 L967.5 736.7 L960.1 736.7 L957.8 729.7Z" fill="#9467bd" stroke="#000" stroke-width="1.5" stroke-linejoin="miter"/>
<text x="988.8" y="736.0" font-size="13.89">6999992</text>
<line x1="948.6" y1="752.2" x2="979.0" y2="752.2" stroke="#1f77b4" stroke-width="2.5"/>
<path d="M963.8 744.8 L956.3 759.8 L971.3 759.8Z" fill="#1f77b4" stroke="#000" stroke-width="1.5" stroke-linejoin="miter"/>
<text x="988.8" y="757.2" font-size="13.89">SG678</text>
<line x1="948.6" y1="773.2" x2="979.0" y2="773.2" stroke="#ff7f0e" stroke-width="2.5"/>
<path d="M963.8 765.8 L956.3 780.8 L971.3 780.8Z" fill="#ff7f0e" stroke="#000" stroke-width="1.5" stroke-linejoin="miter"/>
<text x="988.8" y="778.2" font-size="13.89">echo</text>
<line x1="948.6" y1="794.1" x2="979.0" y2="794.1" stroke="#2ca02c" stroke-width="2.5"/>
<path d="M963.8 786.7 L956.3 801.7 L971.3 801.7Z" fill="#2ca02c" stroke="#000" stroke-width="1.5" stroke-linejoin="miter"/>
<text x="988.8" y="799.1" font-size="13.89">ng615</text>
<line x1="1077.4" y1="731.0" x2="1107.8" y2="731.0" stroke="#d62728" stroke-width="2.5"/>
<path d="M1092.6 723.6 L1085.1 738.6 L1100.1 738.6Z" fill="#d62728" stroke="#000" stroke-width="1.5" stroke-linejoin="miter"/>
<text x="1117.6" y="736.0" font-size="13.89">ng665</text>
<line x1="1077.4" y1="752.2" x2="1107.8" y2="752.2" stroke="#9467bd" stroke-width="2.5"/>
<path d="M1092.6 744.8 L1085.1 759.8 L1100.1 759.8Z" fill="#9467bd" stroke="#000" stroke-width="1.5" stroke-linejoin="miter"/>
<text x="1117.6" y="757.2" font-size="13.89">ng783</text>
<line x1="1077.4" y1="773.2" x2="1107.8" y2="773.2" stroke="#8c564b" stroke-width="2.5"/>
<path d="M1092.6 765.8 L1085.1 780.8 L1100.1 780.8Z" fill="#8c564b" stroke="#000" stroke-width="1.5" stroke-linejoin="miter"/>
<text x="1117.6" y="778.2" font-size="13.89">ru29</text>
<line x1="1077.4" y1="794.1" x2="1107.8" y2="794.1" stroke="#e377c2" stroke-width="2.5"/>
<path d="M1092.6 786.7 L1085.1 801.7 L1100.1 801.7Z" fill="#e377c2" stroke="#000" stroke-width="1.5" stroke-linejoin="miter"/>
<text x="1117.6" y="799.1" font-size="13.89">sg650</text>
<line x1="1188.7" y1="731.0" x2="1219.1" y2="731.0" stroke="#7f7f7f" stroke-width="2.5"/>
<path d="M1203.9 723.6 L1196.4 738.6 L1211.4 738.6Z" fill="#7f7f7f" stroke="#000" stroke-width="1.5" stroke-linejoin="miter"/>
<text x="1228.9" y="736.0" font-size="13.89">sg651</text>
<line x1="1188.7" y1="752.2" x2="1219.1" y2="752.2" stroke="#bcbd22" stroke-width="2.5"/>
<path d="M1203.9 744.8 L1196.4 759.8 L1211.4 759.8Z" fill="#bcbd22" stroke="#000" stroke-width="1.5" stroke-linejoin="miter"/>
<text x="1228.9" y="757.2" font-size="13.89">sg663</text>
<line x1="1188.7" y1="773.2" x2="1219.1" y2="773.2" stroke="#17becf" stroke-width="2.5"/>
<path d="M1203.9 765.8 L1196.4 780.8 L1211.4 780.8Z" fill="#17becf" stroke="#000" stroke-width="1.5" stroke-linejoin="miter"/>
<text x="1228.9" y="778.2" font-size="13.89">sg665</text>
<line x1="1188.7" y1="794.1" x2="1219.1" y2="794.1" stroke="#1f77b4" stroke-width="2.5"/>
<path d="M1203.9 786.7 L1196.4 801.7 L1211.4 801.7Z" fill="#1f77b4" stroke="#000" stroke-width="1.5" stroke-linejoin="miter"/>
<text x="1228.9" y="799.1" font-size="13.89">sg668</text>
</svg></body></html>
